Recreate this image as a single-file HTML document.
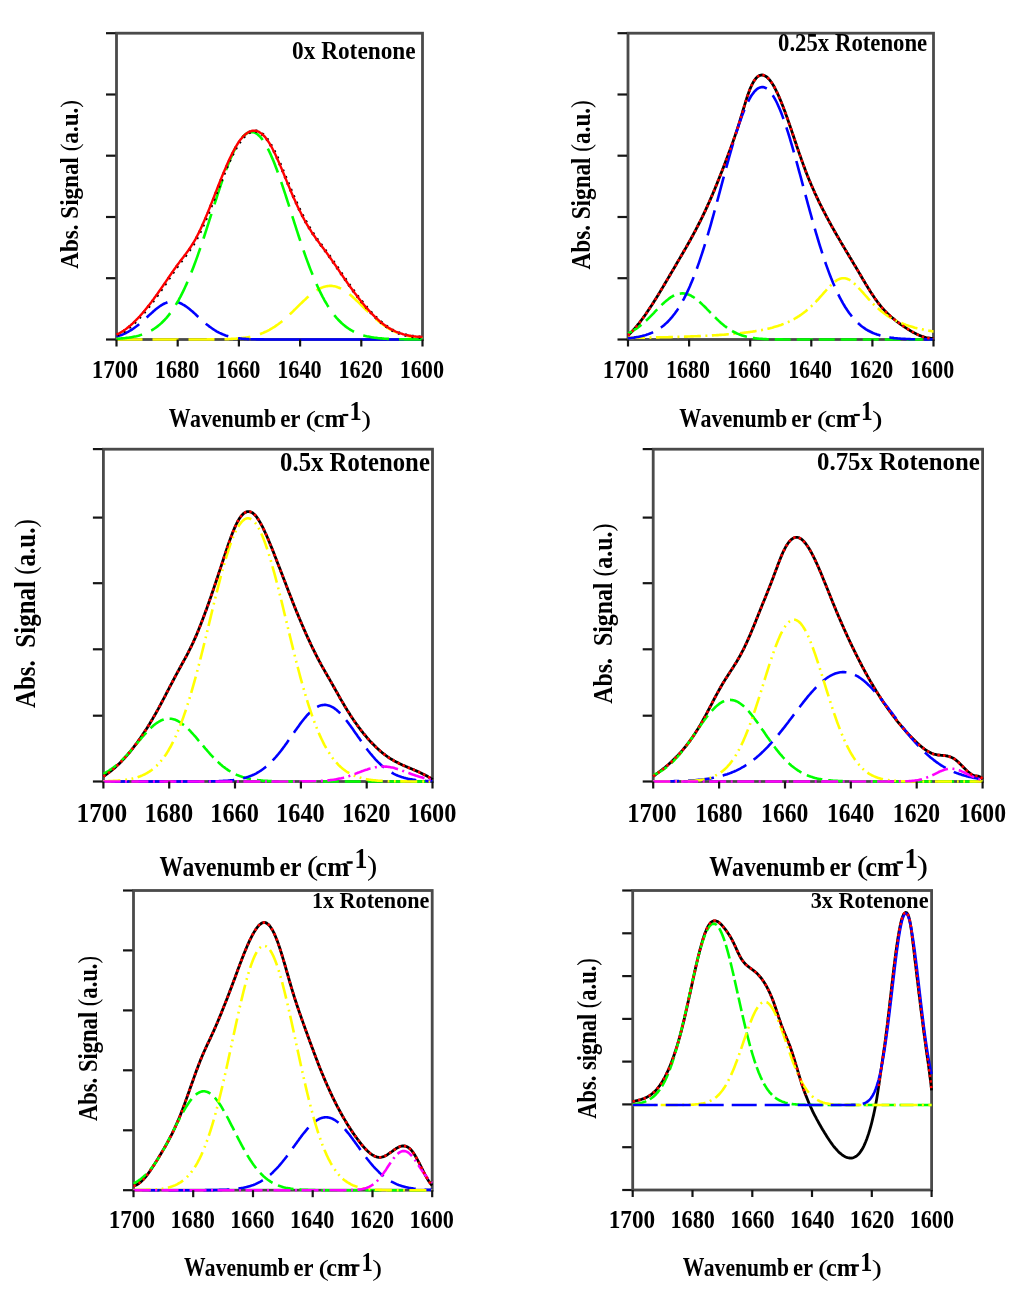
<!DOCTYPE html>
<html><head><meta charset="utf-8"><style>
html,body{margin:0;padding:0;background:#fff;}
svg{display:block;filter:blur(0.4px);}
text{font-family:"Liberation Serif", serif;font-weight:bold;fill:#000;}
</style></head><body>
<svg width="1024" height="1313" viewBox="0 0 1024 1313">
<rect width="1024" height="1313" fill="#fff"/>
<rect x="116.5" y="33.2" width="306.0" height="306.3" fill="none" stroke="#4a4a4a" stroke-width="2.8"/>
<path d="M116.5 339.5 117.5 339.5 118.5 339.5 119.5 339.5 120.5 339.5 121.5 339.5 122.5 339.5 123.5 339.5 124.5 339.5 125.5 339.5 126.5 339.5 127.5 339.5 128.5 339.5 129.5 339.5 130.5 339.5 131.5 339.5 132.5 339.5 133.5 339.5 134.5 339.5 135.5 339.5 136.5 339.5 137.5 339.5 138.5 339.5 139.5 339.5 140.5 339.5 141.5 339.5 142.5 339.5 143.5 339.5 144.5 339.5 145.5 339.5 146.5 339.5 147.5 339.5 148.5 339.5 149.5 339.5 150.5 339.5 151.5 339.5 152.5 339.5 153.5 339.5 154.5 339.5 155.5 339.5 156.5 339.5 157.5 339.5 158.5 339.5 159.5 339.5 160.5 339.5 161.5 339.5 162.5 339.5 163.5 339.5 164.5 339.5 165.5 339.5 166.5 339.5 167.5 339.5 168.5 339.5 169.5 339.5 170.5 339.5 171.5 339.5 172.5 339.5 173.5 339.5 174.5 339.5 175.5 339.5 176.5 339.5 177.5 339.5 178.5 339.5 179.5 339.5 180.5 339.5 181.5 339.5 182.5 339.5 183.5 339.5 184.5 339.5 185.5 339.5 186.5 339.5 187.5 339.5 188.5 339.5 189.5 339.5 190.5 339.5 191.5 339.5 192.5 339.5 193.5 339.5 194.5 339.5 195.5 339.5 196.5 339.5 197.5 339.5 198.5 339.5 199.5 339.5 200.5 339.5 201.5 339.5 202.5 339.5 203.5 339.5 204.5 339.5 205.5 339.5 206.5 339.5 207.5 339.4 208.5 339.4 209.5 339.4 210.5 339.4 211.5 339.4 212.5 339.4 213.5 339.4 214.5 339.4 215.5 339.4 216.5 339.4 217.5 339.3 218.5 339.3 219.5 339.3 220.5 339.3 221.5 339.3 222.5 339.3 223.5 339.2 224.5 339.2 225.5 339.2 226.5 339.1 227.5 339.1 228.5 339.1 229.5 339.0 230.5 339.0 231.5 338.9 232.5 338.9 233.5 338.8 234.5 338.7 235.5 338.7 236.5 338.6 237.5 338.5 238.5 338.4 239.5 338.3 240.5 338.2 241.5 338.1 242.5 338.0 243.5 337.8 244.5 337.7 245.5 337.6 246.5 337.4 247.5 337.2 248.5 337.1 249.5 336.9 250.5 336.7 251.5 336.5 252.5 336.2 253.5 336.0 254.5 335.7 255.5 335.5 256.5 335.2 257.5 334.9 258.5 334.5 259.5 334.2 260.5 333.9 261.5 333.5 262.5 333.1 263.5 332.7 264.5 332.2 265.5 331.8 266.5 331.3 267.5 330.8 268.5 330.3 269.5 329.8 270.5 329.2 271.5 328.6 272.5 328.0 273.5 327.4 274.5 326.8 275.5 326.1 276.5 325.4 277.5 324.7 278.5 324.0 279.5 323.2 280.5 322.5 281.5 321.7 282.5 320.8 283.5 320.0 284.5 319.2 285.5 318.3 286.5 317.4 287.5 316.5 288.5 315.6 289.5 314.7 290.5 313.7 291.5 312.8 292.5 311.8 293.5 310.8 294.5 309.8 295.5 308.9 296.5 307.9 297.5 306.9 298.5 305.9 299.5 304.9 300.5 303.9 301.5 303.0 302.5 302.0 303.5 301.0 304.5 300.1 305.5 299.2 306.5 298.2 307.5 297.3 308.5 296.5 309.5 295.6 310.5 294.8 311.5 294.0 312.5 293.2 313.5 292.5 314.5 291.7 315.5 291.1 316.5 290.4 317.5 289.8 318.5 289.2 319.5 288.7 320.5 288.2 321.5 287.8 322.5 287.4 323.5 287.0 324.5 286.7 325.5 286.5 326.5 286.3 327.5 286.1 328.5 286.0 329.5 285.9 330.5 285.9 331.5 285.9 332.5 286.0 333.5 286.2 334.5 286.3 335.5 286.6 336.5 286.8 337.5 287.2 338.5 287.5 339.5 288.0 340.5 288.4 341.5 288.9 342.5 289.5 343.5 290.0 344.5 290.7 345.5 291.3 346.5 292.0 347.5 292.7 348.5 293.5 349.5 294.3 350.5 295.1 351.5 295.9 352.5 296.8 353.5 297.7 354.5 298.6 355.5 299.5 356.5 300.5 357.5 301.4 358.5 302.4 359.5 303.3 360.5 304.3 361.5 305.3 362.5 306.3 363.5 307.3 364.5 308.3 365.5 309.3 366.5 310.2 367.5 311.2 368.5 312.2 369.5 313.1 370.5 314.1 371.5 315.0 372.5 316.0 373.5 316.9 374.5 317.8 375.5 318.6 376.5 319.5 377.5 320.3 378.5 321.2 379.5 322.0 380.5 322.8 381.5 323.5 382.5 324.3 383.5 325.0 384.5 325.7 385.5 326.4 386.5 327.0 387.5 327.7 388.5 328.3 389.5 328.9 390.5 329.5 391.5 330.0 392.5 330.5 393.5 331.0 394.5 331.5 395.5 332.0 396.5 332.4 397.5 332.8 398.5 333.2 399.5 333.6 400.5 334.0 401.5 334.3 402.5 334.7 403.5 335.0 404.5 335.3 405.5 335.6 406.5 335.8 407.5 336.1 408.5 336.3 409.5 336.5 410.5 336.8 411.5 337.0 412.5 337.1 413.5 337.3 414.5 337.5 415.5 337.6 416.5 337.8 417.5 337.9 418.5 338.0 419.5 338.1 420.5 338.2 421.5 338.4 422.5 338.4 422.5 338.4" fill="none" stroke="#ffff00" stroke-width="2.6" stroke-dasharray="26 10"/>
<path d="M116.5 336.5 117.5 336.2 118.5 335.9 119.5 335.6 120.5 335.2 121.5 334.9 122.5 334.5 123.5 334.1 124.5 333.6 125.5 333.2 126.5 332.7 127.5 332.1 128.5 331.6 129.5 331.0 130.5 330.4 131.5 329.8 132.5 329.1 133.5 328.5 134.5 327.7 135.5 327.0 136.5 326.3 137.5 325.5 138.5 324.7 139.5 323.8 140.5 323.0 141.5 322.1 142.5 321.3 143.5 320.4 144.5 319.5 145.5 318.6 146.5 317.6 147.5 316.7 148.5 315.8 149.5 314.9 150.5 314.0 151.5 313.1 152.5 312.2 153.5 311.3 154.5 310.4 155.5 309.6 156.5 308.8 157.5 308.0 158.5 307.2 159.5 306.5 160.5 305.8 161.5 305.2 162.5 304.6 163.5 304.0 164.5 303.5 165.5 303.1 166.5 302.7 167.5 302.3 168.5 302.1 169.5 301.8 170.5 301.7 171.5 301.6 172.5 301.5 173.5 301.5 174.5 301.6 175.5 301.7 176.5 301.9 177.5 302.2 178.5 302.5 179.5 302.8 180.5 303.3 181.5 303.7 182.5 304.3 183.5 304.8 184.5 305.4 185.5 306.1 186.5 306.8 187.5 307.5 188.5 308.3 189.5 309.1 190.5 309.9 191.5 310.8 192.5 311.6 193.5 312.5 194.5 313.4 195.5 314.3 196.5 315.3 197.5 316.2 198.5 317.1 199.5 318.0 200.5 318.9 201.5 319.8 202.5 320.7 203.5 321.6 204.5 322.5 205.5 323.3 206.5 324.2 207.5 325.0 208.5 325.8 209.5 326.6 210.5 327.3 211.5 328.0 212.5 328.7 213.5 329.4 214.5 330.0 215.5 330.7 216.5 331.3 217.5 331.8 218.5 332.4 219.5 332.9 220.5 333.3 221.5 333.8 222.5 334.2 223.5 334.6 224.5 335.0 225.5 335.4 226.5 335.7 227.5 336.0 228.5 336.3 229.5 336.6 230.5 336.9 231.5 337.1 232.5 337.3 233.5 337.5 234.5 337.7 235.5 337.9 236.5 338.0 237.5 338.2 238.5 338.3 239.5 338.4 240.5 338.5 241.5 338.6 242.5 338.7 243.5 338.8 244.5 338.9 245.5 338.9 246.5 339.0 247.5 339.1 248.5 339.1 249.5 339.2" fill="none" stroke="#0000ff" stroke-width="2.6" stroke-dasharray="26 10"/>
<path d="M250.5 339.2 251.5 339.2 252.5 339.3 253.5 339.3 254.5 339.3 255.5 339.3 256.5 339.4 257.5 339.4 258.5 339.4 259.5 339.4 260.5 339.4 261.5 339.4 262.5 339.4 263.5 339.4 264.5 339.5 265.5 339.5 266.5 339.5 267.5 339.5 268.5 339.5 269.5 339.5 270.5 339.5 271.5 339.5 272.5 339.5 273.5 339.5 274.5 339.5 275.5 339.5 276.5 339.5 277.5 339.5 278.5 339.5 279.5 339.5 280.5 339.5 281.5 339.5 282.5 339.5 283.5 339.5 284.5 339.5 285.5 339.5 286.5 339.5 287.5 339.5 288.5 339.5 289.5 339.5 290.5 339.5 291.5 339.5 292.5 339.5 293.5 339.5 294.5 339.5 295.5 339.5 296.5 339.5 297.5 339.5 298.5 339.5 299.5 339.5 300.5 339.5 301.5 339.5 302.5 339.5 303.5 339.5 304.5 339.5 305.5 339.5 306.5 339.5 307.5 339.5 308.5 339.5 309.5 339.5 310.5 339.5 311.5 339.5 312.5 339.5 313.5 339.5 314.5 339.5 315.5 339.5 316.5 339.5 317.5 339.5 318.5 339.5 319.5 339.5 320.5 339.5 321.5 339.5 322.5 339.5 323.5 339.5 324.5 339.5 325.5 339.5 326.5 339.5 327.5 339.5 328.5 339.5 329.5 339.5 330.5 339.5 331.5 339.5 332.5 339.5 333.5 339.5 334.5 339.5 335.5 339.5 336.5 339.5 337.5 339.5 338.5 339.5 339.5 339.5 340.5 339.5 341.5 339.5 342.5 339.5 343.5 339.5 344.5 339.5 345.5 339.5 346.5 339.5 347.5 339.5 348.5 339.5 349.5 339.5 350.5 339.5 351.5 339.5 352.5 339.5 353.5 339.5 354.5 339.5 355.5 339.5 356.5 339.5 357.5 339.5 358.5 339.5 359.5 339.5 360.5 339.5 361.5 339.5 362.5 339.5 363.5 339.5 364.5 339.5 365.5 339.5 366.5 339.5 367.5 339.5 368.5 339.5 369.5 339.5 370.5 339.5 371.5 339.5 372.5 339.5 373.5 339.5 374.5 339.5 375.5 339.5 376.5 339.5 377.5 339.5 378.5 339.5 379.5 339.5 380.5 339.5 381.5 339.5 382.5 339.5 383.5 339.5 384.5 339.5 385.5 339.5 386.5 339.5 387.5 339.5 388.5 339.5 389.5 339.5 390.5 339.5 391.5 339.5 392.5 339.5 393.5 339.5 394.5 339.5 395.5 339.5 396.5 339.5 397.5 339.5 398.5 339.5 399.5 339.5 400.5 339.5 401.5 339.5 402.5 339.5 403.5 339.5 404.5 339.5 405.5 339.5 406.5 339.5 407.5 339.5 408.5 339.5 409.5 339.5 410.5 339.5 411.5 339.5 412.5 339.5 413.5 339.5 414.5 339.5 415.5 339.5 416.5 339.5 417.5 339.5 418.5 339.5 419.5 339.5 420.5 339.5 421.5 339.5 422.5 339.5 422.5 339.5" fill="none" stroke="#0000ff" stroke-width="2.6"/>
<path d="M116.5 338.8 117.5 338.7 118.5 338.7 119.5 338.6 120.5 338.5 121.5 338.4 122.5 338.4 123.5 338.3 124.5 338.2 125.5 338.0 126.5 337.9 127.5 337.8 128.5 337.7 129.5 337.5 130.5 337.4 131.5 337.2 132.5 337.0 133.5 336.8 134.5 336.6 135.5 336.4 136.5 336.2 137.5 335.9 138.5 335.7 139.5 335.4 140.5 335.1 141.5 334.8 142.5 334.4 143.5 334.1 144.5 333.7 145.5 333.3 146.5 332.9 147.5 332.4 148.5 332.0 149.5 331.5 150.5 330.9 151.5 330.4 152.5 329.8 153.5 329.2 154.5 328.5 155.5 327.9 156.5 327.1 157.5 326.4 158.5 325.6 159.5 324.8 160.5 323.9 161.5 323.0 162.5 322.0 163.5 321.0 164.5 320.0 165.5 318.9 166.5 317.8 167.5 316.6 168.5 315.4 169.5 314.1 170.5 312.8 171.5 311.4 172.5 310.0 173.5 308.5 174.5 307.0 175.5 305.4 176.5 303.7 177.5 302.0 178.5 300.3 179.5 298.4 180.5 296.6 181.5 294.6 182.5 292.6 183.5 290.6 184.5 288.5 185.5 286.3 186.5 284.1 187.5 281.8 188.5 279.5 189.5 277.1 190.5 274.6 191.5 272.1 192.5 269.6 193.5 267.0 194.5 264.3 195.5 261.6 196.5 258.9 197.5 256.1 198.5 253.2 199.5 250.4 200.5 247.5 201.5 244.5 202.5 241.5 203.5 238.5 204.5 235.5 205.5 232.4 206.5 229.3 207.5 226.2 208.5 223.1 209.5 219.9 210.5 216.8 211.5 213.6 212.5 210.5 213.5 207.4 214.5 204.2 215.5 201.1 216.5 198.0 217.5 194.9 218.5 191.9 219.5 188.8 220.5 185.8 221.5 182.9 222.5 180.0 223.5 177.1 224.5 174.3 225.5 171.5 226.5 168.8 227.5 166.2 228.5 163.6 229.5 161.1 230.5 158.7 231.5 156.4 232.5 154.1 233.5 152.0 234.5 149.9 235.5 148.0 236.5 146.1 237.5 144.3 238.5 142.7 239.5 141.1 240.5 139.7 241.5 138.4 242.5 137.2 243.5 136.1 244.5 135.2 245.5 134.3 246.5 133.6 247.5 133.0 248.5 132.6 249.5 132.3 250.5 132.1 251.5 132.0 252.5 132.1 253.5 132.3 254.5 132.6 255.5 133.0 256.5 133.6 257.5 134.3 258.5 135.2 259.5 136.1 260.5 137.2 261.5 138.4 262.5 139.7 263.5 141.1 264.5 142.7 265.5 144.3 266.5 146.1 267.5 148.0 268.5 149.9 269.5 152.0 270.5 154.1 271.5 156.4 272.5 158.7 273.5 161.1 274.5 163.6 275.5 166.2 276.5 168.8 277.5 171.5 278.5 174.3 279.5 177.1 280.5 180.0 281.5 182.9 282.5 185.8 283.5 188.8 284.5 191.9 285.5 194.9 286.5 198.0 287.5 201.1 288.5 204.2 289.5 207.4 290.5 210.5 291.5 213.6 292.5 216.8 293.5 219.9 294.5 223.1 295.5 226.2 296.5 229.3 297.5 232.4 298.5 235.5 299.5 238.5 300.5 241.5 301.5 244.5 302.5 247.5 303.5 250.4 304.5 253.2 305.5 256.1 306.5 258.9 307.5 261.6 308.5 264.3 309.5 267.0 310.5 269.6 311.5 272.1 312.5 274.6 313.5 277.1 314.5 279.5 315.5 281.8 316.5 284.1 317.5 286.3 318.5 288.5 319.5 290.6 320.5 292.6 321.5 294.6 322.5 296.6 323.5 298.4 324.5 300.3 325.5 302.0 326.5 303.7 327.5 305.4 328.5 307.0 329.5 308.5 330.5 310.0 331.5 311.4 332.5 312.8 333.5 314.1 334.5 315.4 335.5 316.6 336.5 317.8 337.5 318.9 338.5 320.0 339.5 321.0 340.5 322.0 341.5 323.0 342.5 323.9 343.5 324.8 344.5 325.6 345.5 326.4 346.5 327.1 347.5 327.9 348.5 328.5 349.5 329.2 350.5 329.8 351.5 330.4 352.5 330.9 353.5 331.5 354.5 332.0 355.5 332.4 356.5 332.9 357.5 333.3 358.5 333.7 359.5 334.1 360.5 334.4 361.5 334.8 362.5 335.1 363.5 335.4 364.5 335.7 365.5 335.9 366.5 336.2 367.5 336.4 368.5 336.6 369.5 336.8 370.5 337.0 371.5 337.2 372.5 337.4 373.5 337.5 374.5 337.7 375.5 337.8 376.5 337.9 377.5 338.0 378.5 338.2 379.5 338.3 380.5 338.4 381.5 338.4 382.5 338.5 383.5 338.6 384.5 338.7 385.5 338.7 386.5 338.8 387.5 338.9 388.5 338.9 389.5 339.0 390.5 339.0 391.5 339.0 392.5 339.1 393.5 339.1 394.5 339.2 395.5 339.2 396.5 339.2 397.5 339.2 398.5 339.3 399.5 339.3 400.5 339.3 401.5 339.3 402.5 339.3 403.5 339.3 404.5 339.4 405.5 339.4 406.5 339.4 407.5 339.4 408.5 339.4 409.5 339.4 410.5 339.4 411.5 339.4 412.5 339.4 413.5 339.4 414.5 339.4 415.5 339.5 416.5 339.5 417.5 339.5 418.5 339.5 419.5 339.5 420.5 339.5 421.5 339.5 422.5 339.5 422.5 339.5" fill="none" stroke="#00ff00" stroke-width="2.6" stroke-dasharray="26 10"/>
<path d="M116.5 334.6 117.5 334.1 118.5 333.7 119.5 333.2 120.5 332.6 121.5 332.0 122.5 331.4 123.5 330.8 124.5 330.1 125.5 329.4 126.5 328.6 127.5 327.8 128.5 327.0 129.5 326.2 130.5 325.4 131.5 324.5 132.5 323.6 133.5 322.6 134.5 321.7 135.5 320.7 136.5 319.6 137.5 318.6 138.5 317.5 139.5 316.5 140.5 315.4 141.5 314.2 142.5 313.1 143.5 311.9 144.5 310.7 145.5 309.5 146.5 308.3 147.5 307.0 148.5 305.7 149.5 304.5 150.5 303.2 151.5 301.9 152.5 300.5 153.5 299.2 154.5 297.8 155.5 296.4 156.5 295.1 157.5 293.7 158.5 292.2 159.5 290.8 160.5 289.4 161.5 287.9 162.5 286.5 163.5 285.0 164.5 283.6 165.5 282.1 166.5 280.6 167.5 279.2 168.5 277.7 169.5 276.2 170.5 274.8 171.5 273.3 172.5 271.9 173.5 270.4 174.5 269.0 175.5 267.6 176.5 266.2 177.5 264.8 178.5 263.5 179.5 262.1 180.5 260.8 181.5 259.5 182.5 258.2 183.5 256.9 184.5 255.6 185.5 254.3 186.5 252.9 187.5 251.6 188.5 250.2 189.5 248.7 190.5 247.3 191.5 245.7 192.5 244.2 193.5 242.5 194.5 240.8 195.5 239.1 196.5 237.2 197.5 235.3 198.5 233.4 199.5 231.3 200.5 229.2 201.5 227.0 202.5 224.8 203.5 222.6 204.5 220.3 205.5 217.9 206.5 215.5 207.5 213.1 208.5 210.6 209.5 208.2 210.5 205.7 211.5 203.1 212.5 200.6 213.5 198.1 214.5 195.5 215.5 192.9 216.5 190.4 217.5 187.8 218.5 185.3 219.5 182.8 220.5 180.3 221.5 177.8 222.5 175.3 223.5 172.9 224.5 170.5 225.5 168.1 226.5 165.8 227.5 163.5 228.5 161.3 229.5 159.1 230.5 157.0 231.5 154.9 232.5 152.9 233.5 151.0 234.5 149.1 235.5 147.3 236.5 145.6 237.5 144.0 238.5 142.4 239.5 141.0 240.5 139.6 241.5 138.4 242.5 137.2 243.5 136.1 244.5 135.1 245.5 134.3 246.5 133.5 247.5 132.8 248.5 132.2 249.5 131.7 250.5 131.3 251.5 131.0 252.5 130.8 253.5 130.7 254.5 130.7 255.5 130.8 256.5 131.0 257.5 131.3 258.5 131.7 259.5 132.2 260.5 132.9 261.5 133.6 262.5 134.4 263.5 135.4 264.5 136.4 265.5 137.6 266.5 138.9 267.5 140.3 268.5 141.8 269.5 143.4 270.5 145.1 271.5 146.8 272.5 148.7 273.5 150.7 274.5 152.7 275.5 154.8 276.5 156.9 277.5 159.2 278.5 161.4 279.5 163.7 280.5 166.1 281.5 168.4 282.5 170.9 283.5 173.3 284.5 175.7 285.5 178.2 286.5 180.6 287.5 183.1 288.5 185.5 289.5 187.9 290.5 190.3 291.5 192.7 292.5 195.0 293.5 197.4 294.5 199.6 295.5 201.8 296.5 204.0 297.5 206.2 298.5 208.3 299.5 210.3 300.5 212.3 301.5 214.3 302.5 216.3 303.5 218.1 304.5 220.0 305.5 221.8 306.5 223.6 307.5 225.3 308.5 227.0 309.5 228.6 310.5 230.2 311.5 231.8 312.5 233.3 313.5 234.8 314.5 236.2 315.5 237.7 316.5 239.1 317.5 240.5 318.5 241.8 319.5 243.2 320.5 244.5 321.5 245.9 322.5 247.2 323.5 248.5 324.5 249.9 325.5 251.2 326.5 252.6 327.5 254.0 328.5 255.4 329.5 256.8 330.5 258.2 331.5 259.6 332.5 261.1 333.5 262.5 334.5 264.0 335.5 265.4 336.5 266.9 337.5 268.4 338.5 269.8 339.5 271.3 340.5 272.8 341.5 274.3 342.5 275.7 343.5 277.2 344.5 278.6 345.5 280.1 346.5 281.5 347.5 283.0 348.5 284.4 349.5 285.8 350.5 287.2 351.5 288.6 352.5 289.9 353.5 291.3 354.5 292.7 355.5 294.0 356.5 295.3 357.5 296.6 358.5 297.9 359.5 299.2 360.5 300.5 361.5 301.7 362.5 303.0 363.5 304.2 364.5 305.4 365.5 306.6 366.5 307.7 367.5 308.9 368.5 310.0 369.5 311.1 370.5 312.2 371.5 313.3 372.5 314.3 373.5 315.3 374.5 316.3 375.5 317.3 376.5 318.3 377.5 319.2 378.5 320.1 379.5 321.0 380.5 321.8 381.5 322.7 382.5 323.5 383.5 324.3 384.5 325.0 385.5 325.7 386.5 326.4 387.5 327.1 388.5 327.7 389.5 328.4 390.5 328.9 391.5 329.5 392.5 330.0 393.5 330.5 394.5 331.0 395.5 331.5 396.5 331.9 397.5 332.3 398.5 332.7 399.5 333.1 400.5 333.4 401.5 333.7 402.5 334.0 403.5 334.3 404.5 334.6 405.5 334.8 406.5 335.1 407.5 335.3 408.5 335.5 409.5 335.7 410.5 335.8 411.5 336.0 412.5 336.1 413.5 336.3 414.5 336.4 415.5 336.5 416.5 336.6 417.5 336.7 418.5 336.7 419.5 336.8 420.5 336.9 421.5 336.9 422.5 337.0 422.5 337.0" fill="none" stroke="#000" stroke-width="3.4" stroke-dasharray="2 5" transform="translate(0.6,0.4)"/>
<path d="M116.5 334.6 117.5 334.1 118.5 333.7 119.5 333.2 120.5 332.6 121.5 332.0 122.5 331.4 123.5 330.8 124.5 330.1 125.5 329.4 126.5 328.6 127.5 327.8 128.5 327.0 129.5 326.2 130.5 325.4 131.5 324.5 132.5 323.6 133.5 322.6 134.5 321.7 135.5 320.7 136.5 319.6 137.5 318.6 138.5 317.5 139.5 316.5 140.5 315.4 141.5 314.2 142.5 313.1 143.5 311.9 144.5 310.7 145.5 309.5 146.5 308.3 147.5 307.0 148.5 305.7 149.5 304.5 150.5 303.2 151.5 301.9 152.5 300.5 153.5 299.2 154.5 297.8 155.5 296.4 156.5 295.1 157.5 293.7 158.5 292.2 159.5 290.8 160.5 289.4 161.5 287.9 162.5 286.5 163.5 285.0 164.5 283.6 165.5 282.1 166.5 280.6 167.5 279.2 168.5 277.7 169.5 276.2 170.5 274.8 171.5 273.3 172.5 271.9 173.5 270.4 174.5 269.0 175.5 267.6 176.5 266.2 177.5 264.8 178.5 263.5 179.5 262.1 180.5 260.8 181.5 259.5 182.5 258.2 183.5 256.9 184.5 255.6 185.5 254.3 186.5 252.9 187.5 251.6 188.5 250.2 189.5 248.7 190.5 247.3 191.5 245.7 192.5 244.2 193.5 242.5 194.5 240.8 195.5 239.1 196.5 237.2 197.5 235.3 198.5 233.4 199.5 231.3 200.5 229.2 201.5 227.0 202.5 224.8 203.5 222.6 204.5 220.3 205.5 217.9 206.5 215.5 207.5 213.1 208.5 210.6 209.5 208.2 210.5 205.7 211.5 203.1 212.5 200.6 213.5 198.1 214.5 195.5 215.5 192.9 216.5 190.4 217.5 187.8 218.5 185.3 219.5 182.8 220.5 180.3 221.5 177.8 222.5 175.3 223.5 172.9 224.5 170.5 225.5 168.1 226.5 165.8 227.5 163.5 228.5 161.3 229.5 159.1 230.5 157.0 231.5 154.9 232.5 152.9 233.5 151.0 234.5 149.1 235.5 147.3 236.5 145.6 237.5 144.0 238.5 142.4 239.5 141.0 240.5 139.6 241.5 138.4 242.5 137.2 243.5 136.1 244.5 135.1 245.5 134.3 246.5 133.5 247.5 132.8 248.5 132.2 249.5 131.7 250.5 131.3 251.5 131.0 252.5 130.8 253.5 130.7 254.5 130.7 255.5 130.8 256.5 131.0 257.5 131.3 258.5 131.7 259.5 132.2 260.5 132.9 261.5 133.6 262.5 134.4 263.5 135.4 264.5 136.4 265.5 137.6 266.5 138.9 267.5 140.3 268.5 141.8 269.5 143.4 270.5 145.1 271.5 146.8 272.5 148.7 273.5 150.7 274.5 152.7 275.5 154.8 276.5 156.9 277.5 159.2 278.5 161.4 279.5 163.7 280.5 166.1 281.5 168.4 282.5 170.9 283.5 173.3 284.5 175.7 285.5 178.2 286.5 180.6 287.5 183.1 288.5 185.5 289.5 187.9 290.5 190.3 291.5 192.7 292.5 195.0 293.5 197.4 294.5 199.6 295.5 201.8 296.5 204.0 297.5 206.2 298.5 208.3 299.5 210.3 300.5 212.3 301.5 214.3 302.5 216.3 303.5 218.1 304.5 220.0 305.5 221.8 306.5 223.6 307.5 225.3 308.5 227.0 309.5 228.6 310.5 230.2 311.5 231.8 312.5 233.3 313.5 234.8 314.5 236.2 315.5 237.7 316.5 239.1 317.5 240.5 318.5 241.8 319.5 243.2 320.5 244.5 321.5 245.9 322.5 247.2 323.5 248.5 324.5 249.9 325.5 251.2 326.5 252.6 327.5 254.0 328.5 255.4 329.5 256.8 330.5 258.2 331.5 259.6 332.5 261.1 333.5 262.5 334.5 264.0 335.5 265.4 336.5 266.9 337.5 268.4 338.5 269.8 339.5 271.3 340.5 272.8 341.5 274.3 342.5 275.7 343.5 277.2 344.5 278.6 345.5 280.1 346.5 281.5 347.5 283.0 348.5 284.4 349.5 285.8 350.5 287.2 351.5 288.6 352.5 289.9 353.5 291.3 354.5 292.7 355.5 294.0 356.5 295.3 357.5 296.6 358.5 297.9 359.5 299.2 360.5 300.5 361.5 301.7 362.5 303.0 363.5 304.2 364.5 305.4 365.5 306.6 366.5 307.7 367.5 308.9 368.5 310.0 369.5 311.1 370.5 312.2 371.5 313.3 372.5 314.3 373.5 315.3 374.5 316.3 375.5 317.3 376.5 318.3 377.5 319.2 378.5 320.1 379.5 321.0 380.5 321.8 381.5 322.7 382.5 323.5 383.5 324.3 384.5 325.0 385.5 325.7 386.5 326.4 387.5 327.1 388.5 327.7 389.5 328.4 390.5 328.9 391.5 329.5 392.5 330.0 393.5 330.5 394.5 331.0 395.5 331.5 396.5 331.9 397.5 332.3 398.5 332.7 399.5 333.1 400.5 333.4 401.5 333.7 402.5 334.0 403.5 334.3 404.5 334.6 405.5 334.8 406.5 335.1 407.5 335.3 408.5 335.5 409.5 335.7 410.5 335.8 411.5 336.0 412.5 336.1 413.5 336.3 414.5 336.4 415.5 336.5 416.5 336.6 417.5 336.7 418.5 336.7 419.5 336.8 420.5 336.9 421.5 336.9 422.5 337.0 422.5 337.0" fill="none" stroke="#ff0000" stroke-width="2.4"/>
<line x1="106.0" y1="33.2" x2="115.5" y2="33.2" stroke="#151515" stroke-width="2.2"/>
<line x1="106.0" y1="94.5" x2="115.5" y2="94.5" stroke="#151515" stroke-width="2.2"/>
<line x1="106.0" y1="155.7" x2="115.5" y2="155.7" stroke="#151515" stroke-width="2.2"/>
<line x1="106.0" y1="217.0" x2="115.5" y2="217.0" stroke="#151515" stroke-width="2.2"/>
<line x1="106.0" y1="278.2" x2="115.5" y2="278.2" stroke="#151515" stroke-width="2.2"/>
<line x1="106.0" y1="339.5" x2="115.5" y2="339.5" stroke="#151515" stroke-width="2.2"/>
<line x1="116.5" y1="339.5" x2="116.5" y2="346.5" stroke="#151515" stroke-width="2.2"/>
<line x1="177.7" y1="339.5" x2="177.7" y2="346.5" stroke="#151515" stroke-width="2.2"/>
<line x1="238.9" y1="339.5" x2="238.9" y2="346.5" stroke="#151515" stroke-width="2.2"/>
<line x1="300.1" y1="339.5" x2="300.1" y2="346.5" stroke="#151515" stroke-width="2.2"/>
<line x1="361.3" y1="339.5" x2="361.3" y2="346.5" stroke="#151515" stroke-width="2.2"/>
<line x1="422.5" y1="339.5" x2="422.5" y2="346.5" stroke="#151515" stroke-width="2.2"/>
<text x="91.64" y="377.90" font-size="25.71" textLength="46.44" lengthAdjust="spacingAndGlyphs" >1700</text>
<text x="154.84" y="377.90" font-size="25.71" textLength="44.44" lengthAdjust="spacingAndGlyphs" >1680</text>
<text x="216.04" y="377.90" font-size="25.71" textLength="44.44" lengthAdjust="spacingAndGlyphs" >1660</text>
<text x="277.24" y="377.90" font-size="25.71" textLength="44.44" lengthAdjust="spacingAndGlyphs" >1640</text>
<text x="338.44" y="377.90" font-size="25.71" textLength="44.44" lengthAdjust="spacingAndGlyphs" >1620</text>
<text x="399.64" y="377.90" font-size="25.71" textLength="44.44" lengthAdjust="spacingAndGlyphs" >1600</text>
<text x="292.03" y="59.20" font-size="25.41" textLength="123.63" lengthAdjust="spacingAndGlyphs" >0x Rotenone</text>
<text x="168.73" y="427.20" font-size="26.27" textLength="21.89" lengthAdjust="spacingAndGlyphs" >W</text>
<g transform="translate(0,427.20) scale(1,0.950) translate(0,-427.20)"><text x="189.95" y="427.20" font-size="26.27" textLength="86.32" lengthAdjust="spacingAndGlyphs" >avenumb</text></g>
<g transform="translate(0,427.20) scale(1,0.950) translate(0,-427.20)"><text x="280.20" y="427.20" font-size="26.27" textLength="20.26" lengthAdjust="spacingAndGlyphs" >er</text></g>
<text x="305.48" y="426.56" font-size="23.62" textLength="10.59" lengthAdjust="spacingAndGlyphs" style="font-weight:normal">(</text>
<g transform="translate(0,427.20) scale(1,0.950) translate(0,-427.20)"><text x="313.51" y="427.20" font-size="26.27" textLength="31.43" lengthAdjust="spacingAndGlyphs" >cm</text></g>
<rect x="342.50" y="413.90" width="5.80" height="2.20" fill="#000"/>
<text x="349.50" y="419.90" font-size="27.42" textLength="12.21" lengthAdjust="spacingAndGlyphs" >1</text>
<text x="361.24" y="426.56" font-size="23.62" textLength="9.80" lengthAdjust="spacingAndGlyphs" style="font-weight:normal">)</text>
<text transform="translate(78.20,268.65) rotate(-90)" font-size="26.05" textLength="168.60" lengthAdjust="spacingAndGlyphs" xml:space="preserve" >Abs. Signal <tspan font-weight="normal">(</tspan>a.u.<tspan font-weight="normal">)</tspan></text>
<rect x="628.0" y="33.2" width="305.5" height="306.3" fill="none" stroke="#4a4a4a" stroke-width="2.8"/>
<path d="M628.0 335.5 629.0 334.5 630.0 333.5 631.0 332.5 632.0 331.5 633.0 330.4 634.0 329.3 635.0 328.1 636.0 327.0 637.0 325.8 638.0 324.5 639.0 323.3 640.0 322.0 641.0 320.7 642.0 319.3 643.0 318.0 644.0 316.6 645.0 315.2 646.0 313.8 647.0 312.3 648.0 310.8 649.0 309.3 650.0 307.8 651.0 306.3 652.0 304.8 653.0 303.2 654.0 301.6 655.0 300.0 656.0 298.4 657.0 296.8 658.0 295.2 659.0 293.6 660.0 291.9 661.0 290.2 662.0 288.6 663.0 286.9 664.0 285.2 665.0 283.5 666.0 281.8 667.0 280.1 668.0 278.4 669.0 276.7 670.0 275.0 671.0 273.3 672.0 271.6 673.0 269.9 674.0 268.2 675.0 266.5 676.0 264.8 677.0 263.0 678.0 261.3 679.0 259.6 680.0 257.9 681.0 256.2 682.0 254.5 683.0 252.8 684.0 251.0 685.0 249.3 686.0 247.6 687.0 245.8 688.0 244.0 689.0 242.2 690.0 240.5 691.0 238.6 692.0 236.8 693.0 235.0 694.0 233.1 695.0 231.3 696.0 229.4 697.0 227.4 698.0 225.5 699.0 223.5 700.0 221.6 701.0 219.6 702.0 217.5 703.0 215.5 704.0 213.4 705.0 211.3 706.0 209.1 707.0 206.9 708.0 204.7 709.0 202.5 710.0 200.2 711.0 197.9 712.0 195.6 713.0 193.3 714.0 190.9 715.0 188.5 716.0 186.0 717.0 183.6 718.0 181.1 719.0 178.6 720.0 176.1 721.0 173.5 722.0 171.0 723.0 168.4 724.0 165.8 725.0 163.2 726.0 160.5 727.0 157.9 728.0 155.2 729.0 152.6 730.0 149.9 731.0 147.1 732.0 144.4 733.0 141.6 734.0 138.8 735.0 135.9 736.0 132.9 737.0 129.9 738.0 126.9 739.0 123.7 740.0 120.5 741.0 117.1 742.0 113.8 743.0 110.4 744.0 107.1 745.0 103.8 746.0 100.6 747.0 97.5 748.0 94.5 749.0 91.7 750.0 89.1 751.0 86.7 752.0 84.6 753.0 82.7 754.0 81.0 755.0 79.6 756.0 78.3 757.0 77.3 758.0 76.4 759.0 75.8 760.0 75.4 761.0 75.1 762.0 75.0 763.0 75.1 764.0 75.4 765.0 75.9 766.0 76.5 767.0 77.2 768.0 78.2 769.0 79.2 770.0 80.4 771.0 81.8 772.0 83.2 773.0 84.8 774.0 86.5 775.0 88.4 776.0 90.3 777.0 92.4 778.0 94.5 779.0 96.7 780.0 99.1 781.0 101.5 782.0 104.0 783.0 106.5 784.0 109.2 785.0 111.8 786.0 114.6 787.0 117.4 788.0 120.2 789.0 123.1 790.0 126.0 791.0 128.9 792.0 131.9 793.0 134.8 794.0 137.8 795.0 140.8 796.0 143.7 797.0 146.7 798.0 149.6 799.0 152.6 800.0 155.4 801.0 158.3 802.0 161.1 803.0 163.9 804.0 166.6 805.0 169.3 806.0 171.9 807.0 174.4 808.0 176.9 809.0 179.4 810.0 181.8 811.0 184.2 812.0 186.5 813.0 188.8 814.0 191.0 815.0 193.3 816.0 195.4 817.0 197.6 818.0 199.7 819.0 201.8 820.0 203.8 821.0 205.8 822.0 207.8 823.0 209.8 824.0 211.7 825.0 213.7 826.0 215.6 827.0 217.5 828.0 219.3 829.0 221.2 830.0 223.0 831.0 224.8 832.0 226.7 833.0 228.4 834.0 230.2 835.0 232.0 836.0 233.7 837.0 235.5 838.0 237.2 839.0 238.9 840.0 240.6 841.0 242.4 842.0 244.1 843.0 245.7 844.0 247.4 845.0 249.1 846.0 250.8 847.0 252.5 848.0 254.1 849.0 255.8 850.0 257.5 851.0 259.1 852.0 260.8 853.0 262.5 854.0 264.2 855.0 265.8 856.0 267.5 857.0 269.2 858.0 270.9 859.0 272.6 860.0 274.3 861.0 276.0 862.0 277.7 863.0 279.4 864.0 281.0 865.0 282.7 866.0 284.4 867.0 286.0 868.0 287.7 869.0 289.3 870.0 290.9 871.0 292.5 872.0 294.0 873.0 295.5 874.0 297.0 875.0 298.5 876.0 299.9 877.0 301.3 878.0 302.7 879.0 304.0 880.0 305.2 881.0 306.5 882.0 307.6 883.0 308.8 884.0 309.9 885.0 311.0 886.0 312.0 887.0 313.0 888.0 314.0 889.0 314.9 890.0 315.8 891.0 316.7 892.0 317.6 893.0 318.4 894.0 319.2 895.0 320.0 896.0 320.8 897.0 321.6 898.0 322.3 899.0 323.0 900.0 323.8 901.0 324.5 902.0 325.2 903.0 325.9 904.0 326.6 905.0 327.3 906.0 327.9 907.0 328.6 908.0 329.2 909.0 329.9 910.0 330.5 911.0 331.1 912.0 331.7 913.0 332.2 914.0 332.8 915.0 333.3 916.0 333.8 917.0 334.3 918.0 334.8 919.0 335.2 920.0 335.6 921.0 336.0 922.0 336.4 923.0 336.7 924.0 337.0 925.0 337.3 926.0 337.6 927.0 337.8 928.0 338.0 929.0 338.1 930.0 338.2 931.0 338.3 932.0 338.4 933.0 338.4 933.5 338.4" fill="none" stroke="#000" stroke-width="2.8"/>
<path d="M628.0 337.9 629.0 337.9 630.0 337.9 631.0 337.9 632.0 337.9 633.0 337.9 634.0 337.8 635.0 337.8 636.0 337.8 637.0 337.8 638.0 337.8 639.0 337.8 640.0 337.7 641.0 337.7 642.0 337.7 643.0 337.7 644.0 337.7 645.0 337.7 646.0 337.6 647.0 337.6 648.0 337.6 649.0 337.6 650.0 337.6 651.0 337.5 652.0 337.5 653.0 337.5 654.0 337.5 655.0 337.5 656.0 337.4 657.0 337.4 658.0 337.4 659.0 337.4 660.0 337.3 661.0 337.3 662.0 337.3 663.0 337.3 664.0 337.3 665.0 337.2 666.0 337.2 667.0 337.2 668.0 337.2 669.0 337.1 670.0 337.1 671.0 337.1 672.0 337.0 673.0 337.0 674.0 337.0 675.0 337.0 676.0 336.9 677.0 336.9 678.0 336.9 679.0 336.8 680.0 336.8 681.0 336.8 682.0 336.8 683.0 336.7 684.0 336.7 685.0 336.6 686.0 336.6 687.0 336.6 688.0 336.5 689.0 336.5 690.0 336.5 691.0 336.4 692.0 336.4 693.0 336.4 694.0 336.3 695.0 336.3 696.0 336.2 697.0 336.2 698.0 336.1 699.0 336.1 700.0 336.1 701.0 336.0 702.0 336.0 703.0 335.9 704.0 335.9 705.0 335.8 706.0 335.8 707.0 335.7 708.0 335.7 709.0 335.6 710.0 335.6 711.0 335.5 712.0 335.4 713.0 335.4 714.0 335.3 715.0 335.3 716.0 335.2 717.0 335.1 718.0 335.1 719.0 335.0 720.0 334.9 721.0 334.9 722.0 334.8 723.0 334.7 724.0 334.7 725.0 334.6 726.0 334.5 727.0 334.4 728.0 334.3 729.0 334.3 730.0 334.2 731.0 334.1 732.0 334.0 733.0 333.9 734.0 333.8 735.0 333.7 736.0 333.6 737.0 333.5 738.0 333.4 739.0 333.3 740.0 333.2 741.0 333.1 742.0 333.0 743.0 332.9 744.0 332.8 745.0 332.6 746.0 332.5 747.0 332.4 748.0 332.2 749.0 332.1 750.0 332.0 751.0 331.8 752.0 331.7 753.0 331.5 754.0 331.4 755.0 331.2 756.0 331.0 757.0 330.9 758.0 330.7 759.0 330.5 760.0 330.3 761.0 330.1 762.0 330.0 763.0 329.8 764.0 329.5 765.0 329.3 766.0 329.1 767.0 328.9 768.0 328.7 769.0 328.4 770.0 328.2 771.0 327.9 772.0 327.7 773.0 327.4 774.0 327.1 775.0 326.8 776.0 326.5 777.0 326.2 778.0 325.9 779.0 325.6 780.0 325.2 781.0 324.9 782.0 324.5 783.0 324.1 784.0 323.7 785.0 323.3 786.0 322.9 787.0 322.5 788.0 322.1 789.0 321.6 790.0 321.1 791.0 320.6 792.0 320.1 793.0 319.6 794.0 319.1 795.0 318.5 796.0 317.9 797.0 317.3 798.0 316.7 799.0 316.1 800.0 315.4 801.0 314.7 802.0 314.0 803.0 313.3 804.0 312.5 805.0 311.8 806.0 311.0 807.0 310.1 808.0 309.3 809.0 308.4 810.0 307.5 811.0 306.6 812.0 305.6 813.0 304.7 814.0 303.7 815.0 302.6 816.0 301.6 817.0 300.5 818.0 299.5 819.0 298.4 820.0 297.2 821.0 296.1 822.0 295.0 823.0 293.9 824.0 292.7 825.0 291.6 826.0 290.5 827.0 289.3 828.0 288.3 829.0 287.2 830.0 286.1 831.0 285.1 832.0 284.2 833.0 283.3 834.0 282.4 835.0 281.6 836.0 280.9 837.0 280.2 838.0 279.7 839.0 279.2 840.0 278.8 841.0 278.5 842.0 278.3 843.0 278.2 844.0 278.2 845.0 278.3 846.0 278.5 847.0 278.8 848.0 279.2 849.0 279.7 850.0 280.2 851.0 280.9 852.0 281.6 853.0 282.4 854.0 283.3 855.0 284.2 856.0 285.1 857.0 286.1 858.0 287.2 859.0 288.3 860.0 289.3 861.0 290.5 862.0 291.6 863.0 292.7 864.0 293.9 865.0 295.0 866.0 296.1 867.0 297.2 868.0 298.4 869.0 299.5 870.0 300.5 871.0 301.6 872.0 302.6 873.0 303.7 874.0 304.7 875.0 305.6 876.0 306.6 877.0 307.5 878.0 308.4 879.0 309.3 880.0 310.1 881.0 311.0 882.0 311.8 883.0 312.5 884.0 313.3 885.0 314.0 886.0 314.7 887.0 315.4 888.0 316.1 889.0 316.7 890.0 317.3 891.0 317.9 892.0 318.5 893.0 319.1 894.0 319.6 895.0 320.1 896.0 320.6 897.0 321.1 898.0 321.6 899.0 322.1 900.0 322.5 901.0 322.9 902.0 323.3 903.0 323.7 904.0 324.1 905.0 324.5 906.0 324.9 907.0 325.2 908.0 325.6 909.0 325.9 910.0 326.2 911.0 326.5 912.0 326.8 913.0 327.1 914.0 327.4 915.0 327.7 916.0 327.9 917.0 328.2 918.0 328.4 919.0 328.7 920.0 328.9 921.0 329.1 922.0 329.3 923.0 329.5 924.0 329.8 925.0 330.0 926.0 330.1 927.0 330.3 928.0 330.5 929.0 330.7 930.0 330.9 931.0 331.0 932.0 331.2 933.0 331.4 933.5 331.4" fill="none" stroke="#ffff00" stroke-width="2.6" stroke-dasharray="17 4.5 2 4.5"/>
<path d="M628.0 333.3 629.0 332.8 630.0 332.3 631.0 331.8 632.0 331.3 633.0 330.7 634.0 330.1 635.0 329.4 636.0 328.8 637.0 328.1 638.0 327.4 639.0 326.6 640.0 325.9 641.0 325.1 642.0 324.2 643.0 323.4 644.0 322.5 645.0 321.6 646.0 320.7 647.0 319.8 648.0 318.8 649.0 317.8 650.0 316.8 651.0 315.8 652.0 314.8 653.0 313.8 654.0 312.8 655.0 311.7 656.0 310.7 657.0 309.7 658.0 308.7 659.0 307.6 660.0 306.6 661.0 305.7 662.0 304.7 663.0 303.7 664.0 302.8 665.0 301.9 666.0 301.0 667.0 300.2 668.0 299.4 669.0 298.6 670.0 297.9 671.0 297.2 672.0 296.6 673.0 296.0 674.0 295.5 675.0 295.0 676.0 294.6 677.0 294.3 678.0 294.0 679.0 293.7 680.0 293.6 681.0 293.5 682.0 293.4 683.0 293.4 684.0 293.5 685.0 293.6 686.0 293.8 687.0 294.1 688.0 294.4 689.0 294.8 690.0 295.2 691.0 295.7 692.0 296.3 693.0 296.9 694.0 297.5 695.0 298.2 696.0 298.9 697.0 299.7 698.0 300.5 699.0 301.4 700.0 302.3 701.0 303.2 702.0 304.1 703.0 305.1 704.0 306.0 705.0 307.0 706.0 308.0 707.0 309.1 708.0 310.1 709.0 311.1 710.0 312.2 711.0 313.2 712.0 314.2 713.0 315.2 714.0 316.2 715.0 317.2 716.0 318.2 717.0 319.2 718.0 320.1 719.0 321.1 720.0 322.0 721.0 322.9 722.0 323.7 723.0 324.6 724.0 325.4 725.0 326.2 726.0 326.9 727.0 327.7 728.0 328.4 729.0 329.1 730.0 329.7 731.0 330.3 732.0 330.9 733.0 331.5 734.0 332.0 735.0 332.5 736.0 333.0 737.0 333.5 738.0 333.9 739.0 334.3 740.0 334.7 741.0 335.1 742.0 335.4 743.0 335.7 744.0 336.0 745.0 336.3 746.0 336.6 747.0 336.8 748.0 337.1 749.0 337.3 750.0 337.5 751.0 337.6 752.0 337.8 753.0 338.0 754.0 338.1 755.0 338.2 756.0 338.4 757.0 338.5 758.0 338.6 759.0 338.7 760.0 338.7 761.0 338.8 762.0 338.9 763.0 339.0 764.0 339.0 765.0 339.1 766.0 339.1 767.0 339.2 768.0 339.2 769.0 339.2 770.0 339.3 771.0 339.3 772.0 339.3 773.0 339.3 774.0 339.3 775.0 339.4 776.0 339.4 777.0 339.4 778.0 339.4 779.0 339.4 780.0 339.4 781.0 339.4 782.0 339.4 783.0 339.5 784.0 339.5 785.0 339.5 786.0 339.5 787.0 339.5 788.0 339.5 789.0 339.5 790.0 339.5 791.0 339.5 792.0 339.5 793.0 339.5 794.0 339.5 795.0 339.5 796.0 339.5 797.0 339.5 798.0 339.5 799.0 339.5 800.0 339.5 801.0 339.5 802.0 339.5 803.0 339.5 804.0 339.5 805.0 339.5 806.0 339.5 807.0 339.5 808.0 339.5 809.0 339.5 810.0 339.5 811.0 339.5 812.0 339.5 813.0 339.5 814.0 339.5 815.0 339.5 816.0 339.5 817.0 339.5 818.0 339.5 819.0 339.5 820.0 339.5 821.0 339.5 822.0 339.5 823.0 339.5 824.0 339.5 825.0 339.5 826.0 339.5 827.0 339.5 828.0 339.5 829.0 339.5 830.0 339.5 831.0 339.5 832.0 339.5 833.0 339.5 834.0 339.5 835.0 339.5 836.0 339.5 837.0 339.5 838.0 339.5 839.0 339.5 840.0 339.5 841.0 339.5 842.0 339.5 843.0 339.5 844.0 339.5 845.0 339.5 846.0 339.5 847.0 339.5 848.0 339.5 849.0 339.5 850.0 339.5 851.0 339.5 852.0 339.5 853.0 339.5 854.0 339.5 855.0 339.5 856.0 339.5 857.0 339.5 858.0 339.5 859.0 339.5 860.0 339.5 861.0 339.5 862.0 339.5 863.0 339.5 864.0 339.5 865.0 339.5 866.0 339.5 867.0 339.5 868.0 339.5 869.0 339.5 870.0 339.5 871.0 339.5 872.0 339.5 873.0 339.5 874.0 339.5 875.0 339.5 876.0 339.5 877.0 339.5 878.0 339.5 879.0 339.5 880.0 339.5 881.0 339.5 882.0 339.5 883.0 339.5 884.0 339.5 885.0 339.5 886.0 339.5 887.0 339.5 888.0 339.5 889.0 339.5 890.0 339.5 891.0 339.5 892.0 339.5 893.0 339.5 894.0 339.5 895.0 339.5 896.0 339.5 897.0 339.5 898.0 339.5 899.0 339.5 900.0 339.5 901.0 339.5 902.0 339.5 903.0 339.5 904.0 339.5 905.0 339.5 906.0 339.5 907.0 339.5 908.0 339.5 909.0 339.5 910.0 339.5 911.0 339.5 912.0 339.5 913.0 339.5 914.0 339.5 915.0 339.5 916.0 339.5 917.0 339.5 918.0 339.5 919.0 339.5 920.0 339.5 921.0 339.5 922.0 339.5 923.0 339.5 924.0 339.5 925.0 339.5 926.0 339.5 927.0 339.5 928.0 339.5 929.0 339.5 930.0 339.5 931.0 339.5 932.0 339.5 933.0 339.5 933.5 339.5" fill="none" stroke="#00ff00" stroke-width="2.6" stroke-dasharray="16 6"/>
<path d="M628.0 338.3 629.0 338.2 630.0 338.1 631.0 338.0 632.0 337.9 633.0 337.7 634.0 337.6 635.0 337.4 636.0 337.3 637.0 337.1 638.0 336.9 639.0 336.7 640.0 336.5 641.0 336.3 642.0 336.1 643.0 335.8 644.0 335.5 645.0 335.3 646.0 335.0 647.0 334.6 648.0 334.3 649.0 333.9 650.0 333.5 651.0 333.1 652.0 332.7 653.0 332.2 654.0 331.7 655.0 331.2 656.0 330.7 657.0 330.1 658.0 329.5 659.0 328.9 660.0 328.2 661.0 327.5 662.0 326.8 663.0 326.0 664.0 325.2 665.0 324.3 666.0 323.4 667.0 322.5 668.0 321.5 669.0 320.4 670.0 319.4 671.0 318.2 672.0 317.1 673.0 315.8 674.0 314.5 675.0 313.2 676.0 311.8 677.0 310.4 678.0 308.9 679.0 307.3 680.0 305.7 681.0 304.0 682.0 302.2 683.0 300.4 684.0 298.6 685.0 296.6 686.0 294.6 687.0 292.6 688.0 290.4 689.0 288.2 690.0 286.0 691.0 283.6 692.0 281.2 693.0 278.8 694.0 276.2 695.0 273.6 696.0 271.0 697.0 268.2 698.0 265.4 699.0 262.6 700.0 259.6 701.0 256.7 702.0 253.6 703.0 250.5 704.0 247.3 705.0 244.1 706.0 240.9 707.0 237.5 708.0 234.2 709.0 230.7 710.0 227.3 711.0 223.8 712.0 220.2 713.0 216.6 714.0 213.0 715.0 209.4 716.0 205.7 717.0 202.0 718.0 198.3 719.0 194.6 720.0 190.9 721.0 187.2 722.0 183.4 723.0 179.7 724.0 176.0 725.0 172.3 726.0 168.6 727.0 164.9 728.0 161.3 729.0 157.7 730.0 154.1 731.0 150.6 732.0 147.1 733.0 143.6 734.0 140.3 735.0 137.0 736.0 133.7 737.0 130.5 738.0 127.5 739.0 124.4 740.0 121.5 741.0 118.7 742.0 115.9 743.0 113.3 744.0 110.8 745.0 108.4 746.0 106.1 747.0 103.9 748.0 101.8 749.0 99.8 750.0 98.0 751.0 96.3 752.0 94.8 753.0 93.4 754.0 92.1 755.0 91.0 756.0 90.0 757.0 89.1 758.0 88.4 759.0 87.9 760.0 87.5 761.0 87.2 762.0 87.1 763.0 87.1 764.0 87.3 765.0 87.7 766.0 88.2 767.0 88.8 768.0 89.6 769.0 90.5 770.0 91.6 771.0 92.8 772.0 94.2 773.0 95.7 774.0 97.3 775.0 99.1 776.0 101.0 777.0 103.0 778.0 105.2 779.0 107.4 780.0 109.8 781.0 112.3 782.0 114.9 783.0 117.6 784.0 120.4 785.0 123.3 786.0 126.2 787.0 129.3 788.0 132.4 789.0 135.7 790.0 138.9 791.0 142.3 792.0 145.7 793.0 149.2 794.0 152.7 795.0 156.2 796.0 159.8 797.0 163.4 798.0 167.1 799.0 170.8 800.0 174.5 801.0 178.2 802.0 181.9 803.0 185.7 804.0 189.4 805.0 193.1 806.0 196.9 807.0 200.6 808.0 204.3 809.0 207.9 810.0 211.6 811.0 215.2 812.0 218.8 813.0 222.4 814.0 225.9 815.0 229.4 816.0 232.8 817.0 236.2 818.0 239.5 819.0 242.8 820.0 246.1 821.0 249.2 822.0 252.4 823.0 255.4 824.0 258.5 825.0 261.4 826.0 264.3 827.0 267.1 828.0 269.9 829.0 272.6 830.0 275.2 831.0 277.8 832.0 280.2 833.0 282.7 834.0 285.0 835.0 287.3 836.0 289.6 837.0 291.7 838.0 293.8 839.0 295.8 840.0 297.8 841.0 299.7 842.0 301.5 843.0 303.3 844.0 305.0 845.0 306.7 846.0 308.2 847.0 309.8 848.0 311.2 849.0 312.7 850.0 314.0 851.0 315.3 852.0 316.6 853.0 317.8 854.0 318.9 855.0 320.0 856.0 321.1 857.0 322.1 858.0 323.0 859.0 324.0 860.0 324.8 861.0 325.7 862.0 326.5 863.0 327.2 864.0 327.9 865.0 328.6 866.0 329.3 867.0 329.9 868.0 330.5 869.0 331.0 870.0 331.5 871.0 332.0 872.0 332.5 873.0 333.0 874.0 333.4 875.0 333.8 876.0 334.1 877.0 334.5 878.0 334.8 879.0 335.1 880.0 335.4 881.0 335.7 882.0 336.0 883.0 336.2 884.0 336.4 885.0 336.7 886.0 336.9 887.0 337.0 888.0 337.2 889.0 337.4 890.0 337.5 891.0 337.7 892.0 337.8 893.0 337.9 894.0 338.1 895.0 338.2 896.0 338.3 897.0 338.4 898.0 338.5 899.0 338.5 900.0 338.6 901.0 338.7 902.0 338.7 903.0 338.8 904.0 338.9 905.0 338.9 906.0 339.0 907.0 339.0 908.0 339.0 909.0 339.1 910.0 339.1 911.0 339.2 912.0 339.2 913.0 339.2 914.0 339.2 915.0 339.3 916.0 339.3 917.0 339.3 918.0 339.3 919.0 339.3 920.0 339.3 921.0 339.4 922.0 339.4 923.0 339.4 924.0 339.4 925.0 339.4 926.0 339.4 927.0 339.4 928.0 339.4 929.0 339.4 930.0 339.4 931.0 339.4 932.0 339.5 933.0 339.5 933.5 339.5" fill="none" stroke="#0000ff" stroke-width="2.6" stroke-dasharray="26 9"/>
<path d="M628.0 335.5 629.0 334.5 630.0 333.5 631.0 332.5 632.0 331.5 633.0 330.4 634.0 329.3 635.0 328.1 636.0 327.0 637.0 325.8 638.0 324.5 639.0 323.3 640.0 322.0 641.0 320.7 642.0 319.3 643.0 318.0 644.0 316.6 645.0 315.2 646.0 313.8 647.0 312.3 648.0 310.8 649.0 309.3 650.0 307.8 651.0 306.3 652.0 304.8 653.0 303.2 654.0 301.6 655.0 300.0 656.0 298.4 657.0 296.8 658.0 295.2 659.0 293.6 660.0 291.9 661.0 290.2 662.0 288.6 663.0 286.9 664.0 285.2 665.0 283.5 666.0 281.8 667.0 280.1 668.0 278.4 669.0 276.7 670.0 275.0 671.0 273.3 672.0 271.6 673.0 269.9 674.0 268.2 675.0 266.5 676.0 264.8 677.0 263.0 678.0 261.3 679.0 259.6 680.0 257.9 681.0 256.2 682.0 254.5 683.0 252.8 684.0 251.0 685.0 249.3 686.0 247.6 687.0 245.8 688.0 244.0 689.0 242.2 690.0 240.5 691.0 238.6 692.0 236.8 693.0 235.0 694.0 233.1 695.0 231.3 696.0 229.4 697.0 227.4 698.0 225.5 699.0 223.5 700.0 221.6 701.0 219.6 702.0 217.5 703.0 215.5 704.0 213.4 705.0 211.3 706.0 209.1 707.0 206.9 708.0 204.7 709.0 202.5 710.0 200.2 711.0 197.9 712.0 195.6 713.0 193.3 714.0 190.9 715.0 188.5 716.0 186.0 717.0 183.6 718.0 181.1 719.0 178.6 720.0 176.1 721.0 173.5 722.0 171.0 723.0 168.4 724.0 165.8 725.0 163.2 726.0 160.5 727.0 157.9 728.0 155.2 729.0 152.6 730.0 149.9 731.0 147.1 732.0 144.4 733.0 141.6 734.0 138.8 735.0 135.9 736.0 132.9 737.0 129.9 738.0 126.9 739.0 123.7 740.0 120.5 741.0 117.1 742.0 113.8 743.0 110.4 744.0 107.1 745.0 103.8 746.0 100.6 747.0 97.5 748.0 94.5 749.0 91.7 750.0 89.1 751.0 86.7 752.0 84.6 753.0 82.7 754.0 81.0 755.0 79.6 756.0 78.3 757.0 77.3 758.0 76.4 759.0 75.8 760.0 75.4 761.0 75.1 762.0 75.0 763.0 75.1 764.0 75.4 765.0 75.9 766.0 76.5 767.0 77.2 768.0 78.2 769.0 79.2 770.0 80.4 771.0 81.8 772.0 83.2 773.0 84.8 774.0 86.5 775.0 88.4 776.0 90.3 777.0 92.4 778.0 94.5 779.0 96.7 780.0 99.1 781.0 101.5 782.0 104.0 783.0 106.5 784.0 109.2 785.0 111.8 786.0 114.6 787.0 117.4 788.0 120.2 789.0 123.1 790.0 126.0 791.0 128.9 792.0 131.9 793.0 134.8 794.0 137.8 795.0 140.8 796.0 143.7 797.0 146.7 798.0 149.6 799.0 152.6 800.0 155.4 801.0 158.3 802.0 161.1 803.0 163.9 804.0 166.6 805.0 169.3 806.0 171.9 807.0 174.4 808.0 176.9 809.0 179.4 810.0 181.8 811.0 184.2 812.0 186.5 813.0 188.8 814.0 191.0 815.0 193.3 816.0 195.4 817.0 197.6 818.0 199.7 819.0 201.8 820.0 203.8 821.0 205.8 822.0 207.8 823.0 209.8 824.0 211.7 825.0 213.7 826.0 215.6 827.0 217.5 828.0 219.3 829.0 221.2 830.0 223.0 831.0 224.8 832.0 226.7 833.0 228.4 834.0 230.2 835.0 232.0 836.0 233.7 837.0 235.5 838.0 237.2 839.0 238.9 840.0 240.6 841.0 242.4 842.0 244.1 843.0 245.7 844.0 247.4 845.0 249.1 846.0 250.8 847.0 252.5 848.0 254.1 849.0 255.8 850.0 257.5 851.0 259.1 852.0 260.8 853.0 262.5 854.0 264.2 855.0 265.8 856.0 267.5 857.0 269.2 858.0 270.9 859.0 272.6 860.0 274.3 861.0 276.0 862.0 277.7 863.0 279.4 864.0 281.0 865.0 282.7 866.0 284.4 867.0 286.0 868.0 287.7 869.0 289.3 870.0 290.9 871.0 292.5 872.0 294.0 873.0 295.5 874.0 297.0 875.0 298.5 876.0 299.9 877.0 301.3 878.0 302.7 879.0 304.0 880.0 305.2 881.0 306.5 882.0 307.6 883.0 308.8 884.0 309.9 885.0 311.0 886.0 312.0 887.0 313.0 888.0 314.0 889.0 314.9 890.0 315.8 891.0 316.7 892.0 317.6 893.0 318.4 894.0 319.2 895.0 320.0 896.0 320.8 897.0 321.6 898.0 322.3 899.0 323.0 900.0 323.8 901.0 324.5 902.0 325.2 903.0 325.9 904.0 326.6 905.0 327.3 906.0 327.9 907.0 328.6 908.0 329.2 909.0 329.9 910.0 330.5 911.0 331.1 912.0 331.7 913.0 332.2 914.0 332.8 915.0 333.3 916.0 333.8 917.0 334.3 918.0 334.8 919.0 335.2 920.0 335.6 921.0 336.0 922.0 336.4 923.0 336.7 924.0 337.0 925.0 337.3 926.0 337.6 927.0 337.8 928.0 338.0 929.0 338.1 930.0 338.2 931.0 338.3 932.0 338.4 933.0 338.4 933.5 338.4" fill="none" stroke="#ff0000" stroke-width="2.6" stroke-dasharray="2.4 3.2"/>
<line x1="617.5" y1="33.2" x2="627.0" y2="33.2" stroke="#151515" stroke-width="2.2"/>
<line x1="617.5" y1="94.5" x2="627.0" y2="94.5" stroke="#151515" stroke-width="2.2"/>
<line x1="617.5" y1="155.7" x2="627.0" y2="155.7" stroke="#151515" stroke-width="2.2"/>
<line x1="617.5" y1="217.0" x2="627.0" y2="217.0" stroke="#151515" stroke-width="2.2"/>
<line x1="617.5" y1="278.2" x2="627.0" y2="278.2" stroke="#151515" stroke-width="2.2"/>
<line x1="617.5" y1="339.5" x2="627.0" y2="339.5" stroke="#151515" stroke-width="2.2"/>
<line x1="628.0" y1="339.5" x2="628.0" y2="346.5" stroke="#151515" stroke-width="2.2"/>
<line x1="689.1" y1="339.5" x2="689.1" y2="346.5" stroke="#151515" stroke-width="2.2"/>
<line x1="750.2" y1="339.5" x2="750.2" y2="346.5" stroke="#151515" stroke-width="2.2"/>
<line x1="811.3" y1="339.5" x2="811.3" y2="346.5" stroke="#151515" stroke-width="2.2"/>
<line x1="872.4" y1="339.5" x2="872.4" y2="346.5" stroke="#151515" stroke-width="2.2"/>
<line x1="933.5" y1="339.5" x2="933.5" y2="346.5" stroke="#151515" stroke-width="2.2"/>
<text x="602.85" y="378.30" font-size="25.56" textLength="45.92" lengthAdjust="spacingAndGlyphs" >1700</text>
<text x="665.94" y="378.30" font-size="25.56" textLength="43.93" lengthAdjust="spacingAndGlyphs" >1680</text>
<text x="727.04" y="378.30" font-size="25.56" textLength="43.93" lengthAdjust="spacingAndGlyphs" >1660</text>
<text x="788.14" y="378.30" font-size="25.56" textLength="43.93" lengthAdjust="spacingAndGlyphs" >1640</text>
<text x="849.24" y="378.30" font-size="25.56" textLength="43.93" lengthAdjust="spacingAndGlyphs" >1620</text>
<text x="910.34" y="378.30" font-size="25.56" textLength="43.93" lengthAdjust="spacingAndGlyphs" >1600</text>
<text x="778.06" y="50.90" font-size="24.81" textLength="149.19" lengthAdjust="spacingAndGlyphs" >0.25x Rotenone</text>
<text x="679.23" y="427.20" font-size="26.42" textLength="22.00" lengthAdjust="spacingAndGlyphs" >W</text>
<g transform="translate(0,427.20) scale(1,0.950) translate(0,-427.20)"><text x="700.55" y="427.20" font-size="26.42" textLength="86.77" lengthAdjust="spacingAndGlyphs" >avenumb</text></g>
<g transform="translate(0,427.20) scale(1,0.950) translate(0,-427.20)"><text x="791.28" y="427.20" font-size="26.42" textLength="20.36" lengthAdjust="spacingAndGlyphs" >er</text></g>
<text x="816.69" y="426.56" font-size="23.76" textLength="10.65" lengthAdjust="spacingAndGlyphs" style="font-weight:normal">(</text>
<g transform="translate(0,427.20) scale(1,0.950) translate(0,-427.20)"><text x="824.76" y="427.20" font-size="26.42" textLength="31.60" lengthAdjust="spacingAndGlyphs" >cm</text></g>
<rect x="853.90" y="413.89" width="5.90" height="2.21" fill="#000"/>
<text x="861.03" y="419.70" font-size="27.11" textLength="11.67" lengthAdjust="spacingAndGlyphs" >1</text>
<text x="871.93" y="426.56" font-size="23.76" textLength="10.61" lengthAdjust="spacingAndGlyphs" style="font-weight:normal">)</text>
<text transform="translate(590.00,269.47) rotate(-90)" font-size="28.02" textLength="169.31" lengthAdjust="spacingAndGlyphs" xml:space="preserve" >Abs. Signal <tspan font-weight="normal">(</tspan>a.u.<tspan font-weight="normal">)</tspan></text>
<rect x="103.4" y="449.2" width="329.1" height="332.3" fill="none" stroke="#4a4a4a" stroke-width="2.8"/>
<path d="M103.4 776.4 104.4 775.8 105.4 775.1 106.4 774.4 107.4 773.7 108.4 772.9 109.4 772.2 110.4 771.4 111.4 770.6 112.4 769.8 113.4 768.9 114.4 768.1 115.4 767.2 116.4 766.3 117.4 765.3 118.4 764.4 119.4 763.4 120.4 762.4 121.4 761.4 122.4 760.4 123.4 759.3 124.4 758.2 125.4 757.1 126.4 756.0 127.4 754.9 128.4 753.7 129.4 752.5 130.4 751.3 131.4 750.1 132.4 748.8 133.4 747.5 134.4 746.2 135.4 744.9 136.4 743.6 137.4 742.2 138.4 740.8 139.4 739.4 140.4 738.0 141.4 736.5 142.4 735.1 143.4 733.6 144.4 732.1 145.4 730.5 146.4 729.0 147.4 727.4 148.4 725.8 149.4 724.2 150.4 722.5 151.4 720.8 152.4 719.2 153.4 717.4 154.4 715.7 155.4 714.0 156.4 712.2 157.4 710.4 158.4 708.6 159.4 706.7 160.4 704.9 161.4 703.0 162.4 701.1 163.4 699.2 164.4 697.3 165.4 695.4 166.4 693.4 167.4 691.5 168.4 689.6 169.4 687.7 170.4 685.7 171.4 683.8 172.4 681.9 173.4 680.0 174.4 678.1 175.4 676.2 176.4 674.3 177.4 672.5 178.4 670.6 179.4 668.8 180.4 667.0 181.4 665.1 182.4 663.3 183.4 661.5 184.4 659.7 185.4 657.8 186.4 656.0 187.4 654.1 188.4 652.1 189.4 650.2 190.4 648.2 191.4 646.1 192.4 644.0 193.4 641.9 194.4 639.7 195.4 637.4 196.4 635.1 197.4 632.7 198.4 630.3 199.4 627.8 200.4 625.3 201.4 622.7 202.4 620.1 203.4 617.5 204.4 614.8 205.4 612.1 206.4 609.4 207.4 606.6 208.4 603.8 209.4 601.0 210.4 598.1 211.4 595.2 212.4 592.3 213.4 589.4 214.4 586.4 215.4 583.4 216.4 580.5 217.4 577.5 218.4 574.4 219.4 571.4 220.4 568.4 221.4 565.4 222.4 562.3 223.4 559.3 224.4 556.2 225.4 553.2 226.4 550.2 227.4 547.2 228.4 544.3 229.4 541.4 230.4 538.6 231.4 535.9 232.4 533.3 233.4 530.8 234.4 528.4 235.4 526.1 236.4 524.0 237.4 522.0 238.4 520.2 239.4 518.5 240.4 517.1 241.4 515.8 242.4 514.7 243.4 513.7 244.4 513.0 245.4 512.4 246.4 511.9 247.4 511.7 248.4 511.6 249.4 511.6 250.4 511.9 251.4 512.3 252.4 512.8 253.4 513.6 254.4 514.5 255.4 515.5 256.4 516.7 257.4 518.1 258.4 519.6 259.4 521.2 260.4 522.9 261.4 524.8 262.4 526.7 263.4 528.7 264.4 530.8 265.4 533.0 266.4 535.2 267.4 537.5 268.4 539.8 269.4 542.2 270.4 544.7 271.4 547.1 272.4 549.6 273.4 552.1 274.4 554.7 275.4 557.2 276.4 559.8 277.4 562.4 278.4 564.9 279.4 567.5 280.4 570.1 281.4 572.7 282.4 575.3 283.4 577.9 284.4 580.5 285.4 583.1 286.4 585.7 287.4 588.3 288.4 590.9 289.4 593.5 290.4 596.1 291.4 598.6 292.4 601.2 293.4 603.7 294.4 606.2 295.4 608.7 296.4 611.2 297.4 613.6 298.4 616.0 299.4 618.5 300.4 620.8 301.4 623.2 302.4 625.5 303.4 627.9 304.4 630.1 305.4 632.4 306.4 634.7 307.4 636.9 308.4 639.1 309.4 641.2 310.4 643.4 311.4 645.5 312.4 647.6 313.4 649.6 314.4 651.6 315.4 653.6 316.4 655.6 317.4 657.6 318.4 659.5 319.4 661.4 320.4 663.2 321.4 665.1 322.4 666.9 323.4 668.6 324.4 670.4 325.4 672.2 326.4 673.9 327.4 675.7 328.4 677.4 329.4 679.1 330.4 680.9 331.4 682.6 332.4 684.4 333.4 686.2 334.4 688.0 335.4 689.8 336.4 691.5 337.4 693.3 338.4 695.1 339.4 696.9 340.4 698.7 341.4 700.4 342.4 702.1 343.4 703.8 344.4 705.5 345.4 707.2 346.4 708.8 347.4 710.5 348.4 712.0 349.4 713.6 350.4 715.2 351.4 716.7 352.4 718.2 353.4 719.7 354.4 721.2 355.4 722.6 356.4 724.0 357.4 725.4 358.4 726.8 359.4 728.1 360.4 729.4 361.4 730.8 362.4 732.0 363.4 733.3 364.4 734.5 365.4 735.7 366.4 736.9 367.4 738.1 368.4 739.2 369.4 740.4 370.4 741.5 371.4 742.5 372.4 743.6 373.4 744.6 374.4 745.6 375.4 746.6 376.4 747.6 377.4 748.5 378.4 749.4 379.4 750.3 380.4 751.2 381.4 752.0 382.4 752.9 383.4 753.7 384.4 754.4 385.4 755.2 386.4 755.9 387.4 756.6 388.4 757.3 389.4 758.0 390.4 758.6 391.4 759.2 392.4 759.8 393.4 760.4 394.4 761.0 395.4 761.5 396.4 762.1 397.4 762.6 398.4 763.1 399.4 763.6 400.4 764.0 401.4 764.5 402.4 765.0 403.4 765.4 404.4 765.9 405.4 766.3 406.4 766.7 407.4 767.1 408.4 767.6 409.4 768.0 410.4 768.4 411.4 768.8 412.4 769.2 413.4 769.6 414.4 770.1 415.4 770.5 416.4 770.9 417.4 771.4 418.4 771.8 419.4 772.3 420.4 772.7 421.4 773.2 422.4 773.7 423.4 774.2 424.4 774.7 425.4 775.2 426.4 775.7 427.4 776.3 428.4 776.9 429.4 777.4 430.4 778.1 431.4 778.7 432.4 779.3 432.5 779.4" fill="none" stroke="#000" stroke-width="2.8"/>
<path d="M103.4 773.8 104.4 773.3 105.4 772.8 106.4 772.2 107.4 771.6 108.4 771.0 109.4 770.4 110.4 769.7 111.4 769.1 112.4 768.3 113.4 767.6 114.4 766.8 115.4 766.0 116.4 765.2 117.4 764.4 118.4 763.5 119.4 762.6 120.4 761.6 121.4 760.7 122.4 759.7 123.4 758.7 124.4 757.7 125.4 756.6 126.4 755.6 127.4 754.5 128.4 753.4 129.4 752.3 130.4 751.1 131.4 750.0 132.4 748.8 133.4 747.6 134.4 746.4 135.4 745.3 136.4 744.1 137.4 742.9 138.4 741.7 139.4 740.5 140.4 739.3 141.4 738.1 142.4 737.0 143.4 735.8 144.4 734.7 145.4 733.6 146.4 732.5 147.4 731.4 148.4 730.4 149.4 729.4 150.4 728.4 151.4 727.4 152.4 726.5 153.4 725.6 154.4 724.8 155.4 724.0 156.4 723.3 157.4 722.6 158.4 722.0 159.4 721.4 160.4 720.8 161.4 720.3 162.4 719.9 163.4 719.6 164.4 719.2 165.4 719.0 166.4 718.8 167.4 718.7 168.4 718.6 169.4 718.6 170.4 718.7 171.4 718.8 172.4 719.0 173.4 719.2 174.4 719.5 175.4 719.8 176.4 720.3 177.4 720.7 178.4 721.3 179.4 721.8 180.4 722.5 181.4 723.1 182.4 723.9 183.4 724.7 184.4 725.5 185.4 726.3 186.4 727.2 187.4 728.2 188.4 729.2 189.4 730.2 190.4 731.2 191.4 732.3 192.4 733.4 193.4 734.5 194.4 735.6 195.4 736.7 196.4 737.9 197.4 739.1 198.4 740.3 199.4 741.4 200.4 742.6 201.4 743.8 202.4 745.0 203.4 746.2 204.4 747.4 205.4 748.6 206.4 749.7 207.4 750.9 208.4 752.0 209.4 753.2 210.4 754.3 211.4 755.4 212.4 756.4 213.4 757.5 214.4 758.5 215.4 759.5 216.4 760.5 217.4 761.5 218.4 762.4 219.4 763.3 220.4 764.2 221.4 765.0 222.4 765.9 223.4 766.7 224.4 767.4 225.4 768.2 226.4 768.9 227.4 769.6 228.4 770.3 229.4 770.9 230.4 771.5 231.4 772.1 232.4 772.7 233.4 773.2 234.4 773.7 235.4 774.2 236.4 774.7 237.4 775.1 238.4 775.5 239.4 775.9 240.4 776.3 241.4 776.6 242.4 777.0 243.4 777.3 244.4 777.6 245.4 777.9 246.4 778.1 247.4 778.4 248.4 778.6 249.4 778.8 250.4 779.0 251.4 779.2 252.4 779.4 253.4 779.6 254.4 779.7 255.4 779.9 256.4 780.0 257.4 780.1 258.4 780.2 259.4 780.3 260.4 780.4 261.4 780.5 262.4 780.6 263.4 780.7 264.4 780.8 265.4 780.8 266.4 780.9 267.4 780.9 268.4 781.0 269.4 781.0 270.4 781.1 271.4 781.1 272.4 781.2 273.4 781.2 274.4 781.2 275.4 781.2 276.4 781.3 277.4 781.3 278.4 781.3 279.4 781.3 280.4 781.4 281.4 781.4 282.4 781.4 283.4 781.4 284.4 781.4 285.4 781.4 286.4 781.4 287.4 781.4 288.4 781.4 289.4 781.4 290.4 781.5 291.4 781.5 292.4 781.5 293.4 781.5 294.4 781.5 295.4 781.5 296.4 781.5 297.4 781.5 298.4 781.5 299.4 781.5 300.4 781.5 301.4 781.5 302.4 781.5 303.4 781.5 304.4 781.5 305.4 781.5 306.4 781.5 307.4 781.5 308.4 781.5 309.4 781.5 310.4 781.5 311.4 781.5 312.4 781.5 313.4 781.5 314.4 781.5 315.4 781.5 316.4 781.5 317.4 781.5 318.4 781.5 319.4 781.5 320.4 781.5 321.4 781.5 322.4 781.5 323.4 781.5 324.4 781.5 325.4 781.5 326.4 781.5 327.4 781.5 328.4 781.5 329.4 781.5 330.4 781.5 331.4 781.5 332.4 781.5 333.4 781.5 334.4 781.5 335.4 781.5 336.4 781.5 337.4 781.5 338.4 781.5 339.4 781.5 340.4 781.5 341.4 781.5 342.4 781.5 343.4 781.5 344.4 781.5 345.4 781.5 346.4 781.5 347.4 781.5 348.4 781.5 349.4 781.5 350.4 781.5 351.4 781.5 352.4 781.5 353.4 781.5 354.4 781.5 355.4 781.5 356.4 781.5 357.4 781.5 358.4 781.5 359.4 781.5 360.4 781.5 361.4 781.5 362.4 781.5 363.4 781.5 364.4 781.5 365.4 781.5 366.4 781.5 367.4 781.5 368.4 781.5 369.4 781.5 370.4 781.5 371.4 781.5 372.4 781.5 373.4 781.5 374.4 781.5 375.4 781.5 376.4 781.5 377.4 781.5 378.4 781.5 379.4 781.5 380.4 781.5 381.4 781.5 382.4 781.5 383.4 781.5 384.4 781.5 385.4 781.5 386.4 781.5 387.4 781.5 388.4 781.5 389.4 781.5 390.4 781.5 391.4 781.5 392.4 781.5 393.4 781.5 394.4 781.5 395.4 781.5 396.4 781.5 397.4 781.5 398.4 781.5 399.4 781.5 400.4 781.5 401.4 781.5 402.4 781.5 403.4 781.5 404.4 781.5 405.4 781.5 406.4 781.5 407.4 781.5 408.4 781.5 409.4 781.5 410.4 781.5 411.4 781.5 412.4 781.5 413.4 781.5 414.4 781.5 415.4 781.5 416.4 781.5 417.4 781.5 418.4 781.5 419.4 781.5 420.4 781.5 421.4 781.5 422.4 781.5 423.4 781.5 424.4 781.5 425.4 781.5 426.4 781.5 427.4 781.5 428.4 781.5 429.4 781.5 430.4 781.5 431.4 781.5 432.4 781.5 432.5 781.5" fill="none" stroke="#00ff00" stroke-width="2.6" stroke-dasharray="16 6"/>
<path d="M103.4 781.5 104.4 781.5 105.4 781.5 106.4 781.5 107.4 781.5 108.4 781.5 109.4 781.5 110.4 781.5 111.4 781.5 112.4 781.5 113.4 781.5 114.4 781.5 115.4 781.5 116.4 781.5 117.4 781.5 118.4 781.5 119.4 781.5 120.4 781.5 121.4 781.5 122.4 781.5 123.4 781.5 124.4 781.5 125.4 781.5 126.4 781.5 127.4 781.5 128.4 781.5 129.4 781.5 130.4 781.5 131.4 781.5 132.4 781.5 133.4 781.5 134.4 781.5 135.4 781.5 136.4 781.5 137.4 781.5 138.4 781.5 139.4 781.5 140.4 781.5 141.4 781.5 142.4 781.5 143.4 781.5 144.4 781.5 145.4 781.5 146.4 781.5 147.4 781.5 148.4 781.5 149.4 781.5 150.4 781.5 151.4 781.5 152.4 781.5 153.4 781.5 154.4 781.5 155.4 781.5 156.4 781.5 157.4 781.5 158.4 781.5 159.4 781.5 160.4 781.5 161.4 781.5 162.4 781.5 163.4 781.5 164.4 781.5 165.4 781.5 166.4 781.5 167.4 781.5 168.4 781.5 169.4 781.5 170.4 781.5 171.4 781.5 172.4 781.5 173.4 781.5 174.4 781.5 175.4 781.5 176.4 781.5 177.4 781.5 178.4 781.5 179.4 781.5 180.4 781.5 181.4 781.5 182.4 781.5 183.4 781.5 184.4 781.5 185.4 781.5 186.4 781.5 187.4 781.5 188.4 781.5 189.4 781.5 190.4 781.5 191.4 781.5 192.4 781.5 193.4 781.5 194.4 781.5 195.4 781.5 196.4 781.5 197.4 781.5 198.4 781.5 199.4 781.5 200.4 781.5 201.4 781.4 202.4 781.4 203.4 781.4 204.4 781.4 205.4 781.4 206.4 781.4 207.4 781.4 208.4 781.4 209.4 781.4 210.4 781.4 211.4 781.3 212.4 781.3 213.4 781.3 214.4 781.3 215.4 781.2 216.4 781.2 217.4 781.2 218.4 781.2 219.4 781.1 220.4 781.1 221.4 781.0 222.4 781.0 223.4 780.9 224.4 780.9 225.4 780.8 226.4 780.7 227.4 780.7 228.4 780.6 229.4 780.5 230.4 780.4 231.4 780.3 232.4 780.2 233.4 780.1 234.4 779.9 235.4 779.8 236.4 779.7 237.4 779.5 238.4 779.3 239.4 779.1 240.4 778.9 241.4 778.7 242.4 778.5 243.4 778.2 244.4 778.0 245.4 777.7 246.4 777.4 247.4 777.1 248.4 776.8 249.4 776.4 250.4 776.0 251.4 775.6 252.4 775.2 253.4 774.8 254.4 774.3 255.4 773.8 256.4 773.3 257.4 772.7 258.4 772.1 259.4 771.5 260.4 770.9 261.4 770.2 262.4 769.5 263.4 768.8 264.4 768.0 265.4 767.2 266.4 766.4 267.4 765.5 268.4 764.6 269.4 763.7 270.4 762.8 271.4 761.8 272.4 760.7 273.4 759.7 274.4 758.6 275.4 757.5 276.4 756.3 277.4 755.2 278.4 754.0 279.4 752.7 280.4 751.5 281.4 750.2 282.4 748.9 283.4 747.5 284.4 746.2 285.4 744.8 286.4 743.4 287.4 742.0 288.4 740.6 289.4 739.2 290.4 737.8 291.4 736.3 292.4 734.9 293.4 733.5 294.4 732.0 295.4 730.6 296.4 729.2 297.4 727.8 298.4 726.4 299.4 725.0 300.4 723.6 301.4 722.3 302.4 721.0 303.4 719.7 304.4 718.5 305.4 717.3 306.4 716.1 307.4 715.0 308.4 714.0 309.4 712.9 310.4 712.0 311.4 711.0 312.4 710.2 313.4 709.4 314.4 708.6 315.4 707.9 316.4 707.3 317.4 706.8 318.4 706.3 319.4 705.9 320.4 705.5 321.4 705.3 322.4 705.1 323.4 705.0 324.4 704.9 325.4 704.9 326.4 705.0 327.4 705.2 328.4 705.4 329.4 705.7 330.4 706.1 331.4 706.6 332.4 707.1 333.4 707.7 334.4 708.3 335.4 709.1 336.4 709.8 337.4 710.7 338.4 711.6 339.4 712.5 340.4 713.5 341.4 714.6 342.4 715.7 343.4 716.8 344.4 718.0 345.4 719.2 346.4 720.5 347.4 721.8 348.4 723.1 349.4 724.5 350.4 725.8 351.4 727.2 352.4 728.6 353.4 730.0 354.4 731.5 355.4 732.9 356.4 734.3 357.4 735.8 358.4 737.2 359.4 738.6 360.4 740.1 361.4 741.5 362.4 742.9 363.4 744.3 364.4 745.6 365.4 747.0 366.4 748.3 367.4 749.7 368.4 751.0 369.4 752.2 370.4 753.5 371.4 754.7 372.4 755.9 373.4 757.0 374.4 758.2 375.4 759.3 376.4 760.3 377.4 761.4 378.4 762.4 379.4 763.3 380.4 764.3 381.4 765.2 382.4 766.1 383.4 766.9 384.4 767.7 385.4 768.5 386.4 769.2 387.4 769.9 388.4 770.6 389.4 771.3 390.4 771.9 391.4 772.5 392.4 773.0 393.4 773.6 394.4 774.1 395.4 774.6 396.4 775.0 397.4 775.5 398.4 775.9 399.4 776.3 400.4 776.6 401.4 777.0 402.4 777.3 403.4 777.6 404.4 777.9 405.4 778.1 406.4 778.4 407.4 778.6 408.4 778.9 409.4 779.1 410.4 779.3 411.4 779.4 412.4 779.6 413.4 779.8 414.4 779.9 415.4 780.0 416.4 780.2 417.4 780.3 418.4 780.4 419.4 780.5 420.4 780.6 421.4 780.6 422.4 780.7 423.4 780.8 424.4 780.9 425.4 780.9 426.4 781.0 427.4 781.0 428.4 781.1 429.4 781.1 430.4 781.1 431.4 781.2 432.4 781.2 432.5 781.2" fill="none" stroke="#0000ff" stroke-width="2.6" stroke-dasharray="26 9"/>
<path d="M103.4 781.3 104.4 781.2 105.4 781.2 106.4 781.2 107.4 781.2 108.4 781.1 109.4 781.1 110.4 781.1 111.4 781.0 112.4 781.0 113.4 780.9 114.4 780.9 115.4 780.8 116.4 780.7 117.4 780.7 118.4 780.6 119.4 780.5 120.4 780.4 121.4 780.3 122.4 780.2 123.4 780.1 124.4 780.0 125.4 779.8 126.4 779.7 127.4 779.6 128.4 779.4 129.4 779.2 130.4 779.0 131.4 778.8 132.4 778.6 133.4 778.4 134.4 778.1 135.4 777.8 136.4 777.6 137.4 777.3 138.4 776.9 139.4 776.6 140.4 776.2 141.4 775.8 142.4 775.4 143.4 774.9 144.4 774.5 145.4 773.9 146.4 773.4 147.4 772.8 148.4 772.2 149.4 771.6 150.4 770.9 151.4 770.2 152.4 769.4 153.4 768.6 154.4 767.8 155.4 766.9 156.4 766.0 157.4 765.0 158.4 764.0 159.4 762.9 160.4 761.7 161.4 760.5 162.4 759.3 163.4 758.0 164.4 756.6 165.4 755.2 166.4 753.7 167.4 752.1 168.4 750.5 169.4 748.7 170.4 747.0 171.4 745.1 172.4 743.2 173.4 741.2 174.4 739.2 175.4 737.0 176.4 734.8 177.4 732.5 178.4 730.1 179.4 727.7 180.4 725.2 181.4 722.6 182.4 719.9 183.4 717.1 184.4 714.2 185.4 711.3 186.4 708.3 187.4 705.2 188.4 702.1 189.4 698.9 190.4 695.6 191.4 692.2 192.4 688.7 193.4 685.2 194.4 681.6 195.4 678.0 196.4 674.3 197.4 670.5 198.4 666.7 199.4 662.9 200.4 658.9 201.4 655.0 202.4 651.0 203.4 647.0 204.4 642.9 205.4 638.8 206.4 634.7 207.4 630.6 208.4 626.4 209.4 622.3 210.4 618.1 211.4 614.0 212.4 609.9 213.4 605.7 214.4 601.7 215.4 597.6 216.4 593.6 217.4 589.6 218.4 585.6 219.4 581.8 220.4 577.9 221.4 574.2 222.4 570.5 223.4 566.9 224.4 563.4 225.4 560.0 226.4 556.6 227.4 553.4 228.4 550.3 229.4 547.3 230.4 544.4 231.4 541.7 232.4 539.0 233.4 536.6 234.4 534.2 235.4 532.0 236.4 530.0 237.4 528.1 238.4 526.4 239.4 524.8 240.4 523.4 241.4 522.1 242.4 521.1 243.4 520.2 244.4 519.4 245.4 518.9 246.4 518.5 247.4 518.3 248.4 518.3 249.4 518.5 250.4 518.8 251.4 519.3 252.4 520.0 253.4 520.9 254.4 521.9 255.4 523.1 256.4 524.5 257.4 526.0 258.4 527.7 259.4 529.6 260.4 531.6 261.4 533.8 262.4 536.1 263.4 538.5 264.4 541.1 265.4 543.9 266.4 546.7 267.4 549.7 268.4 552.8 269.4 556.0 270.4 559.3 271.4 562.7 272.4 566.2 273.4 569.8 274.4 573.4 275.4 577.2 276.4 581.0 277.4 584.9 278.4 588.8 279.4 592.8 280.4 596.8 281.4 600.8 282.4 604.9 283.4 609.0 284.4 613.2 285.4 617.3 286.4 621.4 287.4 625.6 288.4 629.7 289.4 633.9 290.4 638.0 291.4 642.1 292.4 646.1 293.4 650.2 294.4 654.2 295.4 658.1 296.4 662.1 297.4 665.9 298.4 669.8 299.4 673.5 300.4 677.3 301.4 680.9 302.4 684.5 303.4 688.0 304.4 691.5 305.4 694.9 306.4 698.2 307.4 701.4 308.4 704.6 309.4 707.7 310.4 710.7 311.4 713.7 312.4 716.5 313.4 719.3 314.4 722.0 315.4 724.6 316.4 727.2 317.4 729.7 318.4 732.0 319.4 734.4 320.4 736.6 321.4 738.7 322.4 740.8 323.4 742.8 324.4 744.8 325.4 746.6 326.4 748.4 327.4 750.1 328.4 751.8 329.4 753.3 330.4 754.9 331.4 756.3 332.4 757.7 333.4 759.0 334.4 760.3 335.4 761.5 336.4 762.6 337.4 763.7 338.4 764.8 339.4 765.8 340.4 766.7 341.4 767.6 342.4 768.5 343.4 769.3 344.4 770.0 345.4 770.8 346.4 771.5 347.4 772.1 348.4 772.7 349.4 773.3 350.4 773.8 351.4 774.4 352.4 774.8 353.4 775.3 354.4 775.7 355.4 776.1 356.4 776.5 357.4 776.9 358.4 777.2 359.4 777.5 360.4 777.8 361.4 778.1 362.4 778.3 363.4 778.6 364.4 778.8 365.4 779.0 366.4 779.2 367.4 779.4 368.4 779.5 369.4 779.7 370.4 779.8 371.4 780.0 372.4 780.1 373.4 780.2 374.4 780.3 375.4 780.4 376.4 780.5 377.4 780.6 378.4 780.7 379.4 780.7 380.4 780.8 381.4 780.8 382.4 780.9 383.4 781.0 384.4 781.0 385.4 781.0 386.4 781.1 387.4 781.1 388.4 781.2 389.4 781.2 390.4 781.2 391.4 781.2 392.4 781.3 393.4 781.3 394.4 781.3 395.4 781.3 396.4 781.3 397.4 781.4 398.4 781.4 399.4 781.4 400.4 781.4 401.4 781.4 402.4 781.4 403.4 781.4 404.4 781.4 405.4 781.4 406.4 781.4 407.4 781.5 408.4 781.5 409.4 781.5 410.4 781.5 411.4 781.5 412.4 781.5 413.4 781.5 414.4 781.5 415.4 781.5 416.4 781.5 417.4 781.5 418.4 781.5 419.4 781.5 420.4 781.5 421.4 781.5 422.4 781.5 423.4 781.5 424.4 781.5 425.4 781.5 426.4 781.5 427.4 781.5 428.4 781.5 429.4 781.5 430.4 781.5 431.4 781.5 432.4 781.5 432.5 781.5" fill="none" stroke="#ffff00" stroke-width="2.6" stroke-dasharray="17 5 1.8 4.5 1.8 4.5"/>
<path d="M103.4 781.5 104.4 781.5 105.4 781.5 106.4 781.5 107.4 781.5 108.4 781.5 109.4 781.5 110.4 781.5 111.4 781.5 112.4 781.5 113.4 781.5 114.4 781.5 115.4 781.5 116.4 781.5 117.4 781.5 118.4 781.5 119.4 781.5 120.4 781.5 121.4 781.5 122.4 781.5 123.4 781.5 124.4 781.5 125.4 781.5 126.4 781.5 127.4 781.5 128.4 781.5 129.4 781.5 130.4 781.5 131.4 781.5 132.4 781.5 133.4 781.5 134.4 781.5 135.4 781.5 136.4 781.5 137.4 781.5 138.4 781.5 139.4 781.5 140.4 781.5 141.4 781.5 142.4 781.5 143.4 781.5 144.4 781.5 145.4 781.5 146.4 781.5 147.4 781.5 148.4 781.5 149.4 781.5 150.4 781.5 151.4 781.5 152.4 781.5 153.4 781.5 154.4 781.5 155.4 781.5 156.4 781.5 157.4 781.5 158.4 781.5 159.4 781.5 160.4 781.5 161.4 781.5 162.4 781.5 163.4 781.5 164.4 781.5 165.4 781.5 166.4 781.5 167.4 781.5 168.4 781.5 169.4 781.5 170.4 781.5 171.4 781.5 172.4 781.5 173.4 781.5 174.4 781.5 175.4 781.5 176.4 781.5 177.4 781.5 178.4 781.5 179.4 781.5 180.4 781.5 181.4 781.5 182.4 781.5 183.4 781.5 184.4 781.5 185.4 781.5 186.4 781.5 187.4 781.5 188.4 781.5 189.4 781.5 190.4 781.5 191.4 781.5 192.4 781.5 193.4 781.5 194.4 781.5 195.4 781.5 196.4 781.5 197.4 781.5 198.4 781.5 199.4 781.5 200.4 781.5 201.4 781.5 202.4 781.5 203.4 781.5 204.4 781.5 205.4 781.5 206.4 781.5 207.4 781.5 208.4 781.5 209.4 781.5 210.4 781.5 211.4 781.5 212.4 781.5 213.4 781.5 214.4 781.5 215.4 781.5 216.4 781.5 217.4 781.5 218.4 781.5 219.4 781.5 220.4 781.5 221.4 781.5 222.4 781.5 223.4 781.5 224.4 781.5 225.4 781.5 226.4 781.5 227.4 781.5 228.4 781.5 229.4 781.5 230.4 781.5 231.4 781.5 232.4 781.5 233.4 781.5 234.4 781.5 235.4 781.5 236.4 781.5 237.4 781.5 238.4 781.5 239.4 781.5 240.4 781.5 241.4 781.5 242.4 781.5 243.4 781.5 244.4 781.5 245.4 781.5 246.4 781.5 247.4 781.5 248.4 781.5 249.4 781.5 250.4 781.5 251.4 781.5 252.4 781.5 253.4 781.5 254.4 781.5 255.4 781.5 256.4 781.5 257.4 781.5 258.4 781.5 259.4 781.5 260.4 781.5 261.4 781.5 262.4 781.5 263.4 781.5 264.4 781.5 265.4 781.5 266.4 781.5 267.4 781.5 268.4 781.5 269.4 781.5 270.4 781.5 271.4 781.5 272.4 781.5 273.4 781.5 274.4 781.5 275.4 781.5 276.4 781.5 277.4 781.5 278.4 781.5 279.4 781.5 280.4 781.5 281.4 781.5 282.4 781.5 283.4 781.5 284.4 781.5 285.4 781.5 286.4 781.5 287.4 781.5 288.4 781.5 289.4 781.5 290.4 781.5 291.4 781.5 292.4 781.5 293.4 781.5 294.4 781.5 295.4 781.5 296.4 781.5 297.4 781.5 298.4 781.5 299.4 781.5 300.4 781.5 301.4 781.5 302.4 781.4 303.4 781.4 304.4 781.4 305.4 781.4 306.4 781.4 307.4 781.4 308.4 781.4 309.4 781.4 310.4 781.3 311.4 781.3 312.4 781.3 313.4 781.3 314.4 781.2 315.4 781.2 316.4 781.2 317.4 781.1 318.4 781.1 319.4 781.1 320.4 781.0 321.4 780.9 322.4 780.9 323.4 780.8 324.4 780.7 325.4 780.7 326.4 780.6 327.4 780.5 328.4 780.4 329.4 780.3 330.4 780.1 331.4 780.0 332.4 779.9 333.4 779.7 334.4 779.6 335.4 779.4 336.4 779.2 337.4 779.0 338.4 778.8 339.4 778.6 340.4 778.4 341.4 778.2 342.4 777.9 343.4 777.7 344.4 777.4 345.4 777.1 346.4 776.8 347.4 776.5 348.4 776.2 349.4 775.9 350.4 775.5 351.4 775.2 352.4 774.8 353.4 774.5 354.4 774.1 355.4 773.8 356.4 773.4 357.4 773.0 358.4 772.6 359.4 772.3 360.4 771.9 361.4 771.5 362.4 771.1 363.4 770.8 364.4 770.4 365.4 770.0 366.4 769.7 367.4 769.4 368.4 769.0 369.4 768.7 370.4 768.4 371.4 768.2 372.4 767.9 373.4 767.7 374.4 767.4 375.4 767.2 376.4 767.1 377.4 766.9 378.4 766.8 379.4 766.7 380.4 766.6 381.4 766.5 382.4 766.5 383.4 766.5 384.4 766.5 385.4 766.6 386.4 766.6 387.4 766.7 388.4 766.9 389.4 767.0 390.4 767.2 391.4 767.4 392.4 767.6 393.4 767.8 394.4 768.1 395.4 768.4 396.4 768.7 397.4 769.0 398.4 769.3 399.4 769.6 400.4 770.0 401.4 770.3 402.4 770.7 403.4 771.0 404.4 771.4 405.4 771.8 406.4 772.2 407.4 772.6 408.4 772.9 409.4 773.3 410.4 773.7 411.4 774.1 412.4 774.4 413.4 774.8 414.4 775.1 415.4 775.5 416.4 775.8 417.4 776.1 418.4 776.4 419.4 776.8 420.4 777.0 421.4 777.3 422.4 777.6 423.4 777.9 424.4 778.1 425.4 778.3 426.4 778.6 427.4 778.8 428.4 779.0 429.4 779.2 430.4 779.4 431.4 779.5 432.4 779.7 432.5 779.7" fill="none" stroke="#ff00ff" stroke-width="2.6" stroke-dasharray="17 4.5 2 4.5"/>
<path d="M103.4 776.4 104.4 775.8 105.4 775.1 106.4 774.4 107.4 773.7 108.4 772.9 109.4 772.2 110.4 771.4 111.4 770.6 112.4 769.8 113.4 768.9 114.4 768.1 115.4 767.2 116.4 766.3 117.4 765.3 118.4 764.4 119.4 763.4 120.4 762.4 121.4 761.4 122.4 760.4 123.4 759.3 124.4 758.2 125.4 757.1 126.4 756.0 127.4 754.9 128.4 753.7 129.4 752.5 130.4 751.3 131.4 750.1 132.4 748.8 133.4 747.5 134.4 746.2 135.4 744.9 136.4 743.6 137.4 742.2 138.4 740.8 139.4 739.4 140.4 738.0 141.4 736.5 142.4 735.1 143.4 733.6 144.4 732.1 145.4 730.5 146.4 729.0 147.4 727.4 148.4 725.8 149.4 724.2 150.4 722.5 151.4 720.8 152.4 719.2 153.4 717.4 154.4 715.7 155.4 714.0 156.4 712.2 157.4 710.4 158.4 708.6 159.4 706.7 160.4 704.9 161.4 703.0 162.4 701.1 163.4 699.2 164.4 697.3 165.4 695.4 166.4 693.4 167.4 691.5 168.4 689.6 169.4 687.7 170.4 685.7 171.4 683.8 172.4 681.9 173.4 680.0 174.4 678.1 175.4 676.2 176.4 674.3 177.4 672.5 178.4 670.6 179.4 668.8 180.4 667.0 181.4 665.1 182.4 663.3 183.4 661.5 184.4 659.7 185.4 657.8 186.4 656.0 187.4 654.1 188.4 652.1 189.4 650.2 190.4 648.2 191.4 646.1 192.4 644.0 193.4 641.9 194.4 639.7 195.4 637.4 196.4 635.1 197.4 632.7 198.4 630.3 199.4 627.8 200.4 625.3 201.4 622.7 202.4 620.1 203.4 617.5 204.4 614.8 205.4 612.1 206.4 609.4 207.4 606.6 208.4 603.8 209.4 601.0 210.4 598.1 211.4 595.2 212.4 592.3 213.4 589.4 214.4 586.4 215.4 583.4 216.4 580.5 217.4 577.5 218.4 574.4 219.4 571.4 220.4 568.4 221.4 565.4 222.4 562.3 223.4 559.3 224.4 556.2 225.4 553.2 226.4 550.2 227.4 547.2 228.4 544.3 229.4 541.4 230.4 538.6 231.4 535.9 232.4 533.3 233.4 530.8 234.4 528.4 235.4 526.1 236.4 524.0 237.4 522.0 238.4 520.2 239.4 518.5 240.4 517.1 241.4 515.8 242.4 514.7 243.4 513.7 244.4 513.0 245.4 512.4 246.4 511.9 247.4 511.7 248.4 511.6 249.4 511.6 250.4 511.9 251.4 512.3 252.4 512.8 253.4 513.6 254.4 514.5 255.4 515.5 256.4 516.7 257.4 518.1 258.4 519.6 259.4 521.2 260.4 522.9 261.4 524.8 262.4 526.7 263.4 528.7 264.4 530.8 265.4 533.0 266.4 535.2 267.4 537.5 268.4 539.8 269.4 542.2 270.4 544.7 271.4 547.1 272.4 549.6 273.4 552.1 274.4 554.7 275.4 557.2 276.4 559.8 277.4 562.4 278.4 564.9 279.4 567.5 280.4 570.1 281.4 572.7 282.4 575.3 283.4 577.9 284.4 580.5 285.4 583.1 286.4 585.7 287.4 588.3 288.4 590.9 289.4 593.5 290.4 596.1 291.4 598.6 292.4 601.2 293.4 603.7 294.4 606.2 295.4 608.7 296.4 611.2 297.4 613.6 298.4 616.0 299.4 618.5 300.4 620.8 301.4 623.2 302.4 625.5 303.4 627.9 304.4 630.1 305.4 632.4 306.4 634.7 307.4 636.9 308.4 639.1 309.4 641.2 310.4 643.4 311.4 645.5 312.4 647.6 313.4 649.6 314.4 651.6 315.4 653.6 316.4 655.6 317.4 657.6 318.4 659.5 319.4 661.4 320.4 663.2 321.4 665.1 322.4 666.9 323.4 668.6 324.4 670.4 325.4 672.2 326.4 673.9 327.4 675.7 328.4 677.4 329.4 679.1 330.4 680.9 331.4 682.6 332.4 684.4 333.4 686.2 334.4 688.0 335.4 689.8 336.4 691.5 337.4 693.3 338.4 695.1 339.4 696.9 340.4 698.7 341.4 700.4 342.4 702.1 343.4 703.8 344.4 705.5 345.4 707.2 346.4 708.8 347.4 710.5 348.4 712.0 349.4 713.6 350.4 715.2 351.4 716.7 352.4 718.2 353.4 719.7 354.4 721.2 355.4 722.6 356.4 724.0 357.4 725.4 358.4 726.8 359.4 728.1 360.4 729.4 361.4 730.8 362.4 732.0 363.4 733.3 364.4 734.5 365.4 735.7 366.4 736.9 367.4 738.1 368.4 739.2 369.4 740.4 370.4 741.5 371.4 742.5 372.4 743.6 373.4 744.6 374.4 745.6 375.4 746.6 376.4 747.6 377.4 748.5 378.4 749.4 379.4 750.3 380.4 751.2 381.4 752.0 382.4 752.9 383.4 753.7 384.4 754.4 385.4 755.2 386.4 755.9 387.4 756.6 388.4 757.3 389.4 758.0 390.4 758.6 391.4 759.2 392.4 759.8 393.4 760.4 394.4 761.0 395.4 761.5 396.4 762.1 397.4 762.6 398.4 763.1 399.4 763.6 400.4 764.0 401.4 764.5 402.4 765.0 403.4 765.4 404.4 765.9 405.4 766.3 406.4 766.7 407.4 767.1 408.4 767.6 409.4 768.0 410.4 768.4 411.4 768.8 412.4 769.2 413.4 769.6 414.4 770.1 415.4 770.5 416.4 770.9 417.4 771.4 418.4 771.8 419.4 772.3 420.4 772.7 421.4 773.2 422.4 773.7 423.4 774.2 424.4 774.7 425.4 775.2 426.4 775.7 427.4 776.3 428.4 776.9 429.4 777.4 430.4 778.1 431.4 778.7 432.4 779.3 432.5 779.4" fill="none" stroke="#ff0000" stroke-width="2.6" stroke-dasharray="2.4 3.2"/>
<line x1="92.9" y1="449.1" x2="102.4" y2="449.1" stroke="#151515" stroke-width="2.2"/>
<line x1="92.9" y1="517.6" x2="102.4" y2="517.6" stroke="#151515" stroke-width="2.2"/>
<line x1="92.9" y1="583.2" x2="102.4" y2="583.2" stroke="#151515" stroke-width="2.2"/>
<line x1="92.9" y1="649.3" x2="102.4" y2="649.3" stroke="#151515" stroke-width="2.2"/>
<line x1="92.9" y1="715.7" x2="102.4" y2="715.7" stroke="#151515" stroke-width="2.2"/>
<line x1="92.9" y1="781.5" x2="102.4" y2="781.5" stroke="#151515" stroke-width="2.2"/>
<line x1="103.4" y1="781.5" x2="103.4" y2="788.5" stroke="#151515" stroke-width="2.2"/>
<line x1="169.2" y1="781.5" x2="169.2" y2="788.5" stroke="#151515" stroke-width="2.2"/>
<line x1="235.0" y1="781.5" x2="235.0" y2="788.5" stroke="#151515" stroke-width="2.2"/>
<line x1="300.9" y1="781.5" x2="300.9" y2="788.5" stroke="#151515" stroke-width="2.2"/>
<line x1="366.7" y1="781.5" x2="366.7" y2="788.5" stroke="#151515" stroke-width="2.2"/>
<line x1="432.5" y1="781.5" x2="432.5" y2="788.5" stroke="#151515" stroke-width="2.2"/>
<text x="76.48" y="822.20" font-size="27.67" textLength="50.77" lengthAdjust="spacingAndGlyphs" >1700</text>
<text x="144.46" y="822.20" font-size="27.67" textLength="48.62" lengthAdjust="spacingAndGlyphs" >1680</text>
<text x="210.28" y="822.20" font-size="27.67" textLength="48.62" lengthAdjust="spacingAndGlyphs" >1660</text>
<text x="276.10" y="822.20" font-size="27.67" textLength="48.62" lengthAdjust="spacingAndGlyphs" >1640</text>
<text x="341.92" y="822.20" font-size="27.67" textLength="48.62" lengthAdjust="spacingAndGlyphs" >1620</text>
<text x="407.74" y="822.20" font-size="27.67" textLength="48.62" lengthAdjust="spacingAndGlyphs" >1600</text>
<text x="280.09" y="471.00" font-size="26.46" textLength="149.79" lengthAdjust="spacingAndGlyphs" >0.5x Rotenone</text>
<text x="159.58" y="876.10" font-size="29.63" textLength="23.59" lengthAdjust="spacingAndGlyphs" >W</text>
<g transform="translate(0,876.10) scale(1,0.950) translate(0,-876.10)"><text x="182.39" y="876.10" font-size="29.63" textLength="92.99" lengthAdjust="spacingAndGlyphs" >avenumb</text></g>
<g transform="translate(0,876.10) scale(1,0.950) translate(0,-876.10)"><text x="279.51" y="876.10" font-size="29.63" textLength="21.88" lengthAdjust="spacingAndGlyphs" >er</text></g>
<text x="306.71" y="875.38" font-size="26.65" textLength="11.49" lengthAdjust="spacingAndGlyphs" style="font-weight:normal">(</text>
<g transform="translate(0,876.10) scale(1,0.950) translate(0,-876.10)"><text x="315.36" y="876.10" font-size="29.63" textLength="33.89" lengthAdjust="spacingAndGlyphs" >cm</text></g>
<rect x="346.60" y="861.26" width="6.10" height="2.48" fill="#000"/>
<text x="354.53" y="867.80" font-size="29.54" textLength="12.89" lengthAdjust="spacingAndGlyphs" >1</text>
<text x="366.94" y="875.38" font-size="26.65" textLength="10.33" lengthAdjust="spacingAndGlyphs" style="font-weight:normal">)</text>
<text transform="translate(34.80,708.09) rotate(-90)" font-size="29.39" textLength="188.88" lengthAdjust="spacingAndGlyphs" xml:space="preserve" >Abs.  Signal <tspan font-weight="normal">(</tspan>a.u.<tspan font-weight="normal">)</tspan></text>
<rect x="653.2" y="449.2" width="329.4" height="332.3" fill="none" stroke="#4a4a4a" stroke-width="2.8"/>
<path d="M653.2 776.3 654.2 775.6 655.2 774.9 656.2 774.2 657.2 773.5 658.2 772.7 659.2 772.0 660.2 771.2 661.2 770.5 662.2 769.7 663.2 768.9 664.2 768.1 665.2 767.3 666.2 766.4 667.2 765.6 668.2 764.7 669.2 763.8 670.2 762.9 671.2 762.0 672.2 761.1 673.2 760.1 674.2 759.1 675.2 758.1 676.2 757.1 677.2 756.1 678.2 755.0 679.2 754.0 680.2 752.8 681.2 751.7 682.2 750.6 683.2 749.4 684.2 748.2 685.2 747.0 686.2 745.7 687.2 744.4 688.2 743.1 689.2 741.8 690.2 740.4 691.2 739.0 692.2 737.6 693.2 736.2 694.2 734.7 695.2 733.2 696.2 731.6 697.2 730.0 698.2 728.4 699.2 726.8 700.2 725.1 701.2 723.4 702.2 721.6 703.2 719.8 704.2 718.0 705.2 716.2 706.2 714.3 707.2 712.4 708.2 710.5 709.2 708.6 710.2 706.7 711.2 704.8 712.2 702.9 713.2 700.9 714.2 699.0 715.2 697.1 716.2 695.3 717.2 693.4 718.2 691.6 719.2 689.8 720.2 688.0 721.2 686.2 722.2 684.5 723.2 682.8 724.2 681.2 725.2 679.6 726.2 678.0 727.2 676.4 728.2 674.9 729.2 673.4 730.2 671.8 731.2 670.3 732.2 668.7 733.2 667.2 734.2 665.6 735.2 664.0 736.2 662.4 737.2 660.7 738.2 659.0 739.2 657.3 740.2 655.5 741.2 653.6 742.2 651.7 743.2 649.8 744.2 647.8 745.2 645.7 746.2 643.6 747.2 641.4 748.2 639.1 749.2 636.9 750.2 634.6 751.2 632.2 752.2 629.8 753.2 627.4 754.2 625.0 755.2 622.6 756.2 620.1 757.2 617.6 758.2 615.1 759.2 612.6 760.2 610.1 761.2 607.6 762.2 605.1 763.2 602.6 764.2 600.2 765.2 597.7 766.2 595.2 767.2 592.7 768.2 590.3 769.2 587.8 770.2 585.2 771.2 582.7 772.2 580.1 773.2 577.5 774.2 574.8 775.2 572.1 776.2 569.4 777.2 566.7 778.2 564.0 779.2 561.4 780.2 558.9 781.2 556.4 782.2 554.1 783.2 551.8 784.2 549.8 785.2 547.8 786.2 546.1 787.2 544.5 788.2 543.0 789.2 541.7 790.2 540.6 791.2 539.6 792.2 538.8 793.2 538.2 794.2 537.7 795.2 537.4 796.2 537.3 797.2 537.3 798.2 537.5 799.2 537.9 800.2 538.4 801.2 539.0 802.2 539.8 803.2 540.8 804.2 541.8 805.2 543.0 806.2 544.3 807.2 545.7 808.2 547.2 809.2 548.8 810.2 550.5 811.2 552.3 812.2 554.1 813.2 556.1 814.2 558.1 815.2 560.2 816.2 562.3 817.2 564.5 818.2 566.8 819.2 569.1 820.2 571.4 821.2 573.8 822.2 576.2 823.2 578.7 824.2 581.2 825.2 583.6 826.2 586.1 827.2 588.6 828.2 591.1 829.2 593.6 830.2 596.1 831.2 598.6 832.2 601.1 833.2 603.5 834.2 605.9 835.2 608.3 836.2 610.7 837.2 613.1 838.2 615.5 839.2 617.8 840.2 620.1 841.2 622.4 842.2 624.7 843.2 626.9 844.2 629.2 845.2 631.4 846.2 633.6 847.2 635.8 848.2 638.0 849.2 640.1 850.2 642.3 851.2 644.4 852.2 646.5 853.2 648.5 854.2 650.6 855.2 652.6 856.2 654.6 857.2 656.6 858.2 658.6 859.2 660.6 860.2 662.5 861.2 664.5 862.2 666.4 863.2 668.2 864.2 670.1 865.2 672.0 866.2 673.8 867.2 675.6 868.2 677.4 869.2 679.1 870.2 680.9 871.2 682.6 872.2 684.3 873.2 686.0 874.2 687.7 875.2 689.3 876.2 691.0 877.2 692.6 878.2 694.2 879.2 695.8 880.2 697.3 881.2 698.9 882.2 700.4 883.2 701.9 884.2 703.4 885.2 704.8 886.2 706.3 887.2 707.7 888.2 709.1 889.2 710.5 890.2 711.9 891.2 713.2 892.2 714.6 893.2 715.9 894.2 717.2 895.2 718.5 896.2 719.8 897.2 721.1 898.2 722.3 899.2 723.5 900.2 724.7 901.2 725.9 902.2 727.1 903.2 728.3 904.2 729.4 905.2 730.6 906.2 731.7 907.2 732.8 908.2 733.9 909.2 734.9 910.2 736.0 911.2 737.0 912.2 738.1 913.2 739.1 914.2 740.1 915.2 741.1 916.2 742.0 917.2 743.0 918.2 743.9 919.2 744.8 920.2 745.7 921.2 746.5 922.2 747.4 923.2 748.1 924.2 748.9 925.2 749.6 926.2 750.3 927.2 750.9 928.2 751.5 929.2 752.1 930.2 752.6 931.2 753.1 932.2 753.5 933.2 753.9 934.2 754.2 935.2 754.4 936.2 754.6 937.2 754.8 938.2 755.0 939.2 755.1 940.2 755.2 941.2 755.3 942.2 755.4 943.2 755.5 944.2 755.6 945.2 755.7 946.2 755.9 947.2 756.0 948.2 756.3 949.2 756.5 950.2 756.9 951.2 757.2 952.2 757.7 953.2 758.2 954.2 758.8 955.2 759.5 956.2 760.3 957.2 761.1 958.2 762.0 959.2 763.0 960.2 764.0 961.2 765.0 962.2 766.0 963.2 767.0 964.2 768.1 965.2 769.1 966.2 770.1 967.2 771.0 968.2 771.9 969.2 772.7 970.2 773.5 971.2 774.2 972.2 774.8 973.2 775.2 974.2 775.6 975.2 775.9 976.2 776.0 977.2 776.1 978.2 776.2 979.2 776.5 980.2 776.9 981.2 777.6 982.2 778.7 982.6 779.2" fill="none" stroke="#000" stroke-width="2.8"/>
<path d="M653.2 775.1 654.2 774.7 655.2 774.2 656.2 773.8 657.2 773.3 658.2 772.7 659.2 772.2 660.2 771.6 661.2 771.0 662.2 770.3 663.2 769.7 664.2 769.0 665.2 768.2 666.2 767.5 667.2 766.7 668.2 765.9 669.2 765.0 670.2 764.1 671.2 763.2 672.2 762.3 673.2 761.3 674.2 760.3 675.2 759.2 676.2 758.2 677.2 757.1 678.2 755.9 679.2 754.8 680.2 753.6 681.2 752.4 682.2 751.1 683.2 749.9 684.2 748.6 685.2 747.2 686.2 745.9 687.2 744.6 688.2 743.2 689.2 741.8 690.2 740.4 691.2 738.9 692.2 737.5 693.2 736.1 694.2 734.6 695.2 733.2 696.2 731.7 697.2 730.3 698.2 728.8 699.2 727.4 700.2 725.9 701.2 724.5 702.2 723.1 703.2 721.7 704.2 720.3 705.2 719.0 706.2 717.6 707.2 716.3 708.2 715.1 709.2 713.8 710.2 712.6 711.2 711.5 712.2 710.4 713.2 709.3 714.2 708.3 715.2 707.3 716.2 706.4 717.2 705.5 718.2 704.7 719.2 703.9 720.2 703.2 721.2 702.6 722.2 702.0 723.2 701.5 724.2 701.1 725.2 700.7 726.2 700.4 727.2 700.2 728.2 700.0 729.2 699.9 730.2 699.9 731.2 700.0 732.2 700.1 733.2 700.3 734.2 700.5 735.2 700.8 736.2 701.2 737.2 701.7 738.2 702.2 739.2 702.8 740.2 703.5 741.2 704.2 742.2 705.0 743.2 705.8 744.2 706.7 745.2 707.7 746.2 708.7 747.2 709.7 748.2 710.8 749.2 711.9 750.2 713.1 751.2 714.3 752.2 715.6 753.2 716.8 754.2 718.2 755.2 719.5 756.2 720.9 757.2 722.2 758.2 723.6 759.2 725.1 760.2 726.5 761.2 727.9 762.2 729.4 763.2 730.8 764.2 732.3 765.2 733.8 766.2 735.2 767.2 736.7 768.2 738.1 769.2 739.5 770.2 740.9 771.2 742.3 772.2 743.7 773.2 745.1 774.2 746.4 775.2 747.8 776.2 749.1 777.2 750.4 778.2 751.6 779.2 752.9 780.2 754.1 781.2 755.2 782.2 756.4 783.2 757.5 784.2 758.6 785.2 759.7 786.2 760.7 787.2 761.7 788.2 762.6 789.2 763.6 790.2 764.5 791.2 765.4 792.2 766.2 793.2 767.0 794.2 767.8 795.2 768.5 796.2 769.2 797.2 769.9 798.2 770.6 799.2 771.2 800.2 771.8 801.2 772.4 802.2 772.9 803.2 773.5 804.2 774.0 805.2 774.4 806.2 774.9 807.2 775.3 808.2 775.7 809.2 776.1 810.2 776.4 811.2 776.8 812.2 777.1 813.2 777.4 814.2 777.7 815.2 778.0 816.2 778.2 817.2 778.5 818.2 778.7 819.2 778.9 820.2 779.1 821.2 779.3 822.2 779.4 823.2 779.6 824.2 779.7 825.2 779.9 826.2 780.0 827.2 780.1 828.2 780.2 829.2 780.3 830.2 780.4 831.2 780.5 832.2 780.6 833.2 780.7 834.2 780.8 835.2 780.8 836.2 780.9 837.2 780.9 838.2 781.0 839.2 781.0 840.2 781.1 841.2 781.1 842.2 781.1 843.2 781.2 844.2 781.2 845.2 781.2 846.2 781.3 847.2 781.3 848.2 781.3 849.2 781.3 850.2 781.3 851.2 781.4 852.2 781.4 853.2 781.4 854.2 781.4 855.2 781.4 856.2 781.4 857.2 781.4 858.2 781.4 859.2 781.4 860.2 781.4 861.2 781.5 862.2 781.5 863.2 781.5 864.2 781.5 865.2 781.5 866.2 781.5 867.2 781.5 868.2 781.5 869.2 781.5 870.2 781.5 871.2 781.5 872.2 781.5 873.2 781.5 874.2 781.5 875.2 781.5 876.2 781.5 877.2 781.5 878.2 781.5 879.2 781.5 880.2 781.5 881.2 781.5 882.2 781.5 883.2 781.5 884.2 781.5 885.2 781.5 886.2 781.5 887.2 781.5 888.2 781.5 889.2 781.5 890.2 781.5 891.2 781.5 892.2 781.5 893.2 781.5 894.2 781.5 895.2 781.5 896.2 781.5 897.2 781.5 898.2 781.5 899.2 781.5 900.2 781.5 901.2 781.5 902.2 781.5 903.2 781.5 904.2 781.5 905.2 781.5 906.2 781.5 907.2 781.5 908.2 781.5 909.2 781.5 910.2 781.5 911.2 781.5 912.2 781.5 913.2 781.5 914.2 781.5 915.2 781.5 916.2 781.5 917.2 781.5 918.2 781.5 919.2 781.5 920.2 781.5 921.2 781.5 922.2 781.5 923.2 781.5 924.2 781.5 925.2 781.5 926.2 781.5 927.2 781.5 928.2 781.5 929.2 781.5 930.2 781.5 931.2 781.5 932.2 781.5 933.2 781.5 934.2 781.5 935.2 781.5 936.2 781.5 937.2 781.5 938.2 781.5 939.2 781.5 940.2 781.5 941.2 781.5 942.2 781.5 943.2 781.5 944.2 781.5 945.2 781.5 946.2 781.5 947.2 781.5 948.2 781.5 949.2 781.5 950.2 781.5 951.2 781.5 952.2 781.5 953.2 781.5 954.2 781.5 955.2 781.5 956.2 781.5 957.2 781.5 958.2 781.5 959.2 781.5 960.2 781.5 961.2 781.5 962.2 781.5 963.2 781.5 964.2 781.5 965.2 781.5 966.2 781.5 967.2 781.5 968.2 781.5 969.2 781.5 970.2 781.5 971.2 781.5 972.2 781.5 973.2 781.5 974.2 781.5 975.2 781.5 976.2 781.5 977.2 781.5 978.2 781.5 979.2 781.5 980.2 781.5 981.2 781.5 982.2 781.5 982.6 781.5" fill="none" stroke="#00ff00" stroke-width="2.6" stroke-dasharray="16 6"/>
<path d="M653.2 781.4 654.2 781.4 655.2 781.4 656.2 781.4 657.2 781.4 658.2 781.4 659.2 781.4 660.2 781.4 661.2 781.4 662.2 781.3 663.2 781.3 664.2 781.3 665.2 781.3 666.2 781.3 667.2 781.3 668.2 781.3 669.2 781.2 670.2 781.2 671.2 781.2 672.2 781.2 673.2 781.2 674.2 781.1 675.2 781.1 676.2 781.1 677.2 781.1 678.2 781.0 679.2 781.0 680.2 781.0 681.2 780.9 682.2 780.9 683.2 780.9 684.2 780.8 685.2 780.8 686.2 780.7 687.2 780.7 688.2 780.6 689.2 780.6 690.2 780.5 691.2 780.4 692.2 780.4 693.2 780.3 694.2 780.2 695.2 780.2 696.2 780.1 697.2 780.0 698.2 779.9 699.2 779.8 700.2 779.7 701.2 779.6 702.2 779.5 703.2 779.4 704.2 779.2 705.2 779.1 706.2 779.0 707.2 778.8 708.2 778.7 709.2 778.5 710.2 778.4 711.2 778.2 712.2 778.0 713.2 777.8 714.2 777.6 715.2 777.4 716.2 777.2 717.2 777.0 718.2 776.8 719.2 776.5 720.2 776.3 721.2 776.0 722.2 775.7 723.2 775.4 724.2 775.1 725.2 774.8 726.2 774.5 727.2 774.2 728.2 773.8 729.2 773.5 730.2 773.1 731.2 772.7 732.2 772.3 733.2 771.9 734.2 771.5 735.2 771.0 736.2 770.6 737.2 770.1 738.2 769.6 739.2 769.1 740.2 768.6 741.2 768.0 742.2 767.4 743.2 766.9 744.2 766.3 745.2 765.7 746.2 765.0 747.2 764.4 748.2 763.7 749.2 763.0 750.2 762.3 751.2 761.6 752.2 760.8 753.2 760.1 754.2 759.3 755.2 758.5 756.2 757.7 757.2 756.8 758.2 756.0 759.2 755.1 760.2 754.2 761.2 753.3 762.2 752.3 763.2 751.4 764.2 750.4 765.2 749.4 766.2 748.4 767.2 747.4 768.2 746.3 769.2 745.2 770.2 744.1 771.2 743.0 772.2 741.9 773.2 740.8 774.2 739.6 775.2 738.5 776.2 737.3 777.2 736.1 778.2 734.9 779.2 733.6 780.2 732.4 781.2 731.2 782.2 729.9 783.2 728.6 784.2 727.4 785.2 726.1 786.2 724.8 787.2 723.5 788.2 722.2 789.2 720.8 790.2 719.5 791.2 718.2 792.2 716.9 793.2 715.5 794.2 714.2 795.2 712.9 796.2 711.6 797.2 710.2 798.2 708.9 799.2 707.6 800.2 706.3 801.2 705.0 802.2 703.7 803.2 702.4 804.2 701.2 805.2 699.9 806.2 698.7 807.2 697.4 808.2 696.2 809.2 695.0 810.2 693.9 811.2 692.7 812.2 691.6 813.2 690.5 814.2 689.4 815.2 688.3 816.2 687.2 817.2 686.2 818.2 685.2 819.2 684.3 820.2 683.4 821.2 682.5 822.2 681.6 823.2 680.8 824.2 680.0 825.2 679.2 826.2 678.5 827.2 677.8 828.2 677.1 829.2 676.5 830.2 675.9 831.2 675.4 832.2 674.9 833.2 674.4 834.2 674.0 835.2 673.6 836.2 673.3 837.2 673.0 838.2 672.7 839.2 672.5 840.2 672.3 841.2 672.2 842.2 672.1 843.2 672.1 844.2 672.1 845.2 672.2 846.2 672.3 847.2 672.4 848.2 672.6 849.2 672.8 850.2 673.1 851.2 673.4 852.2 673.7 853.2 674.1 854.2 674.6 855.2 675.1 856.2 675.6 857.2 676.1 858.2 676.7 859.2 677.4 860.2 678.0 861.2 678.7 862.2 679.5 863.2 680.3 864.2 681.1 865.2 681.9 866.2 682.8 867.2 683.7 868.2 684.7 869.2 685.6 870.2 686.6 871.2 687.7 872.2 688.7 873.2 689.8 874.2 690.9 875.2 692.0 876.2 693.2 877.2 694.3 878.2 695.5 879.2 696.7 880.2 697.9 881.2 699.2 882.2 700.4 883.2 701.7 884.2 703.0 885.2 704.2 886.2 705.5 887.2 706.8 888.2 708.1 889.2 709.5 890.2 710.8 891.2 712.1 892.2 713.4 893.2 714.7 894.2 716.1 895.2 717.4 896.2 718.7 897.2 720.0 898.2 721.4 899.2 722.7 900.2 724.0 901.2 725.3 902.2 726.6 903.2 727.9 904.2 729.1 905.2 730.4 906.2 731.7 907.2 732.9 908.2 734.1 909.2 735.4 910.2 736.6 911.2 737.8 912.2 738.9 913.2 740.1 914.2 741.2 915.2 742.4 916.2 743.5 917.2 744.6 918.2 745.7 919.2 746.7 920.2 747.8 921.2 748.8 922.2 749.8 923.2 750.8 924.2 751.8 925.2 752.7 926.2 753.6 927.2 754.6 928.2 755.4 929.2 756.3 930.2 757.2 931.2 758.0 932.2 758.8 933.2 759.6 934.2 760.4 935.2 761.1 936.2 761.9 937.2 762.6 938.2 763.3 939.2 764.0 940.2 764.6 941.2 765.3 942.2 765.9 943.2 766.5 944.2 767.1 945.2 767.7 946.2 768.2 947.2 768.8 948.2 769.3 949.2 769.8 950.2 770.3 951.2 770.7 952.2 771.2 953.2 771.6 954.2 772.1 955.2 772.5 956.2 772.9 957.2 773.3 958.2 773.6 959.2 774.0 960.2 774.3 961.2 774.6 962.2 775.0 963.2 775.3 964.2 775.6 965.2 775.8 966.2 776.1 967.2 776.4 968.2 776.6 969.2 776.9 970.2 777.1 971.2 777.3 972.2 777.5 973.2 777.7 974.2 777.9 975.2 778.1 976.2 778.3 977.2 778.4 978.2 778.6 979.2 778.7 980.2 778.9 981.2 779.0 982.2 779.2 982.6 779.2" fill="none" stroke="#0000ff" stroke-width="2.6" stroke-dasharray="26 9"/>
<path d="M653.2 781.5 654.2 781.5 655.2 781.5 656.2 781.5 657.2 781.5 658.2 781.5 659.2 781.5 660.2 781.5 661.2 781.5 662.2 781.5 663.2 781.5 664.2 781.5 665.2 781.5 666.2 781.5 667.2 781.5 668.2 781.5 669.2 781.5 670.2 781.5 671.2 781.5 672.2 781.4 673.2 781.4 674.2 781.4 675.2 781.4 676.2 781.4 677.2 781.4 678.2 781.4 679.2 781.4 680.2 781.3 681.2 781.3 682.2 781.3 683.2 781.3 684.2 781.3 685.2 781.2 686.2 781.2 687.2 781.1 688.2 781.1 689.2 781.1 690.2 781.0 691.2 780.9 692.2 780.9 693.2 780.8 694.2 780.7 695.2 780.6 696.2 780.6 697.2 780.4 698.2 780.3 699.2 780.2 700.2 780.1 701.2 779.9 702.2 779.8 703.2 779.6 704.2 779.4 705.2 779.2 706.2 778.9 707.2 778.7 708.2 778.4 709.2 778.1 710.2 777.8 711.2 777.4 712.2 777.1 713.2 776.7 714.2 776.2 715.2 775.8 716.2 775.2 717.2 774.7 718.2 774.1 719.2 773.5 720.2 772.8 721.2 772.1 722.2 771.4 723.2 770.6 724.2 769.7 725.2 768.8 726.2 767.8 727.2 766.8 728.2 765.7 729.2 764.6 730.2 763.4 731.2 762.1 732.2 760.7 733.2 759.3 734.2 757.8 735.2 756.3 736.2 754.6 737.2 752.9 738.2 751.1 739.2 749.3 740.2 747.4 741.2 745.3 742.2 743.2 743.2 741.1 744.2 738.8 745.2 736.5 746.2 734.1 747.2 731.6 748.2 729.1 749.2 726.5 750.2 723.8 751.2 721.1 752.2 718.2 753.2 715.4 754.2 712.4 755.2 709.5 756.2 706.4 757.2 703.4 758.2 700.3 759.2 697.1 760.2 693.9 761.2 690.8 762.2 687.5 763.2 684.3 764.2 681.1 765.2 677.9 766.2 674.7 767.2 671.5 768.2 668.4 769.2 665.2 770.2 662.2 771.2 659.1 772.2 656.2 773.2 653.3 774.2 650.4 775.2 647.7 776.2 645.0 777.2 642.5 778.2 640.0 779.2 637.7 780.2 635.4 781.2 633.3 782.2 631.4 783.2 629.5 784.2 627.8 785.2 626.3 786.2 624.9 787.2 623.7 788.2 622.6 789.2 621.7 790.2 621.0 791.2 620.4 792.2 620.0 793.2 619.8 794.2 619.7 795.2 619.8 796.2 620.1 797.2 620.6 798.2 621.2 799.2 622.0 800.2 623.0 801.2 624.1 802.2 625.4 803.2 626.9 804.2 628.5 805.2 630.2 806.2 632.1 807.2 634.2 808.2 636.3 809.2 638.6 810.2 641.0 811.2 643.5 812.2 646.1 813.2 648.8 814.2 651.6 815.2 654.4 816.2 657.4 817.2 660.3 818.2 663.4 819.2 666.5 820.2 669.6 821.2 672.8 822.2 676.0 823.2 679.2 824.2 682.4 825.2 685.6 826.2 688.8 827.2 692.0 828.2 695.2 829.2 698.4 830.2 701.5 831.2 704.6 832.2 707.7 833.2 710.7 834.2 713.6 835.2 716.5 836.2 719.4 837.2 722.2 838.2 724.9 839.2 727.5 840.2 730.1 841.2 732.6 842.2 735.1 843.2 737.5 844.2 739.7 845.2 742.0 846.2 744.1 847.2 746.2 848.2 748.1 849.2 750.0 850.2 751.9 851.2 753.6 852.2 755.3 853.2 756.9 854.2 758.4 855.2 759.9 856.2 761.3 857.2 762.6 858.2 763.8 859.2 765.0 860.2 766.2 861.2 767.2 862.2 768.2 863.2 769.2 864.2 770.1 865.2 770.9 866.2 771.7 867.2 772.4 868.2 773.1 869.2 773.8 870.2 774.4 871.2 774.9 872.2 775.5 873.2 775.9 874.2 776.4 875.2 776.8 876.2 777.2 877.2 777.6 878.2 777.9 879.2 778.2 880.2 778.5 881.2 778.8 882.2 779.0 883.2 779.3 884.2 779.5 885.2 779.6 886.2 779.8 887.2 780.0 888.2 780.1 889.2 780.3 890.2 780.4 891.2 780.5 892.2 780.6 893.2 780.7 894.2 780.8 895.2 780.8 896.2 780.9 897.2 781.0 898.2 781.0 899.2 781.1 900.2 781.1 901.2 781.2 902.2 781.2 903.2 781.2 904.2 781.3 905.2 781.3 906.2 781.3 907.2 781.3 908.2 781.4 909.2 781.4 910.2 781.4 911.2 781.4 912.2 781.4 913.2 781.4 914.2 781.4 915.2 781.4 916.2 781.4 917.2 781.5 918.2 781.5 919.2 781.5 920.2 781.5 921.2 781.5 922.2 781.5 923.2 781.5 924.2 781.5 925.2 781.5 926.2 781.5 927.2 781.5 928.2 781.5 929.2 781.5 930.2 781.5 931.2 781.5 932.2 781.5 933.2 781.5 934.2 781.5 935.2 781.5 936.2 781.5 937.2 781.5 938.2 781.5 939.2 781.5 940.2 781.5 941.2 781.5 942.2 781.5 943.2 781.5 944.2 781.5 945.2 781.5 946.2 781.5 947.2 781.5 948.2 781.5 949.2 781.5 950.2 781.5 951.2 781.5 952.2 781.5 953.2 781.5 954.2 781.5 955.2 781.5 956.2 781.5 957.2 781.5 958.2 781.5 959.2 781.5 960.2 781.5 961.2 781.5 962.2 781.5 963.2 781.5 964.2 781.5 965.2 781.5 966.2 781.5 967.2 781.5 968.2 781.5 969.2 781.5 970.2 781.5 971.2 781.5 972.2 781.5 973.2 781.5 974.2 781.5 975.2 781.5 976.2 781.5 977.2 781.5 978.2 781.5 979.2 781.5 980.2 781.5 981.2 781.5 982.2 781.5 982.6 781.5" fill="none" stroke="#ffff00" stroke-width="2.6" stroke-dasharray="17 5 1.8 4.5 1.8 4.5"/>
<path d="M653.2 781.5 654.2 781.5 655.2 781.5 656.2 781.5 657.2 781.5 658.2 781.5 659.2 781.5 660.2 781.5 661.2 781.5 662.2 781.5 663.2 781.5 664.2 781.5 665.2 781.5 666.2 781.5 667.2 781.5 668.2 781.5 669.2 781.5 670.2 781.5 671.2 781.5 672.2 781.5 673.2 781.5 674.2 781.5 675.2 781.5 676.2 781.5 677.2 781.5 678.2 781.5 679.2 781.5 680.2 781.5 681.2 781.5 682.2 781.5 683.2 781.5 684.2 781.5 685.2 781.5 686.2 781.5 687.2 781.5 688.2 781.5 689.2 781.5 690.2 781.5 691.2 781.5 692.2 781.5 693.2 781.5 694.2 781.5 695.2 781.5 696.2 781.5 697.2 781.5 698.2 781.5 699.2 781.5 700.2 781.5 701.2 781.5 702.2 781.5 703.2 781.5 704.2 781.5 705.2 781.5 706.2 781.5 707.2 781.5 708.2 781.5 709.2 781.5 710.2 781.5 711.2 781.5 712.2 781.5 713.2 781.5 714.2 781.5 715.2 781.5 716.2 781.5 717.2 781.5 718.2 781.5 719.2 781.5 720.2 781.5 721.2 781.5 722.2 781.5 723.2 781.5 724.2 781.5 725.2 781.5 726.2 781.5 727.2 781.5 728.2 781.5 729.2 781.5 730.2 781.5 731.2 781.5 732.2 781.5 733.2 781.5 734.2 781.5 735.2 781.5 736.2 781.5 737.2 781.5 738.2 781.5 739.2 781.5 740.2 781.5 741.2 781.5 742.2 781.5 743.2 781.5 744.2 781.5 745.2 781.5 746.2 781.5 747.2 781.5 748.2 781.5 749.2 781.5 750.2 781.5 751.2 781.5 752.2 781.5 753.2 781.5 754.2 781.5 755.2 781.5 756.2 781.5 757.2 781.5 758.2 781.5 759.2 781.5 760.2 781.5 761.2 781.5 762.2 781.5 763.2 781.5 764.2 781.5 765.2 781.5 766.2 781.5 767.2 781.5 768.2 781.5 769.2 781.5 770.2 781.5 771.2 781.5 772.2 781.5 773.2 781.5 774.2 781.5 775.2 781.5 776.2 781.5 777.2 781.5 778.2 781.5 779.2 781.5 780.2 781.5 781.2 781.5 782.2 781.5 783.2 781.5 784.2 781.5 785.2 781.5 786.2 781.5 787.2 781.5 788.2 781.5 789.2 781.5 790.2 781.5 791.2 781.5 792.2 781.5 793.2 781.5 794.2 781.5 795.2 781.5 796.2 781.5 797.2 781.5 798.2 781.5 799.2 781.5 800.2 781.5 801.2 781.5 802.2 781.5 803.2 781.5 804.2 781.5 805.2 781.5 806.2 781.5 807.2 781.5 808.2 781.5 809.2 781.5 810.2 781.5 811.2 781.5 812.2 781.5 813.2 781.5 814.2 781.5 815.2 781.5 816.2 781.5 817.2 781.5 818.2 781.5 819.2 781.5 820.2 781.5 821.2 781.5 822.2 781.5 823.2 781.5 824.2 781.5 825.2 781.5 826.2 781.5 827.2 781.5 828.2 781.5 829.2 781.5 830.2 781.5 831.2 781.5 832.2 781.5 833.2 781.5 834.2 781.5 835.2 781.5 836.2 781.5 837.2 781.5 838.2 781.5 839.2 781.5 840.2 781.5 841.2 781.5 842.2 781.5 843.2 781.5 844.2 781.5 845.2 781.5 846.2 781.5 847.2 781.5 848.2 781.5 849.2 781.5 850.2 781.5 851.2 781.5 852.2 781.5 853.2 781.5 854.2 781.5 855.2 781.5 856.2 781.5 857.2 781.5 858.2 781.5 859.2 781.5 860.2 781.5 861.2 781.5 862.2 781.5 863.2 781.5 864.2 781.5 865.2 781.5 866.2 781.5 867.2 781.5 868.2 781.5 869.2 781.5 870.2 781.5 871.2 781.5 872.2 781.5 873.2 781.5 874.2 781.5 875.2 781.5 876.2 781.5 877.2 781.5 878.2 781.5 879.2 781.5 880.2 781.5 881.2 781.5 882.2 781.5 883.2 781.5 884.2 781.5 885.2 781.5 886.2 781.5 887.2 781.5 888.2 781.5 889.2 781.5 890.2 781.5 891.2 781.5 892.2 781.5 893.2 781.5 894.2 781.5 895.2 781.5 896.2 781.5 897.2 781.5 898.2 781.5 899.2 781.4 900.2 781.4 901.2 781.4 902.2 781.4 903.2 781.4 904.2 781.3 905.2 781.3 906.2 781.3 907.2 781.2 908.2 781.2 909.2 781.1 910.2 781.1 911.2 781.0 912.2 780.9 913.2 780.8 914.2 780.7 915.2 780.5 916.2 780.4 917.2 780.2 918.2 780.1 919.2 779.9 920.2 779.6 921.2 779.4 922.2 779.1 923.2 778.8 924.2 778.5 925.2 778.2 926.2 777.8 927.2 777.4 928.2 777.0 929.2 776.6 930.2 776.2 931.2 775.7 932.2 775.3 933.2 774.8 934.2 774.3 935.2 773.8 936.2 773.3 937.2 772.8 938.2 772.3 939.2 771.8 940.2 771.4 941.2 771.0 942.2 770.6 943.2 770.2 944.2 769.8 945.2 769.5 946.2 769.3 947.2 769.1 948.2 768.9 949.2 768.8 950.2 768.7 951.2 768.7 952.2 768.7 953.2 768.8 954.2 769.0 955.2 769.1 956.2 769.4 957.2 769.7 958.2 770.0 959.2 770.3 960.2 770.7 961.2 771.1 962.2 771.6 963.2 772.0 964.2 772.5 965.2 773.0 966.2 773.5 967.2 774.0 968.2 774.5 969.2 775.0 970.2 775.4 971.2 775.9 972.2 776.4 973.2 776.8 974.2 777.2 975.2 777.6 976.2 778.0 977.2 778.3 978.2 778.6 979.2 778.9 980.2 779.2 981.2 779.5 982.2 779.7 982.6 779.8" fill="none" stroke="#ff00ff" stroke-width="2.6" stroke-dasharray="17 4.5 2 4.5"/>
<path d="M653.2 776.3 654.2 775.6 655.2 774.9 656.2 774.2 657.2 773.5 658.2 772.7 659.2 772.0 660.2 771.2 661.2 770.5 662.2 769.7 663.2 768.9 664.2 768.1 665.2 767.3 666.2 766.4 667.2 765.6 668.2 764.7 669.2 763.8 670.2 762.9 671.2 762.0 672.2 761.1 673.2 760.1 674.2 759.1 675.2 758.1 676.2 757.1 677.2 756.1 678.2 755.0 679.2 754.0 680.2 752.8 681.2 751.7 682.2 750.6 683.2 749.4 684.2 748.2 685.2 747.0 686.2 745.7 687.2 744.4 688.2 743.1 689.2 741.8 690.2 740.4 691.2 739.0 692.2 737.6 693.2 736.2 694.2 734.7 695.2 733.2 696.2 731.6 697.2 730.0 698.2 728.4 699.2 726.8 700.2 725.1 701.2 723.4 702.2 721.6 703.2 719.8 704.2 718.0 705.2 716.2 706.2 714.3 707.2 712.4 708.2 710.5 709.2 708.6 710.2 706.7 711.2 704.8 712.2 702.9 713.2 700.9 714.2 699.0 715.2 697.1 716.2 695.3 717.2 693.4 718.2 691.6 719.2 689.8 720.2 688.0 721.2 686.2 722.2 684.5 723.2 682.8 724.2 681.2 725.2 679.6 726.2 678.0 727.2 676.4 728.2 674.9 729.2 673.4 730.2 671.8 731.2 670.3 732.2 668.7 733.2 667.2 734.2 665.6 735.2 664.0 736.2 662.4 737.2 660.7 738.2 659.0 739.2 657.3 740.2 655.5 741.2 653.6 742.2 651.7 743.2 649.8 744.2 647.8 745.2 645.7 746.2 643.6 747.2 641.4 748.2 639.1 749.2 636.9 750.2 634.6 751.2 632.2 752.2 629.8 753.2 627.4 754.2 625.0 755.2 622.6 756.2 620.1 757.2 617.6 758.2 615.1 759.2 612.6 760.2 610.1 761.2 607.6 762.2 605.1 763.2 602.6 764.2 600.2 765.2 597.7 766.2 595.2 767.2 592.7 768.2 590.3 769.2 587.8 770.2 585.2 771.2 582.7 772.2 580.1 773.2 577.5 774.2 574.8 775.2 572.1 776.2 569.4 777.2 566.7 778.2 564.0 779.2 561.4 780.2 558.9 781.2 556.4 782.2 554.1 783.2 551.8 784.2 549.8 785.2 547.8 786.2 546.1 787.2 544.5 788.2 543.0 789.2 541.7 790.2 540.6 791.2 539.6 792.2 538.8 793.2 538.2 794.2 537.7 795.2 537.4 796.2 537.3 797.2 537.3 798.2 537.5 799.2 537.9 800.2 538.4 801.2 539.0 802.2 539.8 803.2 540.8 804.2 541.8 805.2 543.0 806.2 544.3 807.2 545.7 808.2 547.2 809.2 548.8 810.2 550.5 811.2 552.3 812.2 554.1 813.2 556.1 814.2 558.1 815.2 560.2 816.2 562.3 817.2 564.5 818.2 566.8 819.2 569.1 820.2 571.4 821.2 573.8 822.2 576.2 823.2 578.7 824.2 581.2 825.2 583.6 826.2 586.1 827.2 588.6 828.2 591.1 829.2 593.6 830.2 596.1 831.2 598.6 832.2 601.1 833.2 603.5 834.2 605.9 835.2 608.3 836.2 610.7 837.2 613.1 838.2 615.5 839.2 617.8 840.2 620.1 841.2 622.4 842.2 624.7 843.2 626.9 844.2 629.2 845.2 631.4 846.2 633.6 847.2 635.8 848.2 638.0 849.2 640.1 850.2 642.3 851.2 644.4 852.2 646.5 853.2 648.5 854.2 650.6 855.2 652.6 856.2 654.6 857.2 656.6 858.2 658.6 859.2 660.6 860.2 662.5 861.2 664.5 862.2 666.4 863.2 668.2 864.2 670.1 865.2 672.0 866.2 673.8 867.2 675.6 868.2 677.4 869.2 679.1 870.2 680.9 871.2 682.6 872.2 684.3 873.2 686.0 874.2 687.7 875.2 689.3 876.2 691.0 877.2 692.6 878.2 694.2 879.2 695.8 880.2 697.3 881.2 698.9 882.2 700.4 883.2 701.9 884.2 703.4 885.2 704.8 886.2 706.3 887.2 707.7 888.2 709.1 889.2 710.5 890.2 711.9 891.2 713.2 892.2 714.6 893.2 715.9 894.2 717.2 895.2 718.5 896.2 719.8 897.2 721.1 898.2 722.3 899.2 723.5 900.2 724.7 901.2 725.9 902.2 727.1 903.2 728.3 904.2 729.4 905.2 730.6 906.2 731.7 907.2 732.8 908.2 733.9 909.2 734.9 910.2 736.0 911.2 737.0 912.2 738.1 913.2 739.1 914.2 740.1 915.2 741.1 916.2 742.0 917.2 743.0 918.2 743.9 919.2 744.8 920.2 745.7 921.2 746.5 922.2 747.4 923.2 748.1 924.2 748.9 925.2 749.6 926.2 750.3 927.2 750.9 928.2 751.5 929.2 752.1 930.2 752.6 931.2 753.1 932.2 753.5 933.2 753.9 934.2 754.2 935.2 754.4 936.2 754.6 937.2 754.8 938.2 755.0 939.2 755.1 940.2 755.2 941.2 755.3 942.2 755.4 943.2 755.5 944.2 755.6 945.2 755.7 946.2 755.9 947.2 756.0 948.2 756.3 949.2 756.5 950.2 756.9 951.2 757.2 952.2 757.7 953.2 758.2 954.2 758.8 955.2 759.5 956.2 760.3 957.2 761.1 958.2 762.0 959.2 763.0 960.2 764.0 961.2 765.0 962.2 766.0 963.2 767.0 964.2 768.1 965.2 769.1 966.2 770.1 967.2 771.0 968.2 771.9 969.2 772.7 970.2 773.5 971.2 774.2 972.2 774.8 973.2 775.2 974.2 775.6 975.2 775.9 976.2 776.0 977.2 776.1 978.2 776.2 979.2 776.5 980.2 776.9 981.2 777.6 982.2 778.7 982.6 779.2" fill="none" stroke="#ff0000" stroke-width="2.6" stroke-dasharray="2.4 3.2"/>
<line x1="642.7" y1="449.1" x2="652.2" y2="449.1" stroke="#151515" stroke-width="2.2"/>
<line x1="642.7" y1="517.6" x2="652.2" y2="517.6" stroke="#151515" stroke-width="2.2"/>
<line x1="642.7" y1="583.2" x2="652.2" y2="583.2" stroke="#151515" stroke-width="2.2"/>
<line x1="642.7" y1="649.3" x2="652.2" y2="649.3" stroke="#151515" stroke-width="2.2"/>
<line x1="642.7" y1="715.7" x2="652.2" y2="715.7" stroke="#151515" stroke-width="2.2"/>
<line x1="642.7" y1="781.5" x2="652.2" y2="781.5" stroke="#151515" stroke-width="2.2"/>
<line x1="653.2" y1="781.5" x2="653.2" y2="788.5" stroke="#151515" stroke-width="2.2"/>
<line x1="719.1" y1="781.5" x2="719.1" y2="788.5" stroke="#151515" stroke-width="2.2"/>
<line x1="785.0" y1="781.5" x2="785.0" y2="788.5" stroke="#151515" stroke-width="2.2"/>
<line x1="850.8" y1="781.5" x2="850.8" y2="788.5" stroke="#151515" stroke-width="2.2"/>
<line x1="916.7" y1="781.5" x2="916.7" y2="788.5" stroke="#151515" stroke-width="2.2"/>
<line x1="982.6" y1="781.5" x2="982.6" y2="788.5" stroke="#151515" stroke-width="2.2"/>
<text x="627.18" y="822.20" font-size="27.67" textLength="49.37" lengthAdjust="spacingAndGlyphs" >1700</text>
<text x="695.22" y="822.20" font-size="27.67" textLength="47.22" lengthAdjust="spacingAndGlyphs" >1680</text>
<text x="761.10" y="822.20" font-size="27.67" textLength="47.22" lengthAdjust="spacingAndGlyphs" >1660</text>
<text x="826.98" y="822.20" font-size="27.67" textLength="47.22" lengthAdjust="spacingAndGlyphs" >1640</text>
<text x="892.86" y="822.20" font-size="27.67" textLength="47.22" lengthAdjust="spacingAndGlyphs" >1620</text>
<text x="958.74" y="822.20" font-size="27.67" textLength="47.22" lengthAdjust="spacingAndGlyphs" >1600</text>
<text x="817.02" y="470.40" font-size="25.71" textLength="162.84" lengthAdjust="spacingAndGlyphs" >0.75x Rotenone</text>
<text x="709.28" y="876.10" font-size="29.63" textLength="23.63" lengthAdjust="spacingAndGlyphs" >W</text>
<g transform="translate(0,876.10) scale(1,0.950) translate(0,-876.10)"><text x="732.13" y="876.10" font-size="29.63" textLength="93.14" lengthAdjust="spacingAndGlyphs" >avenumb</text></g>
<g transform="translate(0,876.10) scale(1,0.950) translate(0,-876.10)"><text x="829.41" y="876.10" font-size="29.63" textLength="21.91" lengthAdjust="spacingAndGlyphs" >er</text></g>
<text x="856.65" y="875.38" font-size="26.65" textLength="11.51" lengthAdjust="spacingAndGlyphs" style="font-weight:normal">(</text>
<g transform="translate(0,876.10) scale(1,0.950) translate(0,-876.10)"><text x="865.31" y="876.10" font-size="29.63" textLength="33.95" lengthAdjust="spacingAndGlyphs" >cm</text></g>
<rect x="896.60" y="861.26" width="6.40" height="2.48" fill="#000"/>
<text x="904.53" y="867.80" font-size="29.54" textLength="13.39" lengthAdjust="spacingAndGlyphs" >1</text>
<text x="916.74" y="875.38" font-size="26.65" textLength="11.33" lengthAdjust="spacingAndGlyphs" style="font-weight:normal">)</text>
<text transform="translate(612.20,703.68) rotate(-90)" font-size="28.18" textLength="180.01" lengthAdjust="spacingAndGlyphs" xml:space="preserve" >Abs.  Signal <tspan font-weight="normal">(</tspan>a.u.<tspan font-weight="normal">)</tspan></text>
<rect x="133.5" y="890.5" width="298.7" height="299.7" fill="none" stroke="#4a4a4a" stroke-width="2.8"/>
<path d="M133.5 1185.9 134.5 1185.7 135.5 1185.3 136.5 1184.9 137.5 1184.3 138.5 1183.7 139.5 1183.0 140.5 1182.2 141.5 1181.3 142.5 1180.3 143.5 1179.3 144.5 1178.2 145.5 1177.0 146.5 1175.8 147.5 1174.5 148.5 1173.1 149.5 1171.7 150.5 1170.3 151.5 1168.8 152.5 1167.3 153.5 1165.8 154.5 1164.2 155.5 1162.6 156.5 1161.0 157.5 1159.4 158.5 1157.8 159.5 1156.1 160.5 1154.5 161.5 1152.8 162.5 1151.1 163.5 1149.4 164.5 1147.7 165.5 1146.0 166.5 1144.2 167.5 1142.4 168.5 1140.5 169.5 1138.7 170.5 1136.7 171.5 1134.8 172.5 1132.8 173.5 1130.7 174.5 1128.6 175.5 1126.4 176.5 1124.2 177.5 1121.9 178.5 1119.6 179.5 1117.2 180.5 1114.7 181.5 1112.1 182.5 1109.5 183.5 1106.9 184.5 1104.2 185.5 1101.4 186.5 1098.6 187.5 1095.8 188.5 1093.0 189.5 1090.2 190.5 1087.3 191.5 1084.5 192.5 1081.7 193.5 1078.9 194.5 1076.1 195.5 1073.3 196.5 1070.6 197.5 1067.9 198.5 1065.2 199.5 1062.7 200.5 1060.1 201.5 1057.7 202.5 1055.3 203.5 1053.0 204.5 1050.7 205.5 1048.5 206.5 1046.4 207.5 1044.2 208.5 1042.1 209.5 1040.0 210.5 1037.8 211.5 1035.7 212.5 1033.5 213.5 1031.3 214.5 1029.1 215.5 1026.8 216.5 1024.5 217.5 1022.2 218.5 1019.8 219.5 1017.4 220.5 1015.0 221.5 1012.6 222.5 1010.1 223.5 1007.6 224.5 1005.1 225.5 1002.6 226.5 1000.0 227.5 997.4 228.5 994.8 229.5 992.2 230.5 989.6 231.5 986.9 232.5 984.3 233.5 981.6 234.5 978.9 235.5 976.2 236.5 973.5 237.5 970.8 238.5 968.1 239.5 965.4 240.5 962.8 241.5 960.2 242.5 957.6 243.5 955.0 244.5 952.5 245.5 950.1 246.5 947.7 247.5 945.3 248.5 943.1 249.5 940.9 250.5 938.8 251.5 936.8 252.5 934.9 253.5 933.1 254.5 931.4 255.5 929.8 256.5 928.4 257.5 927.0 258.5 925.8 259.5 924.8 260.5 924.0 261.5 923.3 262.5 922.8 263.5 922.6 264.5 922.5 265.5 922.7 266.5 923.1 267.5 923.8 268.5 924.6 269.5 925.7 270.5 927.0 271.5 928.5 272.5 930.2 273.5 932.1 274.5 934.2 275.5 936.5 276.5 939.0 277.5 941.6 278.5 944.4 279.5 947.3 280.5 950.4 281.5 953.5 282.5 956.8 283.5 960.1 284.5 963.5 285.5 967.0 286.5 970.5 287.5 974.0 288.5 977.5 289.5 981.0 290.5 984.5 291.5 987.9 292.5 991.2 293.5 994.5 294.5 997.6 295.5 1000.7 296.5 1003.8 297.5 1006.8 298.5 1009.7 299.5 1012.6 300.5 1015.5 301.5 1018.3 302.5 1021.1 303.5 1023.9 304.5 1026.7 305.5 1029.5 306.5 1032.2 307.5 1035.0 308.5 1037.8 309.5 1040.5 310.5 1043.2 311.5 1045.9 312.5 1048.6 313.5 1051.3 314.5 1054.0 315.5 1056.6 316.5 1059.2 317.5 1061.8 318.5 1064.4 319.5 1066.9 320.5 1069.4 321.5 1071.9 322.5 1074.3 323.5 1076.7 324.5 1079.1 325.5 1081.4 326.5 1083.7 327.5 1086.0 328.5 1088.2 329.5 1090.4 330.5 1092.6 331.5 1094.7 332.5 1096.8 333.5 1098.9 334.5 1100.9 335.5 1102.9 336.5 1104.9 337.5 1106.8 338.5 1108.7 339.5 1110.5 340.5 1112.4 341.5 1114.2 342.5 1116.0 343.5 1117.7 344.5 1119.4 345.5 1121.1 346.5 1122.7 347.5 1124.4 348.5 1126.0 349.5 1127.5 350.5 1129.1 351.5 1130.6 352.5 1132.1 353.5 1133.6 354.5 1135.0 355.5 1136.4 356.5 1137.8 357.5 1139.2 358.5 1140.5 359.5 1141.8 360.5 1143.1 361.5 1144.4 362.5 1145.6 363.5 1146.8 364.5 1147.9 365.5 1149.0 366.5 1150.0 367.5 1151.0 368.5 1151.9 369.5 1152.8 370.5 1153.6 371.5 1154.3 372.5 1155.0 373.5 1155.6 374.5 1156.1 375.5 1156.5 376.5 1156.9 377.5 1157.1 378.5 1157.3 379.5 1157.3 380.5 1157.3 381.5 1157.2 382.5 1157.0 383.5 1156.6 384.5 1156.2 385.5 1155.7 386.5 1155.2 387.5 1154.6 388.5 1153.9 389.5 1153.2 390.5 1152.5 391.5 1151.8 392.5 1151.1 393.5 1150.3 394.5 1149.6 395.5 1149.0 396.5 1148.3 397.5 1147.8 398.5 1147.2 399.5 1146.8 400.5 1146.4 401.5 1146.2 402.5 1146.0 403.5 1145.9 404.5 1146.0 405.5 1146.2 406.5 1146.5 407.5 1147.0 408.5 1147.6 409.5 1148.4 410.5 1149.3 411.5 1150.4 412.5 1151.7 413.5 1153.1 414.5 1154.6 415.5 1156.2 416.5 1158.0 417.5 1159.8 418.5 1161.7 419.5 1163.7 420.5 1165.6 421.5 1167.6 422.5 1169.6 423.5 1171.6 424.5 1173.6 425.5 1175.5 426.5 1177.3 427.5 1179.0 428.5 1180.7 429.5 1182.2 430.5 1183.5 431.5 1184.7 432.2 1185.4" fill="none" stroke="#000" stroke-width="2.8"/>
<path d="M133.5 1183.6 134.5 1183.1 135.5 1182.5 136.5 1181.9 137.5 1181.3 138.5 1180.7 139.5 1179.9 140.5 1179.2 141.5 1178.4 142.5 1177.6 143.5 1176.7 144.5 1175.8 145.5 1174.9 146.5 1173.9 147.5 1172.8 148.5 1171.7 149.5 1170.6 150.5 1169.4 151.5 1168.1 152.5 1166.8 153.5 1165.5 154.5 1164.1 155.5 1162.7 156.5 1161.2 157.5 1159.7 158.5 1158.1 159.5 1156.5 160.5 1154.8 161.5 1153.1 162.5 1151.4 163.5 1149.6 164.5 1147.8 165.5 1145.9 166.5 1144.1 167.5 1142.2 168.5 1140.3 169.5 1138.3 170.5 1136.4 171.5 1134.4 172.5 1132.4 173.5 1130.4 174.5 1128.4 175.5 1126.4 176.5 1124.5 177.5 1122.5 178.5 1120.6 179.5 1118.7 180.5 1116.8 181.5 1114.9 182.5 1113.1 183.5 1111.3 184.5 1109.6 185.5 1107.9 186.5 1106.3 187.5 1104.7 188.5 1103.2 189.5 1101.8 190.5 1100.4 191.5 1099.2 192.5 1098.0 193.5 1096.9 194.5 1095.9 195.5 1095.0 196.5 1094.1 197.5 1093.4 198.5 1092.8 199.5 1092.3 200.5 1091.9 201.5 1091.6 202.5 1091.4 203.5 1091.3 204.5 1091.3 205.5 1091.5 206.5 1091.7 207.5 1092.0 208.5 1092.5 209.5 1093.0 210.5 1093.7 211.5 1094.5 212.5 1095.3 213.5 1096.3 214.5 1097.3 215.5 1098.5 216.5 1099.7 217.5 1101.0 218.5 1102.3 219.5 1103.8 220.5 1105.3 221.5 1106.9 222.5 1108.6 223.5 1110.3 224.5 1112.0 225.5 1113.8 226.5 1115.6 227.5 1117.5 228.5 1119.4 229.5 1121.3 230.5 1123.3 231.5 1125.3 232.5 1127.2 233.5 1129.2 234.5 1131.2 235.5 1133.2 236.5 1135.2 237.5 1137.1 238.5 1139.1 239.5 1141.0 240.5 1142.9 241.5 1144.8 242.5 1146.7 243.5 1148.5 244.5 1150.3 245.5 1152.1 246.5 1153.8 247.5 1155.5 248.5 1157.1 249.5 1158.7 250.5 1160.3 251.5 1161.8 252.5 1163.3 253.5 1164.7 254.5 1166.0 255.5 1167.4 256.5 1168.6 257.5 1169.8 258.5 1171.0 259.5 1172.1 260.5 1173.2 261.5 1174.3 262.5 1175.2 263.5 1176.2 264.5 1177.1 265.5 1177.9 266.5 1178.7 267.5 1179.5 268.5 1180.2 269.5 1180.9 270.5 1181.6 271.5 1182.2 272.5 1182.8 273.5 1183.3 274.5 1183.8 275.5 1184.3 276.5 1184.7 277.5 1185.2 278.5 1185.6 279.5 1185.9 280.5 1186.3 281.5 1186.6 282.5 1186.9 283.5 1187.2 284.5 1187.4 285.5 1187.7 286.5 1187.9 287.5 1188.1 288.5 1188.3 289.5 1188.4 290.5 1188.6 291.5 1188.7 292.5 1188.9 293.5 1189.0 294.5 1189.1 295.5 1189.2 296.5 1189.3 297.5 1189.4 298.5 1189.5 299.5 1189.5 300.5 1189.6 301.5 1189.7 302.5 1189.7 303.5 1189.8 304.5 1189.8 305.5 1189.9 306.5 1189.9 307.5 1189.9 308.5 1190.0 309.5 1190.0 310.5 1190.0 311.5 1190.0 312.5 1190.0 313.5 1190.1 314.5 1190.1 315.5 1190.1 316.5 1190.1 317.5 1190.1 318.5 1190.1 319.5 1190.1 320.5 1190.1 321.5 1190.2 322.5 1190.2 323.5 1190.2 324.5 1190.2 325.5 1190.2 326.5 1190.2 327.5 1190.2 328.5 1190.2 329.5 1190.2 330.5 1190.2 331.5 1190.2 332.5 1190.2 333.5 1190.2 334.5 1190.2 335.5 1190.2 336.5 1190.2 337.5 1190.2 338.5 1190.2 339.5 1190.2 340.5 1190.2 341.5 1190.2 342.5 1190.2 343.5 1190.2 344.5 1190.2 345.5 1190.2 346.5 1190.2 347.5 1190.2 348.5 1190.2 349.5 1190.2 350.5 1190.2 351.5 1190.2 352.5 1190.2 353.5 1190.2 354.5 1190.2 355.5 1190.2 356.5 1190.2 357.5 1190.2 358.5 1190.2 359.5 1190.2 360.5 1190.2 361.5 1190.2 362.5 1190.2 363.5 1190.2 364.5 1190.2 365.5 1190.2 366.5 1190.2 367.5 1190.2 368.5 1190.2 369.5 1190.2 370.5 1190.2 371.5 1190.2 372.5 1190.2 373.5 1190.2 374.5 1190.2 375.5 1190.2 376.5 1190.2 377.5 1190.2 378.5 1190.2 379.5 1190.2 380.5 1190.2 381.5 1190.2 382.5 1190.2 383.5 1190.2 384.5 1190.2 385.5 1190.2 386.5 1190.2 387.5 1190.2 388.5 1190.2 389.5 1190.2 390.5 1190.2 391.5 1190.2 392.5 1190.2 393.5 1190.2 394.5 1190.2 395.5 1190.2 396.5 1190.2 397.5 1190.2 398.5 1190.2 399.5 1190.2 400.5 1190.2 401.5 1190.2 402.5 1190.2 403.5 1190.2 404.5 1190.2 405.5 1190.2 406.5 1190.2 407.5 1190.2 408.5 1190.2 409.5 1190.2 410.5 1190.2 411.5 1190.2 412.5 1190.2 413.5 1190.2 414.5 1190.2 415.5 1190.2 416.5 1190.2 417.5 1190.2 418.5 1190.2 419.5 1190.2 420.5 1190.2 421.5 1190.2 422.5 1190.2 423.5 1190.2 424.5 1190.2 425.5 1190.2 426.5 1190.2 427.5 1190.2 428.5 1190.2 429.5 1190.2 430.5 1190.2 431.5 1190.2 432.2 1190.2" fill="none" stroke="#00ff00" stroke-width="2.6" stroke-dasharray="16 6"/>
<path d="M133.5 1190.2 134.5 1190.2 135.5 1190.2 136.5 1190.2 137.5 1190.2 138.5 1190.2 139.5 1190.2 140.5 1190.2 141.5 1190.2 142.5 1190.2 143.5 1190.2 144.5 1190.2 145.5 1190.2 146.5 1190.2 147.5 1190.2 148.5 1190.2 149.5 1190.2 150.5 1190.2 151.5 1190.2 152.5 1190.2 153.5 1190.2 154.5 1190.2 155.5 1190.2 156.5 1190.2 157.5 1190.2 158.5 1190.2 159.5 1190.2 160.5 1190.2 161.5 1190.2 162.5 1190.2 163.5 1190.2 164.5 1190.2 165.5 1190.2 166.5 1190.2 167.5 1190.2 168.5 1190.2 169.5 1190.2 170.5 1190.2 171.5 1190.2 172.5 1190.2 173.5 1190.2 174.5 1190.2 175.5 1190.2 176.5 1190.2 177.5 1190.2 178.5 1190.2 179.5 1190.2 180.5 1190.2 181.5 1190.2 182.5 1190.2 183.5 1190.2 184.5 1190.2 185.5 1190.2 186.5 1190.2 187.5 1190.2 188.5 1190.2 189.5 1190.2 190.5 1190.2 191.5 1190.2 192.5 1190.2 193.5 1190.2 194.5 1190.2 195.5 1190.2 196.5 1190.2 197.5 1190.2 198.5 1190.2 199.5 1190.2 200.5 1190.2 201.5 1190.2 202.5 1190.2 203.5 1190.2 204.5 1190.2 205.5 1190.1 206.5 1190.1 207.5 1190.1 208.5 1190.1 209.5 1190.1 210.5 1190.1 211.5 1190.1 212.5 1190.1 213.5 1190.1 214.5 1190.0 215.5 1190.0 216.5 1190.0 217.5 1190.0 218.5 1190.0 219.5 1189.9 220.5 1189.9 221.5 1189.9 222.5 1189.8 223.5 1189.8 224.5 1189.8 225.5 1189.7 226.5 1189.7 227.5 1189.6 228.5 1189.6 229.5 1189.5 230.5 1189.4 231.5 1189.3 232.5 1189.3 233.5 1189.2 234.5 1189.1 235.5 1189.0 236.5 1188.8 237.5 1188.7 238.5 1188.6 239.5 1188.4 240.5 1188.3 241.5 1188.1 242.5 1187.9 243.5 1187.7 244.5 1187.5 245.5 1187.3 246.5 1187.1 247.5 1186.8 248.5 1186.5 249.5 1186.2 250.5 1185.9 251.5 1185.6 252.5 1185.2 253.5 1184.9 254.5 1184.5 255.5 1184.1 256.5 1183.6 257.5 1183.1 258.5 1182.6 259.5 1182.1 260.5 1181.6 261.5 1181.0 262.5 1180.4 263.5 1179.8 264.5 1179.1 265.5 1178.4 266.5 1177.7 267.5 1176.9 268.5 1176.1 269.5 1175.3 270.5 1174.5 271.5 1173.6 272.5 1172.7 273.5 1171.7 274.5 1170.7 275.5 1169.7 276.5 1168.7 277.5 1167.6 278.5 1166.5 279.5 1165.3 280.5 1164.2 281.5 1163.0 282.5 1161.8 283.5 1160.5 284.5 1159.3 285.5 1158.0 286.5 1156.7 287.5 1155.3 288.5 1154.0 289.5 1152.6 290.5 1151.3 291.5 1149.9 292.5 1148.5 293.5 1147.1 294.5 1145.7 295.5 1144.3 296.5 1142.9 297.5 1141.5 298.5 1140.2 299.5 1138.8 300.5 1137.5 301.5 1136.1 302.5 1134.8 303.5 1133.5 304.5 1132.3 305.5 1131.1 306.5 1129.9 307.5 1128.7 308.5 1127.6 309.5 1126.5 310.5 1125.5 311.5 1124.5 312.5 1123.6 313.5 1122.8 314.5 1121.9 315.5 1121.2 316.5 1120.5 317.5 1119.9 318.5 1119.3 319.5 1118.8 320.5 1118.4 321.5 1118.0 322.5 1117.7 323.5 1117.5 324.5 1117.4 325.5 1117.3 326.5 1117.3 327.5 1117.4 328.5 1117.5 329.5 1117.7 330.5 1118.0 331.5 1118.4 332.5 1118.8 333.5 1119.3 334.5 1119.9 335.5 1120.5 336.5 1121.2 337.5 1121.9 338.5 1122.8 339.5 1123.6 340.5 1124.5 341.5 1125.5 342.5 1126.5 343.5 1127.6 344.5 1128.7 345.5 1129.9 346.5 1131.1 347.5 1132.3 348.5 1133.5 349.5 1134.8 350.5 1136.1 351.5 1137.5 352.5 1138.8 353.5 1140.2 354.5 1141.5 355.5 1142.9 356.5 1144.3 357.5 1145.7 358.5 1147.1 359.5 1148.5 360.5 1149.9 361.5 1151.3 362.5 1152.6 363.5 1154.0 364.5 1155.3 365.5 1156.7 366.5 1158.0 367.5 1159.3 368.5 1160.5 369.5 1161.8 370.5 1163.0 371.5 1164.2 372.5 1165.3 373.5 1166.5 374.5 1167.6 375.5 1168.7 376.5 1169.7 377.5 1170.7 378.5 1171.7 379.5 1172.7 380.5 1173.6 381.5 1174.5 382.5 1175.3 383.5 1176.1 384.5 1176.9 385.5 1177.7 386.5 1178.4 387.5 1179.1 388.5 1179.8 389.5 1180.4 390.5 1181.0 391.5 1181.6 392.5 1182.1 393.5 1182.6 394.5 1183.1 395.5 1183.6 396.5 1184.1 397.5 1184.5 398.5 1184.9 399.5 1185.2 400.5 1185.6 401.5 1185.9 402.5 1186.2 403.5 1186.5 404.5 1186.8 405.5 1187.1 406.5 1187.3 407.5 1187.5 408.5 1187.7 409.5 1187.9 410.5 1188.1 411.5 1188.3 412.5 1188.4 413.5 1188.6 414.5 1188.7 415.5 1188.8 416.5 1189.0 417.5 1189.1 418.5 1189.2 419.5 1189.3 420.5 1189.3 421.5 1189.4 422.5 1189.5 423.5 1189.6 424.5 1189.6 425.5 1189.7 426.5 1189.7 427.5 1189.8 428.5 1189.8 429.5 1189.8 430.5 1189.9 431.5 1189.9 432.2 1189.9" fill="none" stroke="#0000ff" stroke-width="2.6" stroke-dasharray="26 9"/>
<path d="M133.5 1190.1 134.5 1190.1 135.5 1190.1 136.5 1190.1 137.5 1190.1 138.5 1190.1 139.5 1190.1 140.5 1190.1 141.5 1190.1 142.5 1190.0 143.5 1190.0 144.5 1190.0 145.5 1190.0 146.5 1189.9 147.5 1189.9 148.5 1189.9 149.5 1189.8 150.5 1189.8 151.5 1189.7 152.5 1189.7 153.5 1189.6 154.5 1189.5 155.5 1189.5 156.5 1189.4 157.5 1189.3 158.5 1189.2 159.5 1189.1 160.5 1189.0 161.5 1188.8 162.5 1188.7 163.5 1188.5 164.5 1188.3 165.5 1188.2 166.5 1187.9 167.5 1187.7 168.5 1187.5 169.5 1187.2 170.5 1186.9 171.5 1186.6 172.5 1186.3 173.5 1185.9 174.5 1185.5 175.5 1185.1 176.5 1184.6 177.5 1184.1 178.5 1183.5 179.5 1183.0 180.5 1182.3 181.5 1181.7 182.5 1180.9 183.5 1180.2 184.5 1179.4 185.5 1178.5 186.5 1177.5 187.5 1176.5 188.5 1175.5 189.5 1174.4 190.5 1173.2 191.5 1171.9 192.5 1170.5 193.5 1169.1 194.5 1167.6 195.5 1166.0 196.5 1164.3 197.5 1162.6 198.5 1160.7 199.5 1158.8 200.5 1156.7 201.5 1154.6 202.5 1152.3 203.5 1150.0 204.5 1147.5 205.5 1145.0 206.5 1142.3 207.5 1139.5 208.5 1136.7 209.5 1133.7 210.5 1130.6 211.5 1127.4 212.5 1124.1 213.5 1120.7 214.5 1117.2 215.5 1113.5 216.5 1109.8 217.5 1106.0 218.5 1102.1 219.5 1098.1 220.5 1094.0 221.5 1089.9 222.5 1085.6 223.5 1081.3 224.5 1076.9 225.5 1072.5 226.5 1068.0 227.5 1063.5 228.5 1058.9 229.5 1054.3 230.5 1049.6 231.5 1045.0 232.5 1040.3 233.5 1035.7 234.5 1031.0 235.5 1026.4 236.5 1021.8 237.5 1017.3 238.5 1012.8 239.5 1008.4 240.5 1004.0 241.5 999.8 242.5 995.6 243.5 991.5 244.5 987.6 245.5 983.7 246.5 980.0 247.5 976.5 248.5 973.1 249.5 969.9 250.5 966.8 251.5 963.9 252.5 961.2 253.5 958.7 254.5 956.4 255.5 954.4 256.5 952.5 257.5 950.8 258.5 949.4 259.5 948.2 260.5 947.3 261.5 946.6 262.5 946.1 263.5 945.8 264.5 945.8 265.5 946.1 266.5 946.6 267.5 947.3 268.5 948.2 269.5 949.4 270.5 950.8 271.5 952.5 272.5 954.4 273.5 956.4 274.5 958.7 275.5 961.2 276.5 963.9 277.5 966.8 278.5 969.9 279.5 973.1 280.5 976.5 281.5 980.0 282.5 983.7 283.5 987.6 284.5 991.5 285.5 995.6 286.5 999.8 287.5 1004.0 288.5 1008.4 289.5 1012.8 290.5 1017.3 291.5 1021.8 292.5 1026.4 293.5 1031.0 294.5 1035.7 295.5 1040.3 296.5 1045.0 297.5 1049.6 298.5 1054.3 299.5 1058.9 300.5 1063.5 301.5 1068.0 302.5 1072.5 303.5 1076.9 304.5 1081.3 305.5 1085.6 306.5 1089.9 307.5 1094.0 308.5 1098.1 309.5 1102.1 310.5 1106.0 311.5 1109.8 312.5 1113.5 313.5 1117.2 314.5 1120.7 315.5 1124.1 316.5 1127.4 317.5 1130.6 318.5 1133.7 319.5 1136.7 320.5 1139.5 321.5 1142.3 322.5 1145.0 323.5 1147.5 324.5 1150.0 325.5 1152.3 326.5 1154.6 327.5 1156.7 328.5 1158.8 329.5 1160.7 330.5 1162.6 331.5 1164.3 332.5 1166.0 333.5 1167.6 334.5 1169.1 335.5 1170.5 336.5 1171.9 337.5 1173.2 338.5 1174.4 339.5 1175.5 340.5 1176.5 341.5 1177.5 342.5 1178.5 343.5 1179.4 344.5 1180.2 345.5 1180.9 346.5 1181.7 347.5 1182.3 348.5 1183.0 349.5 1183.5 350.5 1184.1 351.5 1184.6 352.5 1185.1 353.5 1185.5 354.5 1185.9 355.5 1186.3 356.5 1186.6 357.5 1186.9 358.5 1187.2 359.5 1187.5 360.5 1187.7 361.5 1187.9 362.5 1188.2 363.5 1188.3 364.5 1188.5 365.5 1188.7 366.5 1188.8 367.5 1189.0 368.5 1189.1 369.5 1189.2 370.5 1189.3 371.5 1189.4 372.5 1189.5 373.5 1189.5 374.5 1189.6 375.5 1189.7 376.5 1189.7 377.5 1189.8 378.5 1189.8 379.5 1189.9 380.5 1189.9 381.5 1189.9 382.5 1190.0 383.5 1190.0 384.5 1190.0 385.5 1190.0 386.5 1190.1 387.5 1190.1 388.5 1190.1 389.5 1190.1 390.5 1190.1 391.5 1190.1 392.5 1190.1 393.5 1190.1 394.5 1190.1 395.5 1190.2 396.5 1190.2 397.5 1190.2 398.5 1190.2 399.5 1190.2 400.5 1190.2 401.5 1190.2 402.5 1190.2 403.5 1190.2 404.5 1190.2 405.5 1190.2 406.5 1190.2 407.5 1190.2 408.5 1190.2 409.5 1190.2 410.5 1190.2 411.5 1190.2 412.5 1190.2 413.5 1190.2 414.5 1190.2 415.5 1190.2 416.5 1190.2 417.5 1190.2 418.5 1190.2 419.5 1190.2 420.5 1190.2 421.5 1190.2 422.5 1190.2 423.5 1190.2 424.5 1190.2 425.5 1190.2 426.5 1190.2 427.5 1190.2 428.5 1190.2 429.5 1190.2 430.5 1190.2 431.5 1190.2 432.2 1190.2" fill="none" stroke="#ffff00" stroke-width="2.6" stroke-dasharray="17 5 1.8 4.5 1.8 4.5"/>
<path d="M133.5 1190.2 134.5 1190.2 135.5 1190.2 136.5 1190.2 137.5 1190.2 138.5 1190.2 139.5 1190.2 140.5 1190.2 141.5 1190.2 142.5 1190.2 143.5 1190.2 144.5 1190.2 145.5 1190.2 146.5 1190.2 147.5 1190.2 148.5 1190.2 149.5 1190.2 150.5 1190.2 151.5 1190.2 152.5 1190.2 153.5 1190.2 154.5 1190.2 155.5 1190.2 156.5 1190.2 157.5 1190.2 158.5 1190.2 159.5 1190.2 160.5 1190.2 161.5 1190.2 162.5 1190.2 163.5 1190.2 164.5 1190.2 165.5 1190.2 166.5 1190.2 167.5 1190.2 168.5 1190.2 169.5 1190.2 170.5 1190.2 171.5 1190.2 172.5 1190.2 173.5 1190.2 174.5 1190.2 175.5 1190.2 176.5 1190.2 177.5 1190.2 178.5 1190.2 179.5 1190.2 180.5 1190.2 181.5 1190.2 182.5 1190.2 183.5 1190.2 184.5 1190.2 185.5 1190.2 186.5 1190.2 187.5 1190.2 188.5 1190.2 189.5 1190.2 190.5 1190.2 191.5 1190.2 192.5 1190.2 193.5 1190.2 194.5 1190.2 195.5 1190.2 196.5 1190.2 197.5 1190.2 198.5 1190.2 199.5 1190.2 200.5 1190.2 201.5 1190.2 202.5 1190.2 203.5 1190.2 204.5 1190.2 205.5 1190.2 206.5 1190.2 207.5 1190.2 208.5 1190.2 209.5 1190.2 210.5 1190.2 211.5 1190.2 212.5 1190.2 213.5 1190.2 214.5 1190.2 215.5 1190.2 216.5 1190.2 217.5 1190.2 218.5 1190.2 219.5 1190.2 220.5 1190.2 221.5 1190.2 222.5 1190.2 223.5 1190.2 224.5 1190.2 225.5 1190.2 226.5 1190.2 227.5 1190.2 228.5 1190.2 229.5 1190.2 230.5 1190.2 231.5 1190.2 232.5 1190.2 233.5 1190.2 234.5 1190.2 235.5 1190.2 236.5 1190.2 237.5 1190.2 238.5 1190.2 239.5 1190.2 240.5 1190.2 241.5 1190.2 242.5 1190.2 243.5 1190.2 244.5 1190.2 245.5 1190.2 246.5 1190.2 247.5 1190.2 248.5 1190.2 249.5 1190.2 250.5 1190.2 251.5 1190.2 252.5 1190.2 253.5 1190.2 254.5 1190.2 255.5 1190.2 256.5 1190.2 257.5 1190.2 258.5 1190.2 259.5 1190.2 260.5 1190.2 261.5 1190.2 262.5 1190.2 263.5 1190.2 264.5 1190.2 265.5 1190.2 266.5 1190.2 267.5 1190.2 268.5 1190.2 269.5 1190.2 270.5 1190.2 271.5 1190.2 272.5 1190.2 273.5 1190.2 274.5 1190.2 275.5 1190.2 276.5 1190.2 277.5 1190.2 278.5 1190.2 279.5 1190.2 280.5 1190.2 281.5 1190.2 282.5 1190.2 283.5 1190.2 284.5 1190.2 285.5 1190.2 286.5 1190.2 287.5 1190.2 288.5 1190.2 289.5 1190.2 290.5 1190.2 291.5 1190.2 292.5 1190.2 293.5 1190.2 294.5 1190.2 295.5 1190.2 296.5 1190.2 297.5 1190.2 298.5 1190.2 299.5 1190.2 300.5 1190.2 301.5 1190.2 302.5 1190.2 303.5 1190.2 304.5 1190.2 305.5 1190.2 306.5 1190.2 307.5 1190.2 308.5 1190.2 309.5 1190.2 310.5 1190.2 311.5 1190.2 312.5 1190.2 313.5 1190.2 314.5 1190.2 315.5 1190.2 316.5 1190.2 317.5 1190.2 318.5 1190.2 319.5 1190.2 320.5 1190.2 321.5 1190.2 322.5 1190.2 323.5 1190.2 324.5 1190.2 325.5 1190.2 326.5 1190.2 327.5 1190.2 328.5 1190.2 329.5 1190.2 330.5 1190.2 331.5 1190.2 332.5 1190.2 333.5 1190.2 334.5 1190.2 335.5 1190.2 336.5 1190.2 337.5 1190.2 338.5 1190.2 339.5 1190.2 340.5 1190.2 341.5 1190.2 342.5 1190.2 343.5 1190.2 344.5 1190.2 345.5 1190.2 346.5 1190.2 347.5 1190.1 348.5 1190.1 349.5 1190.1 350.5 1190.1 351.5 1190.1 352.5 1190.0 353.5 1190.0 354.5 1189.9 355.5 1189.9 356.5 1189.8 357.5 1189.7 358.5 1189.6 359.5 1189.5 360.5 1189.4 361.5 1189.2 362.5 1189.0 363.5 1188.8 364.5 1188.5 365.5 1188.2 366.5 1187.9 367.5 1187.5 368.5 1187.1 369.5 1186.7 370.5 1186.1 371.5 1185.5 372.5 1184.9 373.5 1184.2 374.5 1183.4 375.5 1182.5 376.5 1181.6 377.5 1180.6 378.5 1179.6 379.5 1178.4 380.5 1177.2 381.5 1176.0 382.5 1174.6 383.5 1173.2 384.5 1171.8 385.5 1170.4 386.5 1168.9 387.5 1167.3 388.5 1165.8 389.5 1164.3 390.5 1162.8 391.5 1161.3 392.5 1159.9 393.5 1158.5 394.5 1157.3 395.5 1156.1 396.5 1155.0 397.5 1154.0 398.5 1153.1 399.5 1152.4 400.5 1151.8 401.5 1151.4 402.5 1151.1 403.5 1151.0 404.5 1151.1 405.5 1151.3 406.5 1151.6 407.5 1152.1 408.5 1152.8 409.5 1153.6 410.5 1154.6 411.5 1155.6 412.5 1156.8 413.5 1158.0 414.5 1159.4 415.5 1160.8 416.5 1162.2 417.5 1163.7 418.5 1165.2 419.5 1166.7 420.5 1168.2 421.5 1169.8 422.5 1171.2 423.5 1172.7 424.5 1174.1 425.5 1175.4 426.5 1176.7 427.5 1178.0 428.5 1179.1 429.5 1180.2 430.5 1181.2 431.5 1182.2 432.2 1182.8" fill="none" stroke="#ff00ff" stroke-width="2.6" stroke-dasharray="17 4.5 2 4.5"/>
<path d="M133.5 1185.9 134.5 1185.7 135.5 1185.3 136.5 1184.9 137.5 1184.3 138.5 1183.7 139.5 1183.0 140.5 1182.2 141.5 1181.3 142.5 1180.3 143.5 1179.3 144.5 1178.2 145.5 1177.0 146.5 1175.8 147.5 1174.5 148.5 1173.1 149.5 1171.7 150.5 1170.3 151.5 1168.8 152.5 1167.3 153.5 1165.8 154.5 1164.2 155.5 1162.6 156.5 1161.0 157.5 1159.4 158.5 1157.8 159.5 1156.1 160.5 1154.5 161.5 1152.8 162.5 1151.1 163.5 1149.4 164.5 1147.7 165.5 1146.0 166.5 1144.2 167.5 1142.4 168.5 1140.5 169.5 1138.7 170.5 1136.7 171.5 1134.8 172.5 1132.8 173.5 1130.7 174.5 1128.6 175.5 1126.4 176.5 1124.2 177.5 1121.9 178.5 1119.6 179.5 1117.2 180.5 1114.7 181.5 1112.1 182.5 1109.5 183.5 1106.9 184.5 1104.2 185.5 1101.4 186.5 1098.6 187.5 1095.8 188.5 1093.0 189.5 1090.2 190.5 1087.3 191.5 1084.5 192.5 1081.7 193.5 1078.9 194.5 1076.1 195.5 1073.3 196.5 1070.6 197.5 1067.9 198.5 1065.2 199.5 1062.7 200.5 1060.1 201.5 1057.7 202.5 1055.3 203.5 1053.0 204.5 1050.7 205.5 1048.5 206.5 1046.4 207.5 1044.2 208.5 1042.1 209.5 1040.0 210.5 1037.8 211.5 1035.7 212.5 1033.5 213.5 1031.3 214.5 1029.1 215.5 1026.8 216.5 1024.5 217.5 1022.2 218.5 1019.8 219.5 1017.4 220.5 1015.0 221.5 1012.6 222.5 1010.1 223.5 1007.6 224.5 1005.1 225.5 1002.6 226.5 1000.0 227.5 997.4 228.5 994.8 229.5 992.2 230.5 989.6 231.5 986.9 232.5 984.3 233.5 981.6 234.5 978.9 235.5 976.2 236.5 973.5 237.5 970.8 238.5 968.1 239.5 965.4 240.5 962.8 241.5 960.2 242.5 957.6 243.5 955.0 244.5 952.5 245.5 950.1 246.5 947.7 247.5 945.3 248.5 943.1 249.5 940.9 250.5 938.8 251.5 936.8 252.5 934.9 253.5 933.1 254.5 931.4 255.5 929.8 256.5 928.4 257.5 927.0 258.5 925.8 259.5 924.8 260.5 924.0 261.5 923.3 262.5 922.8 263.5 922.6 264.5 922.5 265.5 922.7 266.5 923.1 267.5 923.8 268.5 924.6 269.5 925.7 270.5 927.0 271.5 928.5 272.5 930.2 273.5 932.1 274.5 934.2 275.5 936.5 276.5 939.0 277.5 941.6 278.5 944.4 279.5 947.3 280.5 950.4 281.5 953.5 282.5 956.8 283.5 960.1 284.5 963.5 285.5 967.0 286.5 970.5 287.5 974.0 288.5 977.5 289.5 981.0 290.5 984.5 291.5 987.9 292.5 991.2 293.5 994.5 294.5 997.6 295.5 1000.7 296.5 1003.8 297.5 1006.8 298.5 1009.7 299.5 1012.6 300.5 1015.5 301.5 1018.3 302.5 1021.1 303.5 1023.9 304.5 1026.7 305.5 1029.5 306.5 1032.2 307.5 1035.0 308.5 1037.8 309.5 1040.5 310.5 1043.2 311.5 1045.9 312.5 1048.6 313.5 1051.3 314.5 1054.0 315.5 1056.6 316.5 1059.2 317.5 1061.8 318.5 1064.4 319.5 1066.9 320.5 1069.4 321.5 1071.9 322.5 1074.3 323.5 1076.7 324.5 1079.1 325.5 1081.4 326.5 1083.7 327.5 1086.0 328.5 1088.2 329.5 1090.4 330.5 1092.6 331.5 1094.7 332.5 1096.8 333.5 1098.9 334.5 1100.9 335.5 1102.9 336.5 1104.9 337.5 1106.8 338.5 1108.7 339.5 1110.5 340.5 1112.4 341.5 1114.2 342.5 1116.0 343.5 1117.7 344.5 1119.4 345.5 1121.1 346.5 1122.7 347.5 1124.4 348.5 1126.0 349.5 1127.5 350.5 1129.1 351.5 1130.6 352.5 1132.1 353.5 1133.6 354.5 1135.0 355.5 1136.4 356.5 1137.8 357.5 1139.2 358.5 1140.5 359.5 1141.8 360.5 1143.1 361.5 1144.4 362.5 1145.6 363.5 1146.8 364.5 1147.9 365.5 1149.0 366.5 1150.0 367.5 1151.0 368.5 1151.9 369.5 1152.8 370.5 1153.6 371.5 1154.3 372.5 1155.0 373.5 1155.6 374.5 1156.1 375.5 1156.5 376.5 1156.9 377.5 1157.1 378.5 1157.3 379.5 1157.3 380.5 1157.3 381.5 1157.2 382.5 1157.0 383.5 1156.6 384.5 1156.2 385.5 1155.7 386.5 1155.2 387.5 1154.6 388.5 1153.9 389.5 1153.2 390.5 1152.5 391.5 1151.8 392.5 1151.1 393.5 1150.3 394.5 1149.6 395.5 1149.0 396.5 1148.3 397.5 1147.8 398.5 1147.2 399.5 1146.8 400.5 1146.4 401.5 1146.2 402.5 1146.0 403.5 1145.9 404.5 1146.0 405.5 1146.2 406.5 1146.5 407.5 1147.0 408.5 1147.6 409.5 1148.4 410.5 1149.3 411.5 1150.4 412.5 1151.7 413.5 1153.1 414.5 1154.6 415.5 1156.2 416.5 1158.0 417.5 1159.8 418.5 1161.7 419.5 1163.7 420.5 1165.6 421.5 1167.6 422.5 1169.6 423.5 1171.6 424.5 1173.6 425.5 1175.5 426.5 1177.3 427.5 1179.0 428.5 1180.7 429.5 1182.2 430.5 1183.5 431.5 1184.7 432.2 1185.4" fill="none" stroke="#ff0000" stroke-width="2.6" stroke-dasharray="2.4 3.2"/>
<line x1="123.0" y1="890.5" x2="132.5" y2="890.5" stroke="#151515" stroke-width="2.2"/>
<line x1="123.0" y1="950.4" x2="132.5" y2="950.4" stroke="#151515" stroke-width="2.2"/>
<line x1="123.0" y1="1010.4" x2="132.5" y2="1010.4" stroke="#151515" stroke-width="2.2"/>
<line x1="123.0" y1="1070.3" x2="132.5" y2="1070.3" stroke="#151515" stroke-width="2.2"/>
<line x1="123.0" y1="1130.3" x2="132.5" y2="1130.3" stroke="#151515" stroke-width="2.2"/>
<line x1="123.0" y1="1190.2" x2="132.5" y2="1190.2" stroke="#151515" stroke-width="2.2"/>
<line x1="133.5" y1="1190.2" x2="133.5" y2="1197.2" stroke="#151515" stroke-width="2.2"/>
<line x1="193.2" y1="1190.2" x2="193.2" y2="1197.2" stroke="#151515" stroke-width="2.2"/>
<line x1="253.0" y1="1190.2" x2="253.0" y2="1197.2" stroke="#151515" stroke-width="2.2"/>
<line x1="312.7" y1="1190.2" x2="312.7" y2="1197.2" stroke="#151515" stroke-width="2.2"/>
<line x1="372.5" y1="1190.2" x2="372.5" y2="1197.2" stroke="#151515" stroke-width="2.2"/>
<line x1="432.2" y1="1190.2" x2="432.2" y2="1197.2" stroke="#151515" stroke-width="2.2"/>
<text x="108.75" y="1227.60" font-size="25.56" textLength="46.42" lengthAdjust="spacingAndGlyphs" >1700</text>
<text x="170.48" y="1227.60" font-size="25.56" textLength="44.43" lengthAdjust="spacingAndGlyphs" >1680</text>
<text x="230.22" y="1227.60" font-size="25.56" textLength="44.43" lengthAdjust="spacingAndGlyphs" >1660</text>
<text x="289.96" y="1227.60" font-size="25.56" textLength="44.43" lengthAdjust="spacingAndGlyphs" >1640</text>
<text x="349.70" y="1227.60" font-size="25.56" textLength="44.43" lengthAdjust="spacingAndGlyphs" >1620</text>
<text x="409.44" y="1227.60" font-size="25.56" textLength="44.43" lengthAdjust="spacingAndGlyphs" >1600</text>
<text x="311.94" y="907.50" font-size="23.18" textLength="117.46" lengthAdjust="spacingAndGlyphs" >1x Rotenone</text>
<text x="184.02" y="1276.30" font-size="26.57" textLength="21.54" lengthAdjust="spacingAndGlyphs" >W</text>
<g transform="translate(0,1276.30) scale(1,0.950) translate(0,-1276.30)"><text x="204.87" y="1276.30" font-size="26.57" textLength="84.93" lengthAdjust="spacingAndGlyphs" >avenumb</text></g>
<g transform="translate(0,1276.30) scale(1,0.950) translate(0,-1276.30)"><text x="293.62" y="1276.30" font-size="26.57" textLength="19.96" lengthAdjust="spacingAndGlyphs" >er</text></g>
<text x="318.47" y="1275.66" font-size="23.90" textLength="10.46" lengthAdjust="spacingAndGlyphs" style="font-weight:normal">(</text>
<g transform="translate(0,1276.30) scale(1,0.950) translate(0,-1276.30)"><text x="326.37" y="1276.30" font-size="26.57" textLength="30.94" lengthAdjust="spacingAndGlyphs" >cm</text></g>
<rect x="354.90" y="1264.39" width="4.60" height="2.22" fill="#000"/>
<text x="361.58" y="1270.60" font-size="26.51" textLength="11.29" lengthAdjust="spacingAndGlyphs" >1</text>
<text x="372.23" y="1275.66" font-size="23.90" textLength="9.82" lengthAdjust="spacingAndGlyphs" style="font-weight:normal">)</text>
<text transform="translate(96.50,1121.06) rotate(-90)" font-size="26.66" textLength="165.13" lengthAdjust="spacingAndGlyphs" xml:space="preserve" >Abs. Signal <tspan font-weight="normal">(</tspan>a.u.<tspan font-weight="normal">)</tspan></text>
<rect x="632.7" y="890.5" width="298.9" height="299.5" fill="none" stroke="#4a4a4a" stroke-width="2.8"/>
<path d="M632.7 1101.5 633.7 1101.3 634.7 1101.1 635.7 1100.8 636.7 1100.6 637.7 1100.4 638.7 1100.1 639.7 1099.9 640.7 1099.6 641.7 1099.3 642.7 1098.9 643.7 1098.6 644.7 1098.2 645.7 1097.7 646.7 1097.2 647.7 1096.7 648.7 1096.1 649.7 1095.5 650.7 1094.8 651.7 1094.1 652.7 1093.3 653.7 1092.4 654.7 1091.5 655.7 1090.5 656.7 1089.4 657.7 1088.2 658.7 1086.9 659.7 1085.6 660.7 1084.1 661.7 1082.6 662.7 1081.0 663.7 1079.2 664.7 1077.4 665.7 1075.5 666.7 1073.4 667.7 1071.3 668.7 1069.1 669.7 1066.7 670.7 1064.3 671.7 1061.7 672.7 1059.0 673.7 1056.2 674.7 1053.3 675.7 1050.2 676.7 1047.1 677.7 1043.8 678.7 1040.4 679.7 1036.8 680.7 1033.1 681.7 1029.3 682.7 1025.4 683.7 1021.3 684.7 1017.1 685.7 1012.8 686.7 1008.4 687.7 1003.9 688.7 999.3 689.7 994.7 690.7 990.1 691.7 985.5 692.7 980.9 693.7 976.4 694.7 971.9 695.7 967.4 696.7 963.1 697.7 958.9 698.7 954.8 699.7 950.8 700.7 947.1 701.7 943.5 702.7 940.1 703.7 936.9 704.7 934.0 705.7 931.4 706.7 929.0 707.7 926.9 708.7 925.2 709.7 923.8 710.7 922.6 711.7 921.8 712.7 921.2 713.7 920.9 714.7 920.8 715.7 920.9 716.7 921.2 717.7 921.6 718.7 922.3 719.7 923.1 720.7 924.0 721.7 925.0 722.7 926.1 723.7 927.3 724.7 928.6 725.7 929.9 726.7 931.2 727.7 932.7 728.7 934.2 729.7 935.7 730.7 937.4 731.7 939.2 732.7 941.1 733.7 943.1 734.7 945.2 735.7 947.4 736.7 949.6 737.7 951.8 738.7 953.9 739.7 955.9 740.7 957.7 741.7 959.4 742.7 960.8 743.7 962.2 744.7 963.3 745.7 964.4 746.7 965.3 747.7 966.1 748.7 966.9 749.7 967.7 750.7 968.4 751.7 969.1 752.7 969.8 753.7 970.6 754.7 971.4 755.7 972.2 756.7 973.1 757.7 974.1 758.7 975.2 759.7 976.3 760.7 977.5 761.7 978.8 762.7 980.2 763.7 981.7 764.7 983.3 765.7 984.9 766.7 986.7 767.7 988.6 768.7 990.6 769.7 992.7 770.7 995.0 771.7 997.3 772.7 999.8 773.7 1002.5 774.7 1005.3 775.7 1008.2 776.7 1011.2 777.7 1014.2 778.7 1017.2 779.7 1020.2 780.7 1023.1 781.7 1025.9 782.7 1028.6 783.7 1031.1 784.7 1033.5 785.7 1035.9 786.7 1038.2 787.7 1040.6 788.7 1043.0 789.7 1045.6 790.7 1048.3 791.7 1051.2 792.7 1054.2 793.7 1057.4 794.7 1060.7 795.7 1064.0 796.7 1067.4 797.7 1070.7 798.7 1074.1 799.7 1077.4 800.7 1080.6 801.7 1083.7 802.7 1086.7 803.7 1089.6 804.7 1092.4 805.7 1095.0 806.7 1097.6 807.7 1100.1 808.7 1102.5 809.7 1104.8 810.7 1107.0 811.7 1109.2 812.7 1111.3 813.7 1113.3 814.7 1115.3 815.7 1117.2 816.7 1119.1 817.7 1120.9 818.7 1122.7 819.7 1124.5 820.7 1126.2 821.7 1128.0 822.7 1129.7 823.7 1131.3 824.7 1133.0 825.7 1134.6 826.7 1136.2 827.7 1137.8 828.7 1139.3 829.7 1140.8 830.7 1142.2 831.7 1143.6 832.7 1145.0 833.7 1146.3 834.7 1147.5 835.7 1148.7 836.7 1149.8 837.7 1150.9 838.7 1151.9 839.7 1152.9 840.7 1153.7 841.7 1154.5 842.7 1155.3 843.7 1155.9 844.7 1156.5 845.7 1157.0 846.7 1157.4 847.7 1157.7 848.7 1157.9 849.7 1158.0 850.7 1158.1 851.7 1158.0 852.7 1157.8 853.7 1157.5 854.7 1157.1 855.7 1156.5 856.7 1155.8 857.7 1155.0 858.7 1154.0 859.7 1152.8 860.7 1151.4 861.7 1149.9 862.7 1148.2 863.7 1146.3 864.7 1144.1 865.7 1141.8 866.7 1139.2 867.7 1136.4 868.7 1133.4 869.7 1130.1 870.7 1126.6 871.7 1122.8 872.7 1118.7 873.7 1114.4 874.7 1109.7 875.7 1104.6 876.7 1098.9 877.7 1092.8 878.7 1086.1 879.7 1079.2 880.7 1072.2 881.7 1065.4 882.7 1058.6 883.7 1051.8 884.7 1044.8 885.7 1037.4 886.7 1029.5 887.7 1021.3 888.7 1012.8 889.7 1004.1 890.7 995.3 891.7 986.6 892.7 978.0 893.7 969.6 894.7 961.5 895.7 953.8 896.7 946.5 897.7 939.7 898.7 933.6 899.7 928.1 900.7 923.3 901.7 919.4 902.7 916.4 903.7 914.3 904.7 913.0 905.7 912.5 906.7 912.7 907.7 914.0 908.7 916.4 909.7 920.3 910.7 925.8 911.7 932.7 912.7 940.5 913.7 948.9 914.7 957.5 915.7 965.9 916.7 974.4 917.7 982.7 918.7 991.0 919.7 999.2 920.7 1007.3 921.7 1015.2 922.7 1023.1 923.7 1030.7 924.7 1038.2 925.7 1045.6 926.7 1052.7 927.7 1059.8 928.7 1066.9 929.7 1074.4 930.7 1082.4 931.6 1090.3" fill="none" stroke="#000" stroke-width="2.8"/>
<path d="M632.7 1104.3 633.7 1104.2 634.7 1104.1 635.7 1104.0 636.7 1103.8 637.7 1103.6 638.7 1103.5 639.7 1103.2 640.7 1103.0 641.7 1102.8 642.7 1102.5 643.7 1102.1 644.7 1101.8 645.7 1101.4 646.7 1100.9 647.7 1100.5 648.7 1099.9 649.7 1099.3 650.7 1098.7 651.7 1098.0 652.7 1097.2 653.7 1096.4 654.7 1095.5 655.7 1094.5 656.7 1093.4 657.7 1092.3 658.7 1091.0 659.7 1089.7 660.7 1088.2 661.7 1086.6 662.7 1085.0 663.7 1083.2 664.7 1081.3 665.7 1079.2 666.7 1077.1 667.7 1074.8 668.7 1072.4 669.7 1069.8 670.7 1067.1 671.7 1064.3 672.7 1061.3 673.7 1058.2 674.7 1055.0 675.7 1051.6 676.7 1048.1 677.7 1044.5 678.7 1040.7 679.7 1036.9 680.7 1032.9 681.7 1028.8 682.7 1024.6 683.7 1020.4 684.7 1016.1 685.7 1011.7 686.7 1007.2 687.7 1002.7 688.7 998.2 689.7 993.7 690.7 989.2 691.7 984.7 692.7 980.2 693.7 975.8 694.7 971.5 695.7 967.2 696.7 963.1 697.7 959.0 698.7 955.2 699.7 951.4 700.7 947.9 701.7 944.5 702.7 941.4 703.7 938.4 704.7 935.7 705.7 933.3 706.7 931.1 707.7 929.1 708.7 927.5 709.7 926.1 710.7 925.1 711.7 924.3 712.7 923.9 713.7 923.7 714.7 923.9 715.7 924.3 716.7 925.1 717.7 926.1 718.7 927.5 719.7 929.1 720.7 931.1 721.7 933.3 722.7 935.7 723.7 938.4 724.7 941.4 725.7 944.5 726.7 947.9 727.7 951.4 728.7 955.2 729.7 959.0 730.7 963.1 731.7 967.2 732.7 971.5 733.7 975.8 734.7 980.2 735.7 984.7 736.7 989.2 737.7 993.7 738.7 998.2 739.7 1002.7 740.7 1007.2 741.7 1011.7 742.7 1016.1 743.7 1020.4 744.7 1024.6 745.7 1028.8 746.7 1032.9 747.7 1036.9 748.7 1040.7 749.7 1044.5 750.7 1048.1 751.7 1051.6 752.7 1055.0 753.7 1058.2 754.7 1061.3 755.7 1064.3 756.7 1067.1 757.7 1069.8 758.7 1072.4 759.7 1074.8 760.7 1077.1 761.7 1079.2 762.7 1081.3 763.7 1083.2 764.7 1085.0 765.7 1086.6 766.7 1088.2 767.7 1089.7 768.7 1091.0 769.7 1092.3 770.7 1093.4 771.7 1094.5 772.7 1095.5 773.7 1096.4 774.7 1097.2 775.7 1098.0 776.7 1098.7 777.7 1099.3 778.7 1099.9 779.7 1100.5 780.7 1100.9 781.7 1101.4 782.7 1101.8 783.7 1102.1 784.7 1102.5 785.7 1102.8 786.7 1103.0 787.7 1103.2 788.7 1103.5 789.7 1103.6 790.7 1103.8 791.7 1104.0 792.7 1104.1 793.7 1104.2 794.7 1104.3 795.7 1104.4 796.7 1104.5 797.7 1104.5 798.7 1104.6 799.7 1104.7 800.7 1104.7 801.7 1104.7 802.7 1104.8 803.7 1104.8 804.7 1104.8 805.7 1104.9 806.7 1104.9 807.7 1104.9 808.7 1104.9 809.7 1104.9 810.7 1104.9 811.7 1104.9 812.7 1105.0 813.7 1105.0 814.7 1105.0 815.7 1105.0 816.7 1105.0 817.7 1105.0 818.7 1105.0 819.7 1105.0 820.7 1105.0 821.7 1105.0 822.7 1105.0 823.7 1105.0 824.7 1105.0 825.7 1105.0 826.7 1105.0 827.7 1105.0 828.7 1105.0 829.7 1105.0 830.7 1105.0 831.7 1105.0 832.7 1105.0 833.7 1105.0 834.7 1105.0 835.7 1105.0 836.7 1105.0 837.7 1105.0 838.7 1105.0 839.7 1105.0 840.7 1105.0 841.7 1105.0 842.7 1105.0 843.7 1105.0 844.7 1105.0 845.7 1105.0 846.7 1105.0 847.7 1105.0 848.7 1105.0 849.7 1105.0 850.7 1105.0 851.7 1105.0 852.7 1105.0 853.7 1105.0 854.7 1105.0 855.7 1105.0 856.7 1105.0 857.7 1105.0 858.7 1105.0 859.7 1105.0 860.7 1105.0 861.7 1105.0 862.7 1105.0 863.7 1105.0 864.7 1105.0 865.7 1105.0 866.7 1105.0 867.7 1105.0 868.7 1105.0 869.7 1105.0 870.7 1105.0 871.7 1105.0 872.7 1105.0 873.7 1105.0 874.7 1105.0 875.7 1105.0 876.7 1105.0 877.7 1105.0 878.7 1105.0 879.7 1105.0 880.7 1105.0 881.7 1105.0 882.7 1105.0 883.7 1105.0 884.7 1105.0 885.7 1105.0 886.7 1105.0 887.7 1105.0 888.7 1105.0 889.7 1105.0 890.7 1105.0 891.7 1105.0 892.7 1105.0 893.7 1105.0 894.7 1105.0 895.7 1105.0 896.7 1105.0 897.7 1105.0 898.7 1105.0 899.7 1105.0 900.7 1105.0 901.7 1105.0 902.7 1105.0 903.7 1105.0 904.7 1105.0 905.7 1105.0 906.7 1105.0 907.7 1105.0 908.7 1105.0 909.7 1105.0 910.7 1105.0 911.7 1105.0 912.7 1105.0 913.7 1105.0 914.7 1105.0 915.7 1105.0 916.7 1105.0 917.7 1105.0 918.7 1105.0 919.7 1105.0 920.7 1105.0 921.7 1105.0 922.7 1105.0 923.7 1105.0 924.7 1105.0 925.7 1105.0 926.7 1105.0 927.7 1105.0 928.7 1105.0 929.7 1105.0 930.7 1105.0 931.6 1105.0" fill="none" stroke="#00ff00" stroke-width="2.6" stroke-dasharray="14 4"/>
<path d="M632.7 1105.0 633.7 1105.0 634.7 1105.0 635.7 1105.0 636.7 1105.0 637.7 1105.0 638.7 1105.0 639.7 1105.0 640.7 1105.0 641.7 1105.0 642.7 1105.0 643.7 1105.0 644.7 1105.0 645.7 1105.0 646.7 1105.0 647.7 1105.0 648.7 1105.0 649.7 1105.0 650.7 1105.0 651.7 1105.0 652.7 1105.0 653.7 1105.0 654.7 1105.0 655.7 1105.0 656.7 1105.0 657.7 1105.0 658.7 1105.0 659.7 1105.0 660.7 1105.0 661.7 1105.0 662.7 1105.0 663.7 1105.0 664.7 1105.0 665.7 1105.0 666.7 1105.0 667.7 1105.0 668.7 1105.0 669.7 1105.0 670.7 1105.0 671.7 1105.0 672.7 1105.0 673.7 1105.0 674.7 1105.0 675.7 1105.0 676.7 1105.0 677.7 1105.0 678.7 1105.0 679.7 1105.0 680.7 1105.0 681.7 1104.9 682.7 1104.9 683.7 1104.9 684.7 1104.9 685.7 1104.9 686.7 1104.9 687.7 1104.8 688.7 1104.8 689.7 1104.8 690.7 1104.7 691.7 1104.7 692.7 1104.6 693.7 1104.6 694.7 1104.5 695.7 1104.4 696.7 1104.3 697.7 1104.2 698.7 1104.1 699.7 1104.0 700.7 1103.8 701.7 1103.6 702.7 1103.4 703.7 1103.2 704.7 1103.0 705.7 1102.7 706.7 1102.4 707.7 1102.0 708.7 1101.6 709.7 1101.2 710.7 1100.7 711.7 1100.2 712.7 1099.6 713.7 1099.0 714.7 1098.3 715.7 1097.5 716.7 1096.7 717.7 1095.7 718.7 1094.8 719.7 1093.7 720.7 1092.5 721.7 1091.3 722.7 1090.0 723.7 1088.5 724.7 1087.0 725.7 1085.4 726.7 1083.7 727.7 1081.8 728.7 1079.9 729.7 1077.9 730.7 1075.8 731.7 1073.6 732.7 1071.3 733.7 1068.9 734.7 1066.4 735.7 1063.8 736.7 1061.2 737.7 1058.4 738.7 1055.7 739.7 1052.8 740.7 1050.0 741.7 1047.1 742.7 1044.2 743.7 1041.2 744.7 1038.3 745.7 1035.4 746.7 1032.5 747.7 1029.7 748.7 1027.0 749.7 1024.3 750.7 1021.7 751.7 1019.2 752.7 1016.8 753.7 1014.6 754.7 1012.5 755.7 1010.5 756.7 1008.8 757.7 1007.2 758.7 1005.8 759.7 1004.6 760.7 1003.6 761.7 1002.8 762.7 1002.2 763.7 1001.9 764.7 1001.8 765.7 1001.9 766.7 1002.2 767.7 1002.8 768.7 1003.6 769.7 1004.6 770.7 1005.8 771.7 1007.2 772.7 1008.8 773.7 1010.5 774.7 1012.5 775.7 1014.6 776.7 1016.8 777.7 1019.2 778.7 1021.7 779.7 1024.3 780.7 1027.0 781.7 1029.7 782.7 1032.5 783.7 1035.4 784.7 1038.3 785.7 1041.2 786.7 1044.2 787.7 1047.1 788.7 1050.0 789.7 1052.8 790.7 1055.7 791.7 1058.4 792.7 1061.2 793.7 1063.8 794.7 1066.4 795.7 1068.9 796.7 1071.3 797.7 1073.6 798.7 1075.8 799.7 1077.9 800.7 1079.9 801.7 1081.8 802.7 1083.7 803.7 1085.4 804.7 1087.0 805.7 1088.5 806.7 1090.0 807.7 1091.3 808.7 1092.5 809.7 1093.7 810.7 1094.8 811.7 1095.7 812.7 1096.7 813.7 1097.5 814.7 1098.3 815.7 1099.0 816.7 1099.6 817.7 1100.2 818.7 1100.7 819.7 1101.2 820.7 1101.6 821.7 1102.0 822.7 1102.4 823.7 1102.7 824.7 1103.0 825.7 1103.2 826.7 1103.4 827.7 1103.6 828.7 1103.8 829.7 1104.0 830.7 1104.1 831.7 1104.2 832.7 1104.3 833.7 1104.4 834.7 1104.5 835.7 1104.6 836.7 1104.6 837.7 1104.7 838.7 1104.7 839.7 1104.8 840.7 1104.8 841.7 1104.8 842.7 1104.9 843.7 1104.9 844.7 1104.9 845.7 1104.9 846.7 1104.9 847.7 1104.9 848.7 1105.0 849.7 1105.0 850.7 1105.0 851.7 1105.0 852.7 1105.0 853.7 1105.0 854.7 1105.0 855.7 1105.0 856.7 1105.0 857.7 1105.0 858.7 1105.0 859.7 1105.0 860.7 1105.0 861.7 1105.0 862.7 1105.0 863.7 1105.0 864.7 1105.0 865.7 1105.0 866.7 1105.0 867.7 1105.0 868.7 1105.0 869.7 1105.0 870.7 1105.0 871.7 1105.0 872.7 1105.0 873.7 1105.0 874.7 1105.0 875.7 1105.0 876.7 1105.0 877.7 1105.0 878.7 1105.0 879.7 1105.0 880.7 1105.0 881.7 1105.0 882.7 1105.0 883.7 1105.0 884.7 1105.0 885.7 1105.0 886.7 1105.0 887.7 1105.0 888.7 1105.0 889.7 1105.0 890.7 1105.0 891.7 1105.0 892.7 1105.0 893.7 1105.0 894.7 1105.0 895.7 1105.0 896.7 1105.0 897.7 1105.0 898.7 1105.0 899.7 1105.0 900.7 1105.0 901.7 1105.0 902.7 1105.0 903.7 1105.0 904.7 1105.0 905.7 1105.0 906.7 1105.0 907.7 1105.0 908.7 1105.0 909.7 1105.0 910.7 1105.0 911.7 1105.0 912.7 1105.0 913.7 1105.0 914.7 1105.0 915.7 1105.0 916.7 1105.0 917.7 1105.0 918.7 1105.0 919.7 1105.0 920.7 1105.0 921.7 1105.0 922.7 1105.0 923.7 1105.0 924.7 1105.0 925.7 1105.0 926.7 1105.0 927.7 1105.0 928.7 1105.0 929.7 1105.0 930.7 1105.0 931.6 1105.0" fill="none" stroke="#ffff00" stroke-width="2.6" stroke-dasharray="17 4.5 2 4.5"/>
<path d="M632.7 1105.0 633.7 1105.0 634.7 1105.0 635.7 1105.0 636.7 1105.0 637.7 1105.0 638.7 1105.0 639.7 1105.0 640.7 1105.0 641.7 1105.0 642.7 1105.0 643.7 1105.0 644.7 1105.0 645.7 1105.0 646.7 1105.0 647.7 1105.0 648.7 1105.0 649.7 1105.0 650.7 1105.0 651.7 1105.0 652.7 1105.0 653.7 1105.0 654.7 1105.0 655.7 1105.0 656.7 1105.0 657.7 1105.0 658.7 1105.0 659.7 1105.0 660.7 1105.0 661.7 1105.0 662.7 1105.0 663.7 1105.0 664.7 1105.0 665.7 1105.0 666.7 1105.0 667.7 1105.0 668.7 1105.0 669.7 1105.0 670.7 1105.0 671.7 1105.0 672.7 1105.0 673.7 1105.0 674.7 1105.0 675.7 1105.0 676.7 1105.0 677.7 1105.0 678.7 1105.0 679.7 1105.0 680.7 1105.0 681.7 1105.0 682.7 1105.0 683.7 1105.0 684.7 1105.0 685.7 1105.0 686.7 1105.0 687.7 1105.0 688.7 1105.0 689.7 1105.0 690.7 1105.0 691.7 1105.0 692.7 1105.0 693.7 1105.0 694.7 1105.0 695.7 1105.0 696.7 1105.0 697.7 1105.0 698.7 1105.0 699.7 1105.0 700.7 1105.0 701.7 1105.0 702.7 1105.0 703.7 1105.0 704.7 1105.0 705.7 1105.0 706.7 1105.0 707.7 1105.0 708.7 1105.0 709.7 1105.0 710.7 1105.0 711.7 1105.0 712.7 1105.0 713.7 1105.0 714.7 1105.0 715.7 1105.0 716.7 1105.0 717.7 1105.0 718.7 1105.0 719.7 1105.0 720.7 1105.0 721.7 1105.0 722.7 1105.0 723.7 1105.0 724.7 1105.0 725.7 1105.0 726.7 1105.0 727.7 1105.0 728.7 1105.0 729.7 1105.0 730.7 1105.0 731.7 1105.0 732.7 1105.0 733.7 1105.0 734.7 1105.0 735.7 1105.0 736.7 1105.0 737.7 1105.0 738.7 1105.0 739.7 1105.0 740.7 1105.0 741.7 1105.0 742.7 1105.0 743.7 1105.0 744.7 1105.0 745.7 1105.0 746.7 1105.0 747.7 1105.0 748.7 1105.0 749.7 1105.0 750.7 1105.0 751.7 1105.0 752.7 1105.0 753.7 1105.0 754.7 1105.0 755.7 1105.0 756.7 1105.0 757.7 1105.0 758.7 1105.0 759.7 1105.0 760.7 1105.0 761.7 1105.0 762.7 1105.0 763.7 1105.0 764.7 1105.0 765.7 1105.0 766.7 1105.0 767.7 1105.0 768.7 1105.0 769.7 1105.0 770.7 1105.0 771.7 1105.0 772.7 1105.0 773.7 1105.0 774.7 1105.0 775.7 1105.0 776.7 1105.0 777.7 1105.0 778.7 1105.0 779.7 1105.0 780.7 1105.0 781.7 1105.0 782.7 1105.0 783.7 1105.0 784.7 1105.0 785.7 1105.0 786.7 1105.0 787.7 1105.0 788.7 1105.0 789.7 1105.0 790.7 1105.0 791.7 1105.0 792.7 1105.0 793.7 1105.0 794.7 1105.0 795.7 1105.0 796.7 1105.0 797.7 1105.0 798.7 1105.0 799.7 1105.0 800.7 1105.0 801.7 1105.0 802.7 1105.0 803.7 1105.0 804.7 1105.0 805.7 1105.0 806.7 1105.0 807.7 1105.0 808.7 1105.0 809.7 1105.0 810.7 1105.0 811.7 1105.0 812.7 1105.0 813.7 1105.0 814.7 1105.0 815.7 1105.0 816.7 1105.0 817.7 1105.0 818.7 1105.0 819.7 1105.0 820.7 1105.0 821.7 1105.0 822.7 1105.0 823.7 1105.0 824.7 1105.0 825.7 1105.0 826.7 1105.0 827.7 1105.0 828.7 1105.0 829.7 1105.0 830.7 1105.0 831.7 1105.0 832.7 1105.0 833.7 1105.0 834.7 1105.0 835.7 1105.0 836.7 1105.0 837.7 1105.0 838.7 1105.0 839.7 1105.0 840.7 1105.0 841.7 1105.0 842.7 1105.0 843.7 1105.0 844.7 1105.0 845.7 1105.0 846.7 1105.0 847.7 1105.0 848.7 1105.0 849.7 1105.0 850.7 1105.0 851.7 1104.9 852.7 1104.9 853.7 1104.9 854.7 1104.9 855.7 1104.8 856.7 1104.7 857.7 1104.7 858.7 1104.6 859.7 1104.4 860.7 1104.3 861.7 1104.1" fill="none" stroke="#0000ff" stroke-width="2.6" stroke-dasharray="25 8"/>
<path d="M862.7 1103.8 863.7 1103.5 864.7 1103.1 865.7 1102.7 866.7 1102.1 867.7 1101.4 868.7 1100.6 869.7 1099.6 870.7 1098.5 871.7 1097.1 872.7 1095.5 873.7 1093.7 874.7 1091.5 875.7 1089.0 876.7 1086.2 877.7 1083.0 878.7 1079.5 879.7 1075.4 880.7 1071.0 881.7 1066.1 882.7 1060.7 883.7 1054.8 884.7 1048.5 885.7 1041.8 886.7 1034.6 887.7 1027.0 888.7 1019.1 889.7 1010.9 890.7 1002.5 891.7 994.0 892.7 985.3 893.7 976.8 894.7 968.4 895.7 960.2 896.7 952.3 897.7 945.0 898.7 938.1 899.7 932.0 900.7 926.6 901.7 922.0 902.7 918.4 903.7 915.7 904.7 914.0 905.7 913.4 906.7 913.8 907.7 915.3 908.7 917.8 909.7 921.2 910.7 925.6 911.7 930.9 912.7 936.9 913.7 943.6 914.7 950.8 915.7 958.6 916.7 966.7 917.7 975.1 918.7 983.6 919.7 992.2 920.7 1000.8 921.7 1009.2 922.7 1017.5 923.7 1025.5 924.7 1033.1 925.7 1040.4 926.7 1047.2 927.7 1053.6 928.7 1059.5 929.7 1065.0 930.7 1070.0 931.6 1074.1" fill="none" stroke="#0000ff" stroke-width="2.6"/>
<path d="M632.7 1101.5 633.7 1101.3 634.7 1101.1 635.7 1100.8 636.7 1100.6 637.7 1100.4 638.7 1100.1 639.7 1099.9 640.7 1099.6 641.7 1099.3 642.7 1098.9 643.7 1098.6 644.7 1098.2 645.7 1097.7 646.7 1097.2 647.7 1096.7 648.7 1096.1 649.7 1095.5 650.7 1094.8 651.7 1094.1 652.7 1093.3 653.7 1092.4 654.7 1091.5 655.7 1090.5 656.7 1089.4 657.7 1088.2 658.7 1086.9 659.7 1085.6 660.7 1084.1 661.7 1082.6 662.7 1081.0 663.7 1079.2 664.7 1077.4 665.7 1075.5 666.7 1073.4 667.7 1071.3 668.7 1069.1 669.7 1066.7 670.7 1064.3 671.7 1061.7 672.7 1059.0 673.7 1056.2 674.7 1053.3 675.7 1050.2 676.7 1047.1 677.7 1043.8 678.7 1040.4 679.7 1036.8 680.7 1033.1 681.7 1029.3 682.7 1025.4 683.7 1021.3 684.7 1017.1 685.7 1012.8 686.7 1008.4 687.7 1003.9 688.7 999.3 689.7 994.7 690.7 990.1 691.7 985.5 692.7 980.9 693.7 976.4 694.7 971.9 695.7 967.4 696.7 963.1 697.7 958.9 698.7 954.8 699.7 950.8 700.7 947.1 701.7 943.5 702.7 940.1 703.7 936.9 704.7 934.0 705.7 931.4 706.7 929.0 707.7 926.9 708.7 925.2 709.7 923.8 710.7 922.6 711.7 921.8 712.7 921.2 713.7 920.9 714.7 920.8 715.7 920.9 716.7 921.2 717.7 921.6 718.7 922.3 719.7 923.1 720.7 924.0 721.7 925.0 722.7 926.1 723.7 927.3 724.7 928.6 725.7 929.9 726.7 931.2 727.7 932.7 728.7 934.2 729.7 935.7 730.7 937.4 731.7 939.2 732.7 941.1 733.7 943.1 734.7 945.2 735.7 947.4 736.7 949.6 737.7 951.8 738.7 953.9 739.7 955.9 740.7 957.7 741.7 959.4 742.7 960.8 743.7 962.2 744.7 963.3 745.7 964.4 746.7 965.3 747.7 966.1 748.7 966.9 749.7 967.7 750.7 968.4 751.7 969.1 752.7 969.8 753.7 970.6 754.7 971.4 755.7 972.2 756.7 973.1 757.7 974.1 758.7 975.2 759.7 976.3 760.7 977.5 761.7 978.8 762.7 980.2 763.7 981.7 764.7 983.3 765.7 984.9 766.7 986.7 767.7 988.6 768.7 990.6 769.7 992.7 770.7 995.0 771.7 997.3 772.7 999.8 773.7 1002.5 774.7 1005.3 775.7 1008.2 776.7 1011.2 777.7 1014.2 778.7 1017.2 779.7 1020.2 780.7 1023.1 781.7 1025.9 782.7 1028.6 783.7 1031.1 784.7 1033.5 785.7 1035.9 786.7 1038.2 787.7 1040.6 788.7 1043.0 789.7 1045.6 790.7 1048.3 791.7 1051.2 792.7 1054.2 793.7 1057.4 794.7 1060.7 795.7 1064.0 796.7 1067.4 797.7 1070.7 798.7 1074.1 799.7 1077.4 800.7 1080.6 801.7 1083.7 802.7 1086.7 803.7 1089.6 804.7 1092.4 805.7 1095.0" fill="none" stroke="#ff0000" stroke-width="2.6" stroke-dasharray="2.4 3.2"/>
<path d="M878.7 1086.1 879.7 1079.2 880.7 1072.2 881.7 1065.4 882.7 1058.6 883.7 1051.8 884.7 1044.8 885.7 1037.4 886.7 1029.5 887.7 1021.3 888.7 1012.8 889.7 1004.1 890.7 995.3 891.7 986.6 892.7 978.0 893.7 969.6 894.7 961.5 895.7 953.8 896.7 946.5 897.7 939.7 898.7 933.6 899.7 928.1 900.7 923.3 901.7 919.4 902.7 916.4 903.7 914.3 904.7 913.0 905.7 912.5 906.7 912.7 907.7 914.0 908.7 916.4 909.7 920.3 910.7 925.8 911.7 932.7 912.7 940.5 913.7 948.9 914.7 957.5 915.7 965.9 916.7 974.4 917.7 982.7 918.7 991.0 919.7 999.2 920.7 1007.3 921.7 1015.2 922.7 1023.1 923.7 1030.7 924.7 1038.2 925.7 1045.6 926.7 1052.7 927.7 1059.8 928.7 1066.9 929.7 1074.4 930.7 1082.4 931.6 1090.3" fill="none" stroke="#ff0000" stroke-width="2.6" stroke-dasharray="2.4 3.2"/>
<line x1="622.2" y1="890.5" x2="631.7" y2="890.5" stroke="#151515" stroke-width="2.2"/>
<line x1="622.2" y1="933.3" x2="631.7" y2="933.3" stroke="#151515" stroke-width="2.2"/>
<line x1="622.2" y1="976.1" x2="631.7" y2="976.1" stroke="#151515" stroke-width="2.2"/>
<line x1="622.2" y1="1018.9" x2="631.7" y2="1018.9" stroke="#151515" stroke-width="2.2"/>
<line x1="622.2" y1="1061.6" x2="631.7" y2="1061.6" stroke="#151515" stroke-width="2.2"/>
<line x1="622.2" y1="1104.4" x2="631.7" y2="1104.4" stroke="#151515" stroke-width="2.2"/>
<line x1="622.2" y1="1147.2" x2="631.7" y2="1147.2" stroke="#151515" stroke-width="2.2"/>
<line x1="622.2" y1="1190.0" x2="631.7" y2="1190.0" stroke="#151515" stroke-width="2.2"/>
<line x1="632.7" y1="1190.0" x2="632.7" y2="1197.0" stroke="#151515" stroke-width="2.2"/>
<line x1="692.5" y1="1190.0" x2="692.5" y2="1197.0" stroke="#151515" stroke-width="2.2"/>
<line x1="752.3" y1="1190.0" x2="752.3" y2="1197.0" stroke="#151515" stroke-width="2.2"/>
<line x1="812.0" y1="1190.0" x2="812.0" y2="1197.0" stroke="#151515" stroke-width="2.2"/>
<line x1="871.8" y1="1190.0" x2="871.8" y2="1197.0" stroke="#151515" stroke-width="2.2"/>
<line x1="931.6" y1="1190.0" x2="931.6" y2="1197.0" stroke="#151515" stroke-width="2.2"/>
<text x="608.75" y="1227.60" font-size="25.56" textLength="46.42" lengthAdjust="spacingAndGlyphs" >1700</text>
<text x="670.52" y="1227.60" font-size="25.56" textLength="44.43" lengthAdjust="spacingAndGlyphs" >1680</text>
<text x="730.30" y="1227.60" font-size="25.56" textLength="44.43" lengthAdjust="spacingAndGlyphs" >1660</text>
<text x="790.08" y="1227.60" font-size="25.56" textLength="44.43" lengthAdjust="spacingAndGlyphs" >1640</text>
<text x="849.86" y="1227.60" font-size="25.56" textLength="44.43" lengthAdjust="spacingAndGlyphs" >1620</text>
<text x="909.64" y="1227.60" font-size="25.56" textLength="44.43" lengthAdjust="spacingAndGlyphs" >1600</text>
<text x="810.74" y="907.50" font-size="22.81" textLength="117.85" lengthAdjust="spacingAndGlyphs" >3x Rotenone</text>
<text x="682.82" y="1276.30" font-size="26.57" textLength="21.65" lengthAdjust="spacingAndGlyphs" >W</text>
<g transform="translate(0,1276.30) scale(1,0.950) translate(0,-1276.30)"><text x="703.79" y="1276.30" font-size="26.57" textLength="85.37" lengthAdjust="spacingAndGlyphs" >avenumb</text></g>
<g transform="translate(0,1276.30) scale(1,0.950) translate(0,-1276.30)"><text x="793.00" y="1276.30" font-size="26.57" textLength="20.06" lengthAdjust="spacingAndGlyphs" >er</text></g>
<text x="817.98" y="1275.66" font-size="23.90" textLength="10.51" lengthAdjust="spacingAndGlyphs" style="font-weight:normal">(</text>
<g transform="translate(0,1276.30) scale(1,0.950) translate(0,-1276.30)"><text x="825.92" y="1276.30" font-size="26.57" textLength="31.10" lengthAdjust="spacingAndGlyphs" >cm</text></g>
<rect x="854.60" y="1264.39" width="4.40" height="2.22" fill="#000"/>
<text x="860.34" y="1270.60" font-size="26.96" textLength="12.05" lengthAdjust="spacingAndGlyphs" >1</text>
<text x="871.73" y="1275.66" font-size="23.90" textLength="10.12" lengthAdjust="spacingAndGlyphs" style="font-weight:normal">)</text>
<text transform="translate(595.60,1118.76) rotate(-90)" font-size="26.66" textLength="160.53" lengthAdjust="spacingAndGlyphs" xml:space="preserve" >Abs. signal <tspan font-weight="normal">(</tspan>a.u.<tspan font-weight="normal">)</tspan></text>
</svg>
</body></html>
